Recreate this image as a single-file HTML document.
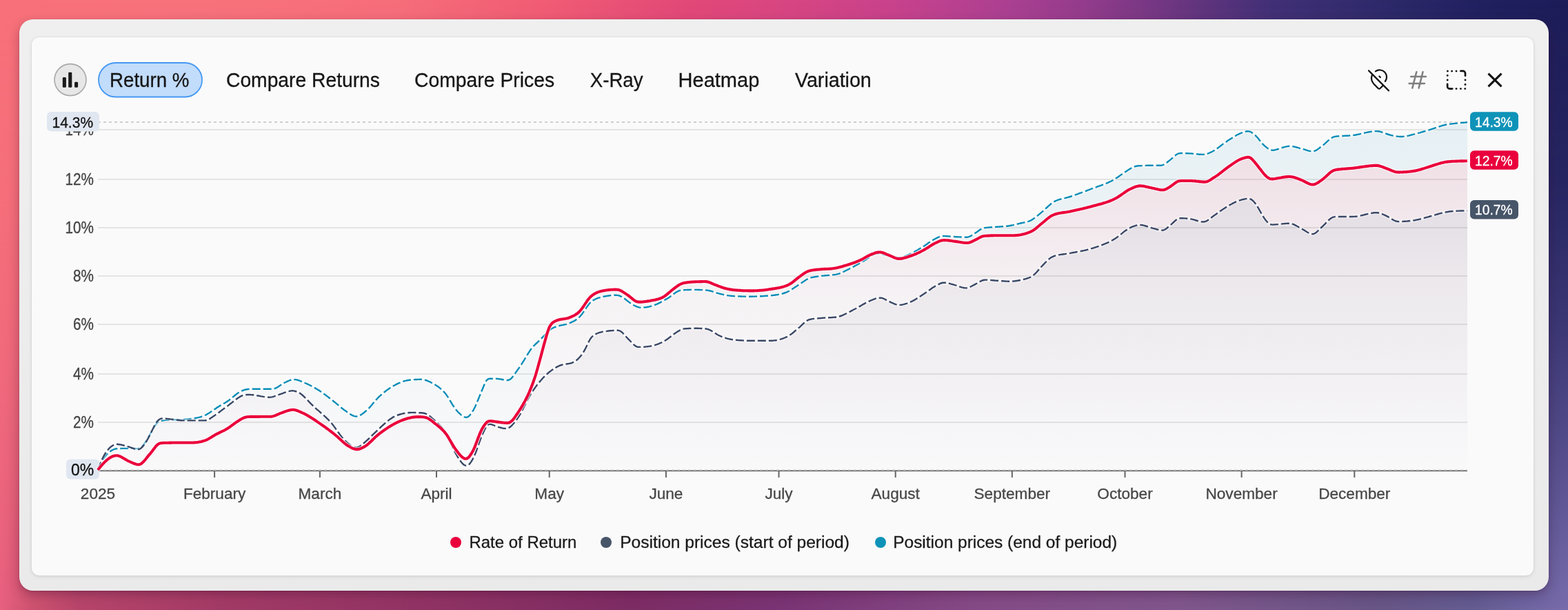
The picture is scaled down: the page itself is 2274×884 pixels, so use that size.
<!DOCTYPE html>
<html><head><meta charset="utf-8"><style>
html,body{margin:0;padding:0;}
body{width:2274px;height:884px;position:relative;overflow:hidden;
background:linear-gradient(90deg,rgb(248,113,122) 0%,rgb(247,114,123) 13%,rgb(246,110,122) 25%,rgb(240,92,116) 35%,rgb(226,72,120) 44%,rgb(216,70,130) 50%,rgb(200,66,140) 57%,rgb(172,64,145) 64%,rgb(148,60,140) 69%,rgb(108,54,128) 75%,rgb(66,48,118) 81%,rgb(46,42,106) 88%,rgb(34,33,96) 94%,rgb(28,28,88) 100%);
font-family:'Liberation Sans',Arial,sans-serif;}
.bgb{position:absolute;left:0;top:0;width:2274px;height:884px;
background:linear-gradient(90deg,rgb(232,96,127) 0%,rgb(205,82,112) 2%,rgb(182,68,106) 5%,rgb(162,58,102) 14%,rgb(142,50,100) 28%,rgb(124,44,100) 40%,rgb(120,52,116) 50%,rgb(132,74,134) 62%,rgb(128,86,140) 75%,rgb(104,86,134) 88%,rgb(100,92,145) 94%,rgb(120,108,172) 100%);
-webkit-mask-image:linear-gradient(180deg,rgba(0,0,0,0) 0%,rgba(0,0,0,0.12) 30%,rgba(0,0,0,0.33) 52%,rgba(0,0,0,0.65) 76%,rgba(0,0,0,1) 100%);mask-image:linear-gradient(180deg,rgba(0,0,0,0) 0%,rgba(0,0,0,0.12) 30%,rgba(0,0,0,0.33) 52%,rgba(0,0,0,0.65) 76%,rgba(0,0,0,1) 100%);}
.outer{position:absolute;left:28px;top:28px;width:2218px;height:828px;border-radius:20px;background:linear-gradient(180deg,#efefef,#eaeaea);
box-shadow:0 6px 16px rgba(50,0,40,0.30),0 1px 3px rgba(0,0,0,0.12);}
.inner{position:absolute;left:46px;top:54px;width:2178px;height:780px;border-radius:11px;background:#fafafa;
box-shadow:0 0 3px rgba(0,0,0,0.10),0 2px 6px rgba(0,0,0,0.08);}
</style></head><body>
<div class="bgb"></div><div class="outer"></div><div class="inner"></div>
<svg width="2274" height="884" viewBox="0 0 2274 884" style="position:absolute;left:0;top:0"><defs><linearGradient id="gT" gradientUnits="userSpaceOnUse" x1="0" y1="177" x2="0" y2="682"><stop offset="0" stop-color="#e6f0f4"/><stop offset="1" stop-color="#f9f9fa"/></linearGradient><linearGradient id="gR" gradientUnits="userSpaceOnUse" x1="0" y1="177" x2="0" y2="682"><stop offset="0" stop-color="rgb(238,219,226)"/><stop offset="0.521" stop-color="rgb(246,243,245)"/><stop offset="1" stop-color="rgb(250,250,250)"/></linearGradient><linearGradient id="gS" gradientUnits="userSpaceOnUse" x1="0" y1="287" x2="0" y2="682"><stop offset="0" stop-color="rgb(228,222,229)"/><stop offset="0.109" stop-color="rgb(230,225,231)"/><stop offset="0.286" stop-color="rgb(236,232,236)"/><stop offset="0.641" stop-color="rgb(242,240,243)"/><stop offset="1" stop-color="rgb(249,249,250)"/></linearGradient></defs><path d="M142.0,681.0 L143.5,677.7 L145.0,674.5 L146.5,671.4 L148.0,668.4 L149.5,665.7 L151.0,663.3 L152.5,661.2 L154.0,659.4 L155.5,657.8 L157.0,656.5 L158.5,655.2 L160.0,654.1 L161.5,653.1 L163.0,652.2 L164.5,651.5 L166.0,650.9 L167.5,650.5 L169.0,650.3 L170.5,650.2 L172.0,650.1 L173.5,650.0 L175.0,650.0 L176.5,649.9 L178.0,649.9 L179.5,649.9 L181.0,649.9 L182.5,649.8 L184.0,649.8 L185.5,649.8 L187.0,649.8 L188.5,649.8 L190.0,649.8 L191.5,649.9 L193.0,649.9 L194.5,650.0 L196.0,650.0 L197.5,650.1 L199.0,650.1 L200.5,650.0 L202.0,649.7 L203.5,649.0 L205.0,647.8 L206.5,646.3 L208.0,644.5 L209.5,642.6 L211.0,640.4 L212.5,638.1 L214.0,635.6 L215.5,632.9 L217.0,630.3 L218.5,627.7 L220.0,625.1 L221.5,622.6 L223.0,620.1 L224.5,617.6 L226.0,615.2 L227.5,613.2 L229.0,611.7 L230.5,610.8 L232.0,610.2 L233.5,609.8 L235.0,609.5 L236.5,609.3 L238.0,609.1 L239.5,608.9 L241.0,608.8 L242.5,608.7 L244.0,608.6 L245.5,608.5 L247.0,608.5 L248.5,608.4 L250.0,608.4 L251.5,608.3 L253.0,608.3 L254.5,608.3 L256.0,608.3 L257.5,608.3 L259.0,608.2 L260.5,608.2 L262.0,608.1 L263.5,608.1 L265.0,608.0 L266.5,607.9 L268.0,607.8 L269.5,607.7 L271.0,607.6 L272.5,607.5 L274.0,607.4 L275.5,607.2 L277.0,607.0 L278.5,606.8 L280.0,606.6 L281.5,606.3 L283.0,606.0 L284.5,605.7 L286.0,605.4 L287.5,605.1 L289.0,604.7 L290.5,604.3 L292.0,603.8 L293.5,603.3 L295.0,602.8 L296.5,602.2 L298.0,601.5 L299.5,600.8 L301.0,599.9 L302.5,599.0 L304.0,598.1 L305.5,597.1 L307.0,596.1 L308.5,595.0 L310.0,594.0 L311.5,592.9 L313.0,591.9 L314.5,590.8 L316.0,589.9 L317.5,588.9 L319.0,588.0 L320.5,587.1 L322.0,586.3 L323.5,585.4 L325.0,584.5 L326.5,583.7 L328.0,582.7 L329.5,581.8 L331.0,580.7 L332.5,579.7 L334.0,578.5 L335.5,577.3 L337.0,576.0 L338.5,574.8 L340.0,573.5 L341.5,572.3 L343.0,571.1 L344.5,570.0 L346.0,569.0 L347.5,568.1 L349.0,567.3 L350.5,566.6 L352.0,565.9 L353.5,565.4 L355.0,564.9 L356.5,564.5 L358.0,564.2 L359.5,564.0 L361.0,563.9 L362.5,563.8 L364.0,563.8 L365.5,563.8 L367.0,563.8 L368.5,563.8 L370.0,563.8 L371.5,563.8 L373.0,563.8 L374.5,563.8 L376.0,563.8 L377.5,563.8 L379.0,563.8 L380.5,563.8 L382.0,563.8 L383.5,563.8 L385.0,563.8 L386.5,563.8 L388.0,563.8 L389.5,563.8 L391.0,563.8 L392.5,563.8 L394.0,563.8 L395.5,563.7 L397.0,563.4 L398.5,563.0 L400.0,562.4 L401.5,561.7 L403.0,560.8 L404.5,559.8 L406.0,558.8 L407.5,557.7 L409.0,556.7 L410.5,555.8 L412.0,555.0 L413.5,554.3 L415.0,553.5 L416.5,552.8 L418.0,552.2 L419.5,551.5 L421.0,550.9 L422.5,550.5 L424.0,550.2 L425.5,550.0 L427.0,550.0 L428.5,550.1 L430.0,550.4 L431.5,550.7 L433.0,551.2 L434.5,551.7 L436.0,552.3 L437.5,552.9 L439.0,553.5 L440.5,554.2 L442.0,554.8 L443.5,555.5 L445.0,556.1 L446.5,556.8 L448.0,557.5 L449.5,558.3 L451.0,559.1 L452.5,559.8 L454.0,560.7 L455.5,561.5 L457.0,562.4 L458.5,563.3 L460.0,564.2 L461.5,565.1 L463.0,566.1 L464.5,567.1 L466.0,568.1 L467.5,569.1 L469.0,570.2 L470.5,571.2 L472.0,572.4 L473.5,573.5 L475.0,574.6 L476.5,575.8 L478.0,577.0 L479.5,578.1 L481.0,579.3 L482.5,580.5 L484.0,581.7 L485.5,582.9 L487.0,584.1 L488.5,585.3 L490.0,586.6 L491.5,587.9 L493.0,589.2 L494.5,590.4 L496.0,591.7 L497.5,592.8 L499.0,594.0 L500.5,595.1 L502.0,596.1 L503.5,597.2 L505.0,598.2 L506.5,599.2 L508.0,600.2 L509.5,601.1 L511.0,601.9 L512.5,602.6 L514.0,603.1 L515.5,603.4 L517.0,603.5 L518.5,603.3 L520.0,602.8 L521.5,602.2 L523.0,601.4 L524.5,600.5 L526.0,599.4 L527.5,598.3 L529.0,597.0 L530.5,595.8 L532.0,594.5 L533.5,593.1 L535.0,591.6 L536.5,589.9 L538.0,588.2 L539.5,586.4 L541.0,584.6 L542.5,582.8 L544.0,581.1 L545.5,579.4 L547.0,577.7 L548.5,576.2 L550.0,574.7 L551.5,573.3 L553.0,572.0 L554.5,570.7 L556.0,569.4 L557.5,568.2 L559.0,567.0 L560.5,565.9 L562.0,564.8 L563.5,563.7 L565.0,562.7 L566.5,561.7 L568.0,560.8 L569.5,559.9 L571.0,559.0 L572.5,558.2 L574.0,557.4 L575.5,556.6 L577.0,555.9 L578.5,555.2 L580.0,554.6 L581.5,553.9 L583.0,553.4 L584.5,552.8 L586.0,552.4 L587.5,551.9 L589.0,551.6 L590.5,551.2 L592.0,551.0 L593.5,550.8 L595.0,550.6 L596.5,550.5 L598.0,550.3 L599.5,550.2 L601.0,550.1 L602.5,550.0 L604.0,550.0 L605.5,549.9 L607.0,549.9 L608.5,549.8 L610.0,549.8 L611.5,549.9 L613.0,550.1 L614.5,550.3 L616.0,550.6 L617.5,551.0 L619.0,551.5 L620.5,552.1 L622.0,552.8 L623.5,553.4 L625.0,554.2 L626.5,555.0 L628.0,555.8 L629.5,556.6 L631.0,557.5 L632.5,558.5 L634.0,559.4 L635.5,560.5 L637.0,561.6 L638.5,562.8 L640.0,564.1 L641.5,565.5 L643.0,567.0 L644.5,568.6 L646.0,570.4 L647.5,572.4 L649.0,574.6 L650.5,576.9 L652.0,579.4 L653.5,581.9 L655.0,584.4 L656.5,586.8 L658.0,589.2 L659.5,591.3 L661.0,593.3 L662.5,595.1 L664.0,596.7 L665.5,598.3 L667.0,599.7 L668.5,601.1 L670.0,602.3 L671.5,603.3 L673.0,604.1 L674.5,604.6 L676.0,604.8 L677.5,604.6 L679.0,603.9 L680.5,602.7 L682.0,601.1 L683.5,599.1 L685.0,596.8 L686.5,594.3 L688.0,591.5 L689.5,588.5 L691.0,585.1 L692.5,581.5 L694.0,577.8 L695.5,574.1 L697.0,570.4 L698.5,566.8 L700.0,563.2 L701.5,559.5 L703.0,556.0 L704.5,553.0 L706.0,550.8 L707.5,549.5 L709.0,549.0 L710.5,548.8 L712.0,548.8 L713.5,548.8 L715.0,548.8 L716.5,548.8 L718.0,548.8 L719.5,548.8 L721.0,548.9 L722.5,549.0 L724.0,549.2 L725.5,549.4 L727.0,549.7 L728.5,550.0 L730.0,550.3 L731.5,550.6 L733.0,550.8 L734.5,551.0 L736.0,551.0 L737.5,550.8 L739.0,550.2 L740.5,549.2 L742.0,547.8 L743.5,546.1 L745.0,544.1 L746.5,542.0 L748.0,539.9 L749.5,537.7 L751.0,535.6 L752.5,533.5 L754.0,531.3 L755.5,529.1 L757.0,526.8 L758.5,524.4 L760.0,522.1 L761.5,519.7 L763.0,517.2 L764.5,514.7 L766.0,512.2 L767.5,509.8 L769.0,507.5 L770.5,505.4 L772.0,503.5 L773.5,501.9 L775.0,500.3 L776.5,498.9 L778.0,497.5 L779.5,496.1 L781.0,494.7 L782.5,493.2 L784.0,491.7 L785.5,490.2 L787.0,488.7 L788.5,487.2 L790.0,485.6 L791.5,484.1 L793.0,482.5 L794.5,480.9 L796.0,479.4 L797.5,478.1 L799.0,477.0 L800.5,476.0 L802.0,475.2 L803.5,474.5 L805.0,474.0 L806.5,473.5 L808.0,473.0 L809.5,472.5 L811.0,472.1 L812.5,471.7 L814.0,471.4 L815.5,471.1 L817.0,470.8 L818.5,470.5 L820.0,470.2 L821.5,469.8 L823.0,469.3 L824.5,468.8 L826.0,468.2 L827.5,467.6 L829.0,466.9 L830.5,466.2 L832.0,465.5 L833.5,464.6 L835.0,463.7 L836.5,462.7 L838.0,461.6 L839.5,460.3 L841.0,458.8 L842.5,457.1 L844.0,455.2 L845.5,453.1 L847.0,450.9 L848.5,448.6 L850.0,446.4 L851.5,444.2 L853.0,442.2 L854.5,440.3 L856.0,438.7 L857.5,437.3 L859.0,436.1 L860.5,435.1 L862.0,434.2 L863.5,433.5 L865.0,432.8 L866.5,432.2 L868.0,431.7 L869.5,431.3 L871.0,430.9 L872.5,430.5 L874.0,430.1 L875.5,429.8 L877.0,429.5 L878.5,429.2 L880.0,428.9 L881.5,428.7 L883.0,428.5 L884.5,428.3 L886.0,428.1 L887.5,428.0 L889.0,427.9 L890.5,427.8 L892.0,427.8 L893.5,427.8 L895.0,427.9 L896.5,428.1 L898.0,428.5 L899.5,429.1 L901.0,429.8 L902.5,430.6 L904.0,431.5 L905.5,432.5 L907.0,433.7 L908.5,434.9 L910.0,436.1 L911.5,437.3 L913.0,438.4 L914.5,439.5 L916.0,440.4 L917.5,441.3 L919.0,442.2 L920.5,443.0 L922.0,443.7 L923.5,444.4 L925.0,444.9 L926.5,445.4 L928.0,445.6 L929.5,445.7 L931.0,445.7 L932.5,445.6 L934.0,445.5 L935.5,445.4 L937.0,445.2 L938.5,445.0 L940.0,444.7 L941.5,444.4 L943.0,444.0 L944.5,443.7 L946.0,443.2 L947.5,442.8 L949.0,442.2 L950.5,441.7 L952.0,441.0 L953.5,440.4 L955.0,439.6 L956.5,438.9 L958.0,438.1 L959.5,437.3 L961.0,436.5 L962.5,435.6 L964.0,434.8 L965.5,433.9 L967.0,433.1 L968.5,432.2 L970.0,431.2 L971.5,430.2 L973.0,429.1 L974.5,428.0 L976.0,426.8 L977.5,425.7 L979.0,424.6 L980.5,423.6 L982.0,422.7 L983.5,421.9 L985.0,421.3 L986.5,420.8 L988.0,420.5 L989.5,420.4 L991.0,420.3 L992.5,420.2 L994.0,420.1 L995.5,420.1 L997.0,420.0 L998.5,420.0 L1000.0,420.0 L1001.5,419.9 L1003.0,419.9 L1004.5,419.9 L1006.0,419.9 L1007.5,419.9 L1009.0,419.9 L1010.5,419.9 L1012.0,420.0 L1013.5,420.0 L1015.0,420.0 L1016.5,420.1 L1018.0,420.1 L1019.5,420.2 L1021.0,420.3 L1022.5,420.4 L1024.0,420.5 L1025.5,420.6 L1027.0,420.9 L1028.5,421.2 L1030.0,421.5 L1031.5,421.9 L1033.0,422.4 L1034.5,422.9 L1036.0,423.3 L1037.5,423.8 L1039.0,424.3 L1040.5,424.8 L1042.0,425.2 L1043.5,425.6 L1045.0,426.0 L1046.5,426.3 L1048.0,426.7 L1049.5,427.0 L1051.0,427.3 L1052.5,427.6 L1054.0,427.9 L1055.5,428.2 L1057.0,428.4 L1058.5,428.6 L1060.0,428.8 L1061.5,428.9 L1063.0,429.0 L1064.5,429.1 L1066.0,429.2 L1067.5,429.2 L1069.0,429.3 L1070.5,429.4 L1072.0,429.4 L1073.5,429.5 L1075.0,429.5 L1076.5,429.6 L1078.0,429.6 L1079.5,429.6 L1081.0,429.7 L1082.5,429.7 L1084.0,429.7 L1085.5,429.7 L1087.0,429.7 L1088.5,429.7 L1090.0,429.7 L1091.5,429.7 L1093.0,429.6 L1094.5,429.6 L1096.0,429.6 L1097.5,429.5 L1099.0,429.5 L1100.5,429.4 L1102.0,429.3 L1103.5,429.3 L1105.0,429.2 L1106.5,429.1 L1108.0,429.0 L1109.5,428.9 L1111.0,428.8 L1112.5,428.7 L1114.0,428.6 L1115.5,428.4 L1117.0,428.3 L1118.5,428.2 L1120.0,428.0 L1121.5,427.9 L1123.0,427.7 L1124.5,427.5 L1126.0,427.3 L1127.5,427.1 L1129.0,426.8 L1130.5,426.5 L1132.0,426.2 L1133.5,425.9 L1135.0,425.5 L1136.5,425.0 L1138.0,424.5 L1139.5,424.0 L1141.0,423.4 L1142.5,422.7 L1144.0,422.0 L1145.5,421.1 L1147.0,420.3 L1148.5,419.3 L1150.0,418.3 L1151.5,417.3 L1153.0,416.3 L1154.5,415.3 L1156.0,414.2 L1157.5,413.2 L1159.0,412.3 L1160.5,411.3 L1162.0,410.3 L1163.5,409.2 L1165.0,408.2 L1166.5,407.2 L1168.0,406.2 L1169.5,405.3 L1171.0,404.5 L1172.5,403.7 L1174.0,403.1 L1175.5,402.6 L1177.0,402.2 L1178.5,401.8 L1180.0,401.5 L1181.5,401.2 L1183.0,401.0 L1184.5,400.8 L1186.0,400.6 L1187.5,400.4 L1189.0,400.2 L1190.5,400.0 L1192.0,399.8 L1193.5,399.6 L1195.0,399.5 L1196.5,399.3 L1198.0,399.2 L1199.5,399.1 L1201.0,399.0 L1202.5,398.9 L1204.0,398.8 L1205.5,398.7 L1207.0,398.5 L1208.5,398.3 L1210.0,398.1 L1211.5,397.9 L1213.0,397.6 L1214.5,397.2 L1216.0,396.8 L1217.5,396.3 L1219.0,395.7 L1220.5,395.1 L1222.0,394.5 L1223.5,393.8 L1225.0,393.0 L1226.5,392.3 L1228.0,391.5 L1229.5,390.7 L1231.0,390.0 L1232.5,389.2 L1234.0,388.4 L1235.5,387.6 L1237.0,386.9 L1238.5,386.1 L1240.0,385.2 L1241.5,384.4 L1243.0,383.6 L1244.5,382.7 L1246.0,381.9 L1247.5,381.0 L1249.0,380.2 L1250.5,379.3 L1252.0,378.5 L1253.5,377.6 L1255.0,376.7 L1256.5,375.7 L1258.0,374.6 L1259.5,373.6 L1261.0,372.5 L1262.5,371.5 L1264.0,370.5 L1265.5,369.6 L1267.0,368.8 L1268.5,368.2 L1270.0,367.7 L1271.5,367.4 L1273.0,367.3 L1274.5,367.4 L1276.0,367.6 L1277.5,367.9 L1279.0,368.3 L1280.5,368.6 L1282.0,369.0 L1283.5,369.4 L1285.0,369.7 L1286.5,370.1 L1288.0,370.5 L1289.5,370.9 L1291.0,371.3 L1292.5,371.6 L1294.0,372.0 L1295.5,372.3 L1297.0,372.6 L1298.5,372.9 L1300.0,373.0 L1301.5,373.2 L1303.0,373.2 L1304.5,373.1 L1306.0,373.0 L1307.5,372.7 L1309.0,372.3 L1310.5,371.8 L1312.0,371.3 L1313.5,370.7 L1315.0,370.2 L1316.5,369.6 L1318.0,368.9 L1319.5,368.3 L1321.0,367.6 L1322.5,366.8 L1324.0,366.1 L1325.5,365.2 L1327.0,364.4 L1328.5,363.5 L1330.0,362.7 L1331.5,361.8 L1333.0,360.9 L1334.5,360.0 L1336.0,359.0 L1337.5,358.1 L1339.0,357.2 L1340.5,356.2 L1342.0,355.2 L1343.5,354.2 L1345.0,353.2 L1346.5,352.1 L1348.0,351.1 L1349.5,350.1 L1351.0,349.1 L1352.5,348.2 L1354.0,347.3 L1355.5,346.5 L1357.0,345.7 L1358.5,344.9 L1360.0,344.2 L1361.5,343.5 L1363.0,342.9 L1364.5,342.5 L1366.0,342.2 L1367.5,342.1 L1369.0,342.1 L1370.5,342.1 L1372.0,342.2 L1373.5,342.3 L1375.0,342.4 L1376.5,342.5 L1378.0,342.6 L1379.5,342.7 L1381.0,342.8 L1382.5,342.9 L1384.0,343.0 L1385.5,343.1 L1387.0,343.2 L1388.5,343.3 L1390.0,343.4 L1391.5,343.4 L1393.0,343.5 L1394.5,343.6 L1396.0,343.6 L1397.5,343.7 L1399.0,343.7 L1400.5,343.8 L1402.0,343.7 L1403.5,343.6 L1405.0,343.2 L1406.5,342.6 L1408.0,341.9 L1409.5,340.9 L1411.0,339.9 L1412.5,338.9 L1414.0,337.9 L1415.5,336.9 L1417.0,335.9 L1418.5,334.9 L1420.0,333.8 L1421.5,332.8 L1423.0,331.9 L1424.5,331.2 L1426.0,330.7 L1427.5,330.3 L1429.0,330.1 L1430.5,329.9 L1432.0,329.8 L1433.5,329.6 L1435.0,329.5 L1436.5,329.4 L1438.0,329.3 L1439.5,329.2 L1441.0,329.1 L1442.5,329.0 L1444.0,328.9 L1445.5,328.8 L1447.0,328.7 L1448.5,328.6 L1450.0,328.5 L1451.5,328.4 L1453.0,328.3 L1454.5,328.2 L1456.0,328.1 L1457.5,328.0 L1459.0,327.8 L1460.5,327.7 L1462.0,327.5 L1463.5,327.3 L1465.0,327.0 L1466.5,326.7 L1468.0,326.4 L1469.5,326.1 L1471.0,325.7 L1472.5,325.4 L1474.0,325.0 L1475.5,324.6 L1477.0,324.3 L1478.5,323.9 L1480.0,323.5 L1481.5,323.2 L1483.0,322.9 L1484.5,322.6 L1486.0,322.3 L1487.5,322.0 L1489.0,321.6 L1490.5,321.2 L1492.0,320.7 L1493.5,320.1 L1495.0,319.4 L1496.5,318.6 L1498.0,317.6 L1499.5,316.6 L1501.0,315.5 L1502.5,314.4 L1504.0,313.2 L1505.5,311.9 L1507.0,310.7 L1508.5,309.4 L1510.0,308.2 L1511.5,306.9 L1513.0,305.6 L1514.5,304.2 L1516.0,302.8 L1517.5,301.4 L1519.0,300.0 L1520.5,298.6 L1522.0,297.3 L1523.5,296.0 L1525.0,294.8 L1526.5,293.7 L1528.0,292.8 L1529.5,291.9 L1531.0,291.1 L1532.5,290.5 L1534.0,289.9 L1535.5,289.4 L1537.0,288.9 L1538.5,288.5 L1540.0,288.1 L1541.5,287.8 L1543.0,287.4 L1544.5,287.1 L1546.0,286.7 L1547.5,286.3 L1549.0,285.9 L1550.5,285.5 L1552.0,285.0 L1553.5,284.5 L1555.0,283.9 L1556.5,283.4 L1558.0,282.9 L1559.5,282.4 L1561.0,281.8 L1562.5,281.3 L1564.0,280.7 L1565.5,280.2 L1567.0,279.6 L1568.5,279.1 L1570.0,278.5 L1571.5,278.0 L1573.0,277.4 L1574.5,276.9 L1576.0,276.3 L1577.5,275.7 L1579.0,275.2 L1580.5,274.6 L1582.0,274.0 L1583.5,273.4 L1585.0,272.9 L1586.5,272.3 L1588.0,271.8 L1589.5,271.3 L1591.0,270.7 L1592.5,270.2 L1594.0,269.7 L1595.5,269.1 L1597.0,268.6 L1598.5,268.0 L1600.0,267.5 L1601.5,266.9 L1603.0,266.3 L1604.5,265.7 L1606.0,265.1 L1607.5,264.4 L1609.0,263.7 L1610.5,263.0 L1612.0,262.2 L1613.5,261.4 L1615.0,260.6 L1616.5,259.7 L1618.0,258.8 L1619.5,257.8 L1621.0,256.8 L1622.5,255.7 L1624.0,254.6 L1625.5,253.5 L1627.0,252.5 L1628.5,251.4 L1630.0,250.4 L1631.5,249.4 L1633.0,248.4 L1634.5,247.5 L1636.0,246.5 L1637.5,245.6 L1639.0,244.6 L1640.5,243.7 L1642.0,242.9 L1643.5,242.2 L1645.0,241.5 L1646.5,241.0 L1648.0,240.7 L1649.5,240.5 L1651.0,240.3 L1652.5,240.2 L1654.0,240.2 L1655.5,240.1 L1657.0,240.0 L1658.5,240.0 L1660.0,239.9 L1661.5,239.9 L1663.0,239.9 L1664.5,239.8 L1666.0,239.8 L1667.5,239.8 L1669.0,239.8 L1670.5,239.8 L1672.0,239.8 L1673.5,239.8 L1675.0,239.8 L1676.5,239.8 L1678.0,239.8 L1679.5,239.8 L1681.0,239.8 L1682.5,239.8 L1684.0,239.7 L1685.5,239.4 L1687.0,238.9 L1688.5,238.2 L1690.0,237.3 L1691.5,236.2 L1693.0,235.0 L1694.5,233.8 L1696.0,232.6 L1697.5,231.4 L1699.0,230.2 L1700.5,228.9 L1702.0,227.5 L1703.5,226.2 L1705.0,224.9 L1706.5,223.8 L1708.0,223.0 L1709.5,222.4 L1711.0,222.1 L1712.5,222.0 L1714.0,221.9 L1715.5,222.0 L1717.0,222.0 L1718.5,222.1 L1720.0,222.1 L1721.5,222.2 L1723.0,222.3 L1724.5,222.4 L1726.0,222.4 L1727.5,222.5 L1729.0,222.6 L1730.5,222.8 L1732.0,222.9 L1733.5,223.1 L1735.0,223.2 L1736.5,223.4 L1738.0,223.5 L1739.5,223.7 L1741.0,223.8 L1742.5,223.9 L1744.0,223.9 L1745.5,223.9 L1747.0,223.8 L1748.5,223.5 L1750.0,223.1 L1751.5,222.6 L1753.0,222.0 L1754.5,221.4 L1756.0,220.7 L1757.5,220.0 L1759.0,219.2 L1760.5,218.3 L1762.0,217.4 L1763.5,216.4 L1765.0,215.3 L1766.5,214.2 L1768.0,213.1 L1769.5,212.0 L1771.0,210.8 L1772.5,209.6 L1774.0,208.5 L1775.5,207.4 L1777.0,206.4 L1778.5,205.4 L1780.0,204.3 L1781.5,203.3 L1783.0,202.3 L1784.5,201.4 L1786.0,200.4 L1787.5,199.4 L1789.0,198.4 L1790.5,197.5 L1792.0,196.7 L1793.5,195.8 L1795.0,195.0 L1796.5,194.3 L1798.0,193.6 L1799.5,193.0 L1801.0,192.4 L1802.5,191.9 L1804.0,191.3 L1805.5,190.9 L1807.0,190.5 L1808.5,190.3 L1810.0,190.2 L1811.5,190.4 L1813.0,190.8 L1814.5,191.5 L1816.0,192.4 L1817.5,193.6 L1819.0,194.9 L1820.5,196.2 L1822.0,197.7 L1823.5,199.3 L1825.0,201.1 L1826.5,203.0 L1828.0,204.9 L1829.5,206.7 L1831.0,208.4 L1832.5,210.0 L1834.0,211.4 L1835.5,212.7 L1837.0,213.9 L1838.5,215.0 L1840.0,216.0 L1841.5,216.8 L1843.0,217.3 L1844.5,217.6 L1846.0,217.7 L1847.5,217.6 L1849.0,217.3 L1850.5,216.9 L1852.0,216.5 L1853.5,216.0 L1855.0,215.4 L1856.5,214.9 L1858.0,214.4 L1859.5,214.0 L1861.0,213.6 L1862.5,213.2 L1864.0,212.8 L1865.5,212.4 L1867.0,212.1 L1868.5,211.9 L1870.0,211.8 L1871.5,211.8 L1873.0,211.9 L1874.5,212.1 L1876.0,212.4 L1877.5,212.7 L1879.0,213.1 L1880.5,213.5 L1882.0,213.9 L1883.5,214.4 L1885.0,214.8 L1886.5,215.2 L1888.0,215.6 L1889.5,216.0 L1891.0,216.4 L1892.5,216.9 L1894.0,217.4 L1895.5,217.9 L1897.0,218.3 L1898.5,218.7 L1900.0,219.0 L1901.5,219.2 L1903.0,219.3 L1904.5,219.2 L1906.0,218.9 L1907.5,218.4 L1909.0,217.6 L1910.5,216.7 L1912.0,215.6 L1913.5,214.5 L1915.0,213.3 L1916.5,212.2 L1918.0,211.1 L1919.5,209.9 L1921.0,208.6 L1922.5,207.2 L1924.0,205.8 L1925.5,204.4 L1927.0,203.1 L1928.5,201.8 L1930.0,200.6 L1931.5,199.7 L1933.0,198.9 L1934.5,198.3 L1936.0,197.9 L1937.5,197.7 L1939.0,197.5 L1940.5,197.4 L1942.0,197.3 L1943.5,197.2 L1945.0,197.1 L1946.5,197.0 L1948.0,197.0 L1949.5,196.9 L1951.0,196.8 L1952.5,196.8 L1954.0,196.7 L1955.5,196.6 L1957.0,196.5 L1958.5,196.4 L1960.0,196.3 L1961.5,196.1 L1963.0,195.9 L1964.5,195.7 L1966.0,195.5 L1967.5,195.2 L1969.0,194.9 L1970.5,194.6 L1972.0,194.3 L1973.5,193.9 L1975.0,193.6 L1976.5,193.2 L1978.0,192.9 L1979.5,192.5 L1981.0,192.2 L1982.5,191.8 L1984.0,191.5 L1985.5,191.2 L1987.0,191.0 L1988.5,190.7 L1990.0,190.5 L1991.5,190.3 L1993.0,190.2 L1994.5,190.1 L1996.0,190.1 L1997.5,190.1 L1999.0,190.3 L2000.5,190.5 L2002.0,190.9 L2003.5,191.3 L2005.0,191.8 L2006.5,192.3 L2008.0,192.8 L2009.5,193.4 L2011.0,194.0 L2012.5,194.5 L2014.0,195.0 L2015.5,195.5 L2017.0,195.9 L2018.5,196.2 L2020.0,196.6 L2021.5,196.8 L2023.0,197.1 L2024.5,197.3 L2026.0,197.6 L2027.5,197.8 L2029.0,197.9 L2030.5,198.0 L2032.0,198.0 L2033.5,198.0 L2035.0,197.9 L2036.5,197.8 L2038.0,197.6 L2039.5,197.3 L2041.0,197.0 L2042.5,196.7 L2044.0,196.3 L2045.5,195.9 L2047.0,195.5 L2048.5,195.1 L2050.0,194.7 L2051.5,194.3 L2053.0,193.8 L2054.5,193.5 L2056.0,193.1 L2057.5,192.7 L2059.0,192.3 L2060.5,191.8 L2062.0,191.4 L2063.5,191.0 L2065.0,190.5 L2066.5,190.1 L2068.0,189.6 L2069.5,189.2 L2071.0,188.7 L2072.5,188.3 L2074.0,187.8 L2075.5,187.3 L2077.0,186.9 L2078.5,186.4 L2080.0,185.9 L2081.5,185.4 L2083.0,184.9 L2084.5,184.3 L2086.0,183.8 L2087.5,183.3 L2089.0,182.8 L2090.5,182.4 L2092.0,181.9 L2093.5,181.5 L2095.0,181.1 L2096.5,180.8 L2098.0,180.5 L2099.5,180.2 L2101.0,180.0 L2102.5,179.8 L2104.0,179.6 L2105.5,179.4 L2107.0,179.3 L2108.5,179.1 L2110.0,178.9 L2111.5,178.8 L2113.0,178.6 L2114.5,178.5 L2116.0,178.3 L2117.5,178.1 L2119.0,178.0 L2120.5,177.9 L2122.0,177.7 L2123.5,177.6 L2125.0,177.5 L2126.5,177.3 L2128.0,177.2 L2128.0,682 L142.0,682 Z" fill="url(#gT)"/><path d="M142.0,681.0 L143.5,679.1 L145.0,677.3 L146.5,675.4 L148.0,673.7 L149.5,672.0 L151.0,670.4 L152.5,668.9 L154.0,667.5 L155.5,666.2 L157.0,665.1 L158.5,664.0 L160.0,663.1 L161.5,662.2 L163.0,661.5 L164.5,660.9 L166.0,660.5 L167.5,660.2 L169.0,660.2 L170.5,660.3 L172.0,660.6 L173.5,661.1 L175.0,661.8 L176.5,662.5 L178.0,663.4 L179.5,664.3 L181.0,665.2 L182.5,666.1 L184.0,667.0 L185.5,667.8 L187.0,668.5 L188.5,669.2 L190.0,669.8 L191.5,670.5 L193.0,671.1 L194.5,671.8 L196.0,672.3 L197.5,672.8 L199.0,673.1 L200.5,673.2 L202.0,673.1 L203.5,672.7 L205.0,671.8 L206.5,670.6 L208.0,669.2 L209.5,667.5 L211.0,665.7 L212.5,663.8 L214.0,661.9 L215.5,660.1 L217.0,658.4 L218.5,656.6 L220.0,654.7 L221.5,652.7 L223.0,650.7 L224.5,648.7 L226.0,646.9 L227.5,645.2 L229.0,643.9 L230.5,643.0 L232.0,642.4 L233.5,642.1 L235.0,642.0 L236.5,641.9 L238.0,641.8 L239.5,641.8 L241.0,641.7 L242.5,641.7 L244.0,641.7 L245.5,641.6 L247.0,641.6 L248.5,641.6 L250.0,641.5 L251.5,641.5 L253.0,641.5 L254.5,641.5 L256.0,641.5 L257.5,641.5 L259.0,641.5 L260.5,641.5 L262.0,641.5 L263.5,641.5 L265.0,641.5 L266.5,641.5 L268.0,641.5 L269.5,641.5 L271.0,641.5 L272.5,641.5 L274.0,641.5 L275.5,641.5 L277.0,641.5 L278.5,641.5 L280.0,641.5 L281.5,641.4 L283.0,641.3 L284.5,641.2 L286.0,641.0 L287.5,640.8 L289.0,640.5 L290.5,640.2 L292.0,639.9 L293.5,639.5 L295.0,639.1 L296.5,638.6 L298.0,638.1 L299.5,637.5 L301.0,636.8 L302.5,636.0 L304.0,635.1 L305.5,634.2 L307.0,633.3 L308.5,632.3 L310.0,631.4 L311.5,630.5 L313.0,629.6 L314.5,628.9 L316.0,628.1 L317.5,627.4 L319.0,626.6 L320.5,625.9 L322.0,625.2 L323.5,624.5 L325.0,623.8 L326.5,623.0 L328.0,622.1 L329.5,621.2 L331.0,620.3 L332.5,619.3 L334.0,618.2 L335.5,617.1 L337.0,615.9 L338.5,614.8 L340.0,613.7 L341.5,612.7 L343.0,611.6 L344.5,610.7 L346.0,609.7 L347.5,608.8 L349.0,607.8 L350.5,607.0 L352.0,606.2 L353.5,605.5 L355.0,604.9 L356.5,604.5 L358.0,604.2 L359.5,604.0 L361.0,604.0 L362.5,603.9 L364.0,603.9 L365.5,603.9 L367.0,603.9 L368.5,603.9 L370.0,603.9 L371.5,603.9 L373.0,603.9 L374.5,603.9 L376.0,603.9 L377.5,603.8 L379.0,603.8 L380.5,603.8 L382.0,603.8 L383.5,603.8 L385.0,603.8 L386.5,603.8 L388.0,603.8 L389.5,603.8 L391.0,603.7 L392.5,603.7 L394.0,603.6 L395.5,603.3 L397.0,602.9 L398.5,602.4 L400.0,601.8 L401.5,601.1 L403.0,600.5 L404.5,599.8 L406.0,599.2 L407.5,598.6 L409.0,598.1 L410.5,597.5 L412.0,597.0 L413.5,596.4 L415.0,595.9 L416.5,595.4 L418.0,594.9 L419.5,594.5 L421.0,594.2 L422.5,594.0 L424.0,593.8 L425.5,593.8 L427.0,594.0 L428.5,594.3 L430.0,594.7 L431.5,595.2 L433.0,595.8 L434.5,596.5 L436.0,597.1 L437.5,597.8 L439.0,598.5 L440.5,599.2 L442.0,599.9 L443.5,600.7 L445.0,601.5 L446.5,602.4 L448.0,603.3 L449.5,604.2 L451.0,605.1 L452.5,606.1 L454.0,607.0 L455.5,608.0 L457.0,609.0 L458.5,610.0 L460.0,611.1 L461.5,612.1 L463.0,613.1 L464.5,614.1 L466.0,615.2 L467.5,616.2 L469.0,617.3 L470.5,618.3 L472.0,619.4 L473.5,620.5 L475.0,621.6 L476.5,622.7 L478.0,623.8 L479.5,625.0 L481.0,626.1 L482.5,627.3 L484.0,628.5 L485.5,629.7 L487.0,631.0 L488.5,632.2 L490.0,633.5 L491.5,634.9 L493.0,636.3 L494.5,637.7 L496.0,639.1 L497.5,640.5 L499.0,641.8 L500.5,643.0 L502.0,644.2 L503.5,645.2 L505.0,646.2 L506.5,647.1 L508.0,648.0 L509.5,648.8 L511.0,649.6 L512.5,650.2 L514.0,650.6 L515.5,651.0 L517.0,651.1 L518.5,651.1 L520.0,650.9 L521.5,650.5 L523.0,650.0 L524.5,649.4 L526.0,648.7 L527.5,647.9 L529.0,647.1 L530.5,646.1 L532.0,645.0 L533.5,643.8 L535.0,642.5 L536.5,641.1 L538.0,639.7 L539.5,638.2 L541.0,636.7 L542.5,635.3 L544.0,633.8 L545.5,632.5 L547.0,631.1 L548.5,629.9 L550.0,628.7 L551.5,627.6 L553.0,626.4 L554.5,625.3 L556.0,624.3 L557.5,623.2 L559.0,622.1 L560.5,621.1 L562.0,620.1 L563.5,619.1 L565.0,618.2 L566.5,617.3 L568.0,616.4 L569.5,615.5 L571.0,614.7 L572.5,613.9 L574.0,613.1 L575.5,612.3 L577.0,611.6 L578.5,611.0 L580.0,610.3 L581.5,609.7 L583.0,609.1 L584.5,608.5 L586.0,608.0 L587.5,607.5 L589.0,607.0 L590.5,606.5 L592.0,606.1 L593.5,605.7 L595.0,605.4 L596.5,605.1 L598.0,604.8 L599.5,604.6 L601.0,604.4 L602.5,604.2 L604.0,604.1 L605.5,604.1 L607.0,604.0 L608.5,604.1 L610.0,604.1 L611.5,604.2 L613.0,604.3 L614.5,604.5 L616.0,604.7 L617.5,605.0 L619.0,605.5 L620.5,606.2 L622.0,607.0 L623.5,608.0 L625.0,609.1 L626.5,610.2 L628.0,611.4 L629.5,612.6 L631.0,613.8 L632.5,615.0 L634.0,616.2 L635.5,617.4 L637.0,618.6 L638.5,619.9 L640.0,621.2 L641.5,622.7 L643.0,624.2 L644.5,625.9 L646.0,627.7 L647.5,629.7 L649.0,631.9 L650.5,634.3 L652.0,636.9 L653.5,639.5 L655.0,642.1 L656.5,644.7 L658.0,647.1 L659.5,649.4 L661.0,651.5 L662.5,653.5 L664.0,655.5 L665.5,657.4 L667.0,659.2 L668.5,660.8 L670.0,662.2 L671.5,663.3 L673.0,664.2 L674.5,664.7 L676.0,664.7 L677.5,664.2 L679.0,663.2 L680.5,661.7 L682.0,659.7 L683.5,657.5 L685.0,655.0 L686.5,652.1 L688.0,648.9 L689.5,645.2 L691.0,641.3 L692.5,637.2 L694.0,633.2 L695.5,629.4 L697.0,625.9 L698.5,622.8 L700.0,620.1 L701.5,617.6 L703.0,615.4 L704.5,613.5 L706.0,612.0 L707.5,611.0 L709.0,610.4 L710.5,610.2 L712.0,610.2 L713.5,610.4 L715.0,610.6 L716.5,610.8 L718.0,611.0 L719.5,611.2 L721.0,611.4 L722.5,611.6 L724.0,611.8 L725.5,612.0 L727.0,612.2 L728.5,612.4 L730.0,612.5 L731.5,612.7 L733.0,612.8 L734.5,612.9 L736.0,612.9 L737.5,612.7 L739.0,612.2 L740.5,611.4 L742.0,610.2 L743.5,608.7 L745.0,606.9 L746.5,604.9 L748.0,602.7 L749.5,600.5 L751.0,598.3 L752.5,596.0 L754.0,593.7 L755.5,591.4 L757.0,588.9 L758.5,586.3 L760.0,583.6 L761.5,580.9 L763.0,578.0 L764.5,575.0 L766.0,571.8 L767.5,568.5 L769.0,564.9 L770.5,561.2 L772.0,557.3 L773.5,553.2 L775.0,548.8 L776.5,544.3 L778.0,539.4 L779.5,534.2 L781.0,528.8 L782.5,523.3 L784.0,517.7 L785.5,512.1 L787.0,506.5 L788.5,500.9 L790.0,495.5 L791.5,490.1 L793.0,484.9 L794.5,480.1 L796.0,475.9 L797.5,472.7 L799.0,470.3 L800.5,468.6 L802.0,467.3 L803.5,466.3 L805.0,465.5 L806.5,464.8 L808.0,464.2 L809.5,463.7 L811.0,463.3 L812.5,462.9 L814.0,462.7 L815.5,462.5 L817.0,462.3 L818.5,462.1 L820.0,461.8 L821.5,461.5 L823.0,461.2 L824.5,460.7 L826.0,460.2 L827.5,459.5 L829.0,458.9 L830.5,458.2 L832.0,457.5 L833.5,456.7 L835.0,455.8 L836.5,454.8 L838.0,453.6 L839.5,452.3 L841.0,450.8 L842.5,449.0 L844.0,447.1 L845.5,445.0 L847.0,442.8 L848.5,440.5 L850.0,438.3 L851.5,436.1 L853.0,434.1 L854.5,432.2 L856.0,430.6 L857.5,429.2 L859.0,427.9 L860.5,426.8 L862.0,425.9 L863.5,425.0 L865.0,424.3 L866.5,423.6 L868.0,423.1 L869.5,422.6 L871.0,422.2 L872.5,421.8 L874.0,421.5 L875.5,421.2 L877.0,420.9 L878.5,420.7 L880.0,420.5 L881.5,420.3 L883.0,420.1 L884.5,420.0 L886.0,419.9 L887.5,419.7 L889.0,419.7 L890.5,419.6 L892.0,419.6 L893.5,419.6 L895.0,419.7 L896.5,419.9 L898.0,420.3 L899.5,420.9 L901.0,421.6 L902.5,422.5 L904.0,423.4 L905.5,424.4 L907.0,425.4 L908.5,426.4 L910.0,427.4 L911.5,428.5 L913.0,429.6 L914.5,430.8 L916.0,432.1 L917.5,433.4 L919.0,434.6 L920.5,435.7 L922.0,436.5 L923.5,437.1 L925.0,437.5 L926.5,437.6 L928.0,437.6 L929.5,437.6 L931.0,437.5 L932.5,437.4 L934.0,437.2 L935.5,437.0 L937.0,436.9 L938.5,436.6 L940.0,436.4 L941.5,436.2 L943.0,435.9 L944.5,435.6 L946.0,435.3 L947.5,435.1 L949.0,434.8 L950.5,434.5 L952.0,434.1 L953.5,433.7 L955.0,433.3 L956.5,432.8 L958.0,432.3 L959.5,431.6 L961.0,430.9 L962.5,430.1 L964.0,429.1 L965.5,428.0 L967.0,426.9 L968.5,425.6 L970.0,424.3 L971.5,423.0 L973.0,421.7 L974.5,420.5 L976.0,419.3 L977.5,418.1 L979.0,417.0 L980.5,415.9 L982.0,414.8 L983.5,413.8 L985.0,412.8 L986.5,412.0 L988.0,411.3 L989.5,410.7 L991.0,410.3 L992.5,409.9 L994.0,409.7 L995.5,409.4 L997.0,409.2 L998.5,409.0 L1000.0,408.9 L1001.5,408.7 L1003.0,408.6 L1004.5,408.5 L1006.0,408.5 L1007.5,408.4 L1009.0,408.3 L1010.5,408.3 L1012.0,408.2 L1013.5,408.2 L1015.0,408.1 L1016.5,408.1 L1018.0,408.1 L1019.5,408.0 L1021.0,408.0 L1022.5,408.0 L1024.0,408.1 L1025.5,408.3 L1027.0,408.7 L1028.5,409.1 L1030.0,409.7 L1031.5,410.4 L1033.0,411.0 L1034.5,411.7 L1036.0,412.3 L1037.5,412.9 L1039.0,413.4 L1040.5,414.0 L1042.0,414.6 L1043.5,415.1 L1045.0,415.7 L1046.5,416.2 L1048.0,416.8 L1049.5,417.3 L1051.0,417.7 L1052.5,418.1 L1054.0,418.5 L1055.5,418.8 L1057.0,419.1 L1058.5,419.4 L1060.0,419.6 L1061.5,419.9 L1063.0,420.1 L1064.5,420.2 L1066.0,420.4 L1067.5,420.5 L1069.0,420.6 L1070.5,420.8 L1072.0,420.8 L1073.5,420.9 L1075.0,421.0 L1076.5,421.1 L1078.0,421.2 L1079.5,421.2 L1081.0,421.3 L1082.5,421.3 L1084.0,421.3 L1085.5,421.4 L1087.0,421.4 L1088.5,421.4 L1090.0,421.4 L1091.5,421.4 L1093.0,421.4 L1094.5,421.3 L1096.0,421.3 L1097.5,421.2 L1099.0,421.1 L1100.5,421.0 L1102.0,420.9 L1103.5,420.8 L1105.0,420.7 L1106.5,420.5 L1108.0,420.4 L1109.5,420.2 L1111.0,420.0 L1112.5,419.8 L1114.0,419.6 L1115.5,419.3 L1117.0,419.1 L1118.5,418.9 L1120.0,418.6 L1121.5,418.4 L1123.0,418.2 L1124.5,417.9 L1126.0,417.7 L1127.5,417.4 L1129.0,417.2 L1130.5,416.9 L1132.0,416.6 L1133.5,416.2 L1135.0,415.8 L1136.5,415.4 L1138.0,414.9 L1139.5,414.4 L1141.0,413.8 L1142.5,413.2 L1144.0,412.5 L1145.5,411.6 L1147.0,410.7 L1148.5,409.7 L1150.0,408.5 L1151.5,407.3 L1153.0,406.1 L1154.5,404.9 L1156.0,403.6 L1157.5,402.5 L1159.0,401.4 L1160.5,400.3 L1162.0,399.2 L1163.5,398.1 L1165.0,397.0 L1166.5,396.0 L1168.0,395.1 L1169.5,394.2 L1171.0,393.5 L1172.5,392.9 L1174.0,392.4 L1175.5,392.0 L1177.0,391.7 L1178.5,391.5 L1180.0,391.2 L1181.5,391.1 L1183.0,390.9 L1184.5,390.8 L1186.0,390.6 L1187.5,390.5 L1189.0,390.4 L1190.5,390.2 L1192.0,390.1 L1193.5,390.0 L1195.0,389.9 L1196.5,389.9 L1198.0,389.8 L1199.5,389.8 L1201.0,389.7 L1202.5,389.6 L1204.0,389.5 L1205.5,389.4 L1207.0,389.2 L1208.5,389.0 L1210.0,388.8 L1211.5,388.6 L1213.0,388.3 L1214.5,387.9 L1216.0,387.6 L1217.5,387.2 L1219.0,386.8 L1220.5,386.4 L1222.0,386.0 L1223.5,385.5 L1225.0,385.1 L1226.5,384.6 L1228.0,384.2 L1229.5,383.7 L1231.0,383.2 L1232.5,382.8 L1234.0,382.3 L1235.5,381.8 L1237.0,381.2 L1238.5,380.7 L1240.0,380.2 L1241.5,379.6 L1243.0,379.0 L1244.5,378.4 L1246.0,377.7 L1247.5,377.1 L1249.0,376.3 L1250.5,375.6 L1252.0,374.8 L1253.5,373.9 L1255.0,373.1 L1256.5,372.2 L1258.0,371.4 L1259.5,370.6 L1261.0,369.9 L1262.5,369.2 L1264.0,368.5 L1265.5,367.9 L1267.0,367.4 L1268.5,366.8 L1270.0,366.3 L1271.5,365.9 L1273.0,365.6 L1274.5,365.5 L1276.0,365.5 L1277.5,365.6 L1279.0,365.9 L1280.5,366.3 L1282.0,366.8 L1283.5,367.4 L1285.0,368.1 L1286.5,368.8 L1288.0,369.4 L1289.5,370.0 L1291.0,370.7 L1292.5,371.3 L1294.0,371.9 L1295.5,372.6 L1297.0,373.3 L1298.5,373.9 L1300.0,374.4 L1301.5,374.7 L1303.0,374.9 L1304.5,375.0 L1306.0,374.9 L1307.5,374.6 L1309.0,374.4 L1310.5,374.0 L1312.0,373.6 L1313.5,373.2 L1315.0,372.7 L1316.5,372.3 L1318.0,371.8 L1319.5,371.3 L1321.0,370.8 L1322.5,370.3 L1324.0,369.7 L1325.5,369.1 L1327.0,368.5 L1328.5,367.9 L1330.0,367.2 L1331.5,366.5 L1333.0,365.8 L1334.5,365.1 L1336.0,364.3 L1337.5,363.5 L1339.0,362.7 L1340.5,361.9 L1342.0,361.0 L1343.5,360.1 L1345.0,359.2 L1346.5,358.2 L1348.0,357.2 L1349.5,356.3 L1351.0,355.3 L1352.5,354.4 L1354.0,353.6 L1355.5,352.8 L1357.0,352.0 L1358.5,351.3 L1360.0,350.6 L1361.5,349.9 L1363.0,349.3 L1364.5,348.8 L1366.0,348.4 L1367.5,348.2 L1369.0,348.1 L1370.5,348.1 L1372.0,348.2 L1373.5,348.3 L1375.0,348.4 L1376.5,348.6 L1378.0,348.8 L1379.5,349.0 L1381.0,349.3 L1382.5,349.5 L1384.0,349.7 L1385.5,349.9 L1387.0,350.1 L1388.5,350.3 L1390.0,350.5 L1391.5,350.8 L1393.0,351.0 L1394.5,351.3 L1396.0,351.5 L1397.5,351.7 L1399.0,351.8 L1400.5,352.0 L1402.0,352.0 L1403.5,351.9 L1405.0,351.7 L1406.5,351.3 L1408.0,350.8 L1409.5,350.1 L1411.0,349.4 L1412.5,348.7 L1414.0,347.9 L1415.5,347.2 L1417.0,346.4 L1418.5,345.5 L1420.0,344.7 L1421.5,343.9 L1423.0,343.2 L1424.5,342.6 L1426.0,342.2 L1427.5,342.0 L1429.0,341.8 L1430.5,341.7 L1432.0,341.6 L1433.5,341.6 L1435.0,341.5 L1436.5,341.4 L1438.0,341.4 L1439.5,341.4 L1441.0,341.3 L1442.5,341.3 L1444.0,341.3 L1445.5,341.3 L1447.0,341.3 L1448.5,341.3 L1450.0,341.3 L1451.5,341.3 L1453.0,341.3 L1454.5,341.3 L1456.0,341.3 L1457.5,341.2 L1459.0,341.2 L1460.5,341.2 L1462.0,341.2 L1463.5,341.2 L1465.0,341.2 L1466.5,341.2 L1468.0,341.2 L1469.5,341.2 L1471.0,341.2 L1472.5,341.1 L1474.0,341.0 L1475.5,340.9 L1477.0,340.7 L1478.5,340.5 L1480.0,340.3 L1481.5,340.0 L1483.0,339.6 L1484.5,339.3 L1486.0,338.9 L1487.5,338.4 L1489.0,338.0 L1490.5,337.4 L1492.0,336.9 L1493.5,336.3 L1495.0,335.6 L1496.5,334.9 L1498.0,334.1 L1499.5,333.1 L1501.0,332.0 L1502.5,330.9 L1504.0,329.6 L1505.5,328.3 L1507.0,327.0 L1508.5,325.7 L1510.0,324.5 L1511.5,323.3 L1513.0,322.0 L1514.5,320.8 L1516.0,319.5 L1517.5,318.2 L1519.0,317.0 L1520.5,315.8 L1522.0,314.6 L1523.5,313.6 L1525.0,312.7 L1526.5,311.9 L1528.0,311.3 L1529.5,310.7 L1531.0,310.2 L1532.5,309.8 L1534.0,309.4 L1535.5,309.1 L1537.0,308.8 L1538.5,308.6 L1540.0,308.3 L1541.5,308.1 L1543.0,307.9 L1544.5,307.7 L1546.0,307.5 L1547.5,307.2 L1549.0,307.0 L1550.5,306.7 L1552.0,306.4 L1553.5,306.0 L1555.0,305.7 L1556.5,305.4 L1558.0,305.1 L1559.5,304.7 L1561.0,304.4 L1562.5,304.1 L1564.0,303.8 L1565.5,303.4 L1567.0,303.1 L1568.5,302.8 L1570.0,302.4 L1571.5,302.1 L1573.0,301.7 L1574.5,301.3 L1576.0,301.0 L1577.5,300.6 L1579.0,300.2 L1580.5,299.8 L1582.0,299.4 L1583.5,299.0 L1585.0,298.6 L1586.5,298.2 L1588.0,297.8 L1589.5,297.4 L1591.0,297.0 L1592.5,296.6 L1594.0,296.2 L1595.5,295.8 L1597.0,295.4 L1598.5,295.0 L1600.0,294.5 L1601.5,294.1 L1603.0,293.6 L1604.5,293.1 L1606.0,292.6 L1607.5,292.1 L1609.0,291.5 L1610.5,290.9 L1612.0,290.3 L1613.5,289.7 L1615.0,289.0 L1616.5,288.2 L1618.0,287.5 L1619.5,286.6 L1621.0,285.8 L1622.5,284.8 L1624.0,283.8 L1625.5,282.8 L1627.0,281.7 L1628.5,280.6 L1630.0,279.6 L1631.5,278.5 L1633.0,277.5 L1634.5,276.5 L1636.0,275.6 L1637.5,274.8 L1639.0,274.0 L1640.5,273.3 L1642.0,272.6 L1643.5,272.0 L1645.0,271.3 L1646.5,270.8 L1648.0,270.3 L1649.5,269.9 L1651.0,269.6 L1652.5,269.4 L1654.0,269.4 L1655.5,269.5 L1657.0,269.6 L1658.5,269.8 L1660.0,270.1 L1661.5,270.4 L1663.0,270.7 L1664.5,271.0 L1666.0,271.4 L1667.5,271.8 L1669.0,272.1 L1670.5,272.4 L1672.0,272.8 L1673.5,273.1 L1675.0,273.4 L1676.5,273.8 L1678.0,274.1 L1679.5,274.5 L1681.0,274.8 L1682.5,275.1 L1684.0,275.3 L1685.5,275.3 L1687.0,275.3 L1688.5,275.0 L1690.0,274.5 L1691.5,273.8 L1693.0,273.0 L1694.5,272.1 L1696.0,271.2 L1697.5,270.2 L1699.0,269.2 L1700.5,268.1 L1702.0,266.9 L1703.5,265.8 L1705.0,264.7 L1706.5,263.7 L1708.0,262.9 L1709.5,262.4 L1711.0,262.2 L1712.5,262.0 L1714.0,262.0 L1715.5,262.0 L1717.0,262.0 L1718.5,262.0 L1720.0,262.0 L1721.5,262.0 L1723.0,262.0 L1724.5,262.0 L1726.0,262.0 L1727.5,262.0 L1729.0,262.1 L1730.5,262.2 L1732.0,262.3 L1733.5,262.4 L1735.0,262.6 L1736.5,262.7 L1738.0,262.9 L1739.5,263.1 L1741.0,263.3 L1742.5,263.4 L1744.0,263.5 L1745.5,263.6 L1747.0,263.6 L1748.5,263.5 L1750.0,263.2 L1751.5,262.7 L1753.0,262.0 L1754.5,261.2 L1756.0,260.3 L1757.5,259.3 L1759.0,258.3 L1760.5,257.3 L1762.0,256.4 L1763.5,255.4 L1765.0,254.4 L1766.5,253.3 L1768.0,252.2 L1769.5,251.0 L1771.0,249.9 L1772.5,248.7 L1774.0,247.5 L1775.5,246.3 L1777.0,245.1 L1778.5,244.0 L1780.0,242.9 L1781.5,241.8 L1783.0,240.8 L1784.5,239.7 L1786.0,238.7 L1787.5,237.6 L1789.0,236.6 L1790.5,235.6 L1792.0,234.6 L1793.5,233.7 L1795.0,232.8 L1796.5,232.0 L1798.0,231.2 L1799.5,230.6 L1801.0,230.0 L1802.5,229.4 L1804.0,229.0 L1805.5,228.5 L1807.0,228.2 L1808.5,227.9 L1810.0,227.8 L1811.5,228.0 L1813.0,228.5 L1814.5,229.5 L1816.0,230.9 L1817.5,232.6 L1819.0,234.3 L1820.5,236.1 L1822.0,237.9 L1823.5,239.8 L1825.0,241.8 L1826.5,243.7 L1828.0,245.6 L1829.5,247.6 L1831.0,249.5 L1832.5,251.3 L1834.0,253.0 L1835.5,254.6 L1837.0,256.0 L1838.5,257.3 L1840.0,258.2 L1841.5,258.9 L1843.0,259.3 L1844.5,259.4 L1846.0,259.4 L1847.5,259.2 L1849.0,259.0 L1850.5,258.7 L1852.0,258.4 L1853.5,258.2 L1855.0,257.9 L1856.5,257.7 L1858.0,257.4 L1859.5,257.1 L1861.0,256.9 L1862.5,256.6 L1864.0,256.4 L1865.5,256.2 L1867.0,256.1 L1868.5,256.0 L1870.0,256.0 L1871.5,256.0 L1873.0,256.2 L1874.5,256.5 L1876.0,256.8 L1877.5,257.2 L1879.0,257.7 L1880.5,258.3 L1882.0,258.8 L1883.5,259.4 L1885.0,260.0 L1886.5,260.6 L1888.0,261.2 L1889.5,261.8 L1891.0,262.6 L1892.5,263.4 L1894.0,264.2 L1895.5,264.9 L1897.0,265.7 L1898.5,266.3 L1900.0,266.9 L1901.5,267.2 L1903.0,267.5 L1904.5,267.4 L1906.0,267.2 L1907.5,266.7 L1909.0,266.0 L1910.5,265.2 L1912.0,264.2 L1913.5,263.2 L1915.0,262.1 L1916.5,261.1 L1918.0,260.0 L1919.5,258.8 L1921.0,257.5 L1922.5,256.2 L1924.0,254.8 L1925.5,253.4 L1927.0,252.0 L1928.5,250.6 L1930.0,249.4 L1931.5,248.4 L1933.0,247.5 L1934.5,246.9 L1936.0,246.4 L1937.5,246.1 L1939.0,245.8 L1940.5,245.6 L1942.0,245.4 L1943.5,245.2 L1945.0,245.1 L1946.5,244.9 L1948.0,244.8 L1949.5,244.7 L1951.0,244.6 L1952.5,244.5 L1954.0,244.4 L1955.5,244.3 L1957.0,244.1 L1958.5,244.0 L1960.0,243.9 L1961.5,243.7 L1963.0,243.6 L1964.5,243.4 L1966.0,243.2 L1967.5,243.0 L1969.0,242.8 L1970.5,242.6 L1972.0,242.4 L1973.5,242.1 L1975.0,241.9 L1976.5,241.7 L1978.0,241.5 L1979.5,241.3 L1981.0,241.1 L1982.5,240.9 L1984.0,240.7 L1985.5,240.5 L1987.0,240.3 L1988.5,240.2 L1990.0,240.1 L1991.5,240.0 L1993.0,239.9 L1994.5,239.9 L1996.0,239.9 L1997.5,239.9 L1999.0,240.1 L2000.5,240.5 L2002.0,240.9 L2003.5,241.4 L2005.0,241.9 L2006.5,242.5 L2008.0,243.1 L2009.5,243.7 L2011.0,244.2 L2012.5,244.8 L2014.0,245.4 L2015.5,246.0 L2017.0,246.7 L2018.5,247.3 L2020.0,247.9 L2021.5,248.4 L2023.0,248.9 L2024.5,249.2 L2026.0,249.4 L2027.5,249.5 L2029.0,249.6 L2030.5,249.5 L2032.0,249.5 L2033.5,249.5 L2035.0,249.4 L2036.5,249.3 L2038.0,249.2 L2039.5,249.1 L2041.0,249.0 L2042.5,248.8 L2044.0,248.7 L2045.5,248.5 L2047.0,248.3 L2048.5,248.1 L2050.0,247.9 L2051.5,247.6 L2053.0,247.4 L2054.5,247.1 L2056.0,246.7 L2057.5,246.3 L2059.0,245.9 L2060.5,245.5 L2062.0,245.0 L2063.5,244.6 L2065.0,244.1 L2066.5,243.6 L2068.0,243.1 L2069.5,242.6 L2071.0,242.2 L2072.5,241.7 L2074.0,241.2 L2075.5,240.8 L2077.0,240.3 L2078.5,239.8 L2080.0,239.3 L2081.5,238.8 L2083.0,238.3 L2084.5,237.9 L2086.0,237.4 L2087.5,236.9 L2089.0,236.5 L2090.5,236.1 L2092.0,235.7 L2093.5,235.4 L2095.0,235.1 L2096.5,234.8 L2098.0,234.6 L2099.5,234.4 L2101.0,234.2 L2102.5,234.1 L2104.0,234.0 L2105.5,233.9 L2107.0,233.8 L2108.5,233.7 L2110.0,233.7 L2111.5,233.6 L2113.0,233.6 L2114.5,233.5 L2116.0,233.5 L2117.5,233.4 L2119.0,233.4 L2120.5,233.4 L2122.0,233.4 L2123.5,233.4 L2125.0,233.3 L2126.5,233.3 L2128.0,233.3 L2128.0,682 L142.0,682 Z" fill="url(#gR)"/><path d="M142.0,681.0 L143.5,677.0 L145.0,673.2 L146.5,669.5 L148.0,666.0 L149.5,662.8 L151.0,659.9 L152.5,657.4 L154.0,655.1 L155.5,653.1 L157.0,651.3 L158.5,649.6 L160.0,648.2 L161.5,646.9 L163.0,645.9 L164.5,645.0 L166.0,644.4 L167.5,644.0 L169.0,643.8 L170.5,643.8 L172.0,644.0 L173.5,644.2 L175.0,644.4 L176.5,644.7 L178.0,645.1 L179.5,645.5 L181.0,645.9 L182.5,646.3 L184.0,646.8 L185.5,647.2 L187.0,647.6 L188.5,648.1 L190.0,648.6 L191.5,649.1 L193.0,649.7 L194.5,650.3 L196.0,650.8 L197.5,651.1 L199.0,651.4 L200.5,651.4 L202.0,651.0 L203.5,650.2 L205.0,649.0 L206.5,647.6 L208.0,645.9 L209.5,643.9 L211.0,641.7 L212.5,639.3 L214.0,636.7 L215.5,634.0 L217.0,631.1 L218.5,628.2 L220.0,625.0 L221.5,621.9 L223.0,618.8 L224.5,615.9 L226.0,613.4 L227.5,611.3 L229.0,609.6 L230.5,608.2 L232.0,607.2 L233.5,606.6 L235.0,606.4 L236.5,606.3 L238.0,606.4 L239.5,606.5 L241.0,606.7 L242.5,606.9 L244.0,607.1 L245.5,607.2 L247.0,607.4 L248.5,607.6 L250.0,607.8 L251.5,608.0 L253.0,608.2 L254.5,608.4 L256.0,608.6 L257.5,608.8 L259.0,609.0 L260.5,609.1 L262.0,609.3 L263.5,609.3 L265.0,609.4 L266.5,609.4 L268.0,609.4 L269.5,609.4 L271.0,609.4 L272.5,609.4 L274.0,609.4 L275.5,609.4 L277.0,609.4 L278.5,609.4 L280.0,609.4 L281.5,609.4 L283.0,609.4 L284.5,609.4 L286.0,609.4 L287.5,609.4 L289.0,609.4 L290.5,609.4 L292.0,609.4 L293.5,609.4 L295.0,609.4 L296.5,609.4 L298.0,609.2 L299.5,609.0 L301.0,608.5 L302.5,607.9 L304.0,607.1 L305.5,606.1 L307.0,605.1 L308.5,604.0 L310.0,602.9 L311.5,601.9 L313.0,600.8 L314.5,599.8 L316.0,598.7 L317.5,597.7 L319.0,596.5 L320.5,595.4 L322.0,594.3 L323.5,593.1 L325.0,592.0 L326.5,590.9 L328.0,589.8 L329.5,588.7 L331.0,587.6 L332.5,586.4 L334.0,585.3 L335.5,584.1 L337.0,582.9 L338.5,581.7 L340.0,580.5 L341.5,579.4 L343.0,578.2 L344.5,577.2 L346.0,576.2 L347.5,575.3 L349.0,574.4 L350.5,573.7 L352.0,573.2 L353.5,572.7 L355.0,572.4 L356.5,572.2 L358.0,572.0 L359.5,572.0 L361.0,571.9 L362.5,572.0 L364.0,572.1 L365.5,572.2 L367.0,572.3 L368.5,572.5 L370.0,572.8 L371.5,573.0 L373.0,573.3 L374.5,573.5 L376.0,573.8 L377.5,574.1 L379.0,574.4 L380.5,574.6 L382.0,574.9 L383.5,575.1 L385.0,575.3 L386.5,575.5 L388.0,575.6 L389.5,575.7 L391.0,575.7 L392.5,575.6 L394.0,575.4 L395.5,575.1 L397.0,574.7 L398.5,574.2 L400.0,573.6 L401.5,573.0 L403.0,572.4 L404.5,571.9 L406.0,571.3 L407.5,570.8 L409.0,570.3 L410.5,569.8 L412.0,569.2 L413.5,568.7 L415.0,568.2 L416.5,567.7 L418.0,567.2 L419.5,566.9 L421.0,566.6 L422.5,566.4 L424.0,566.3 L425.5,566.4 L427.0,566.6 L428.5,567.0 L430.0,567.5 L431.5,568.0 L433.0,568.7 L434.5,569.6 L436.0,570.6 L437.5,571.7 L439.0,573.0 L440.5,574.3 L442.0,575.8 L443.5,577.3 L445.0,578.8 L446.5,580.4 L448.0,582.0 L449.5,583.6 L451.0,585.2 L452.5,586.7 L454.0,588.2 L455.5,589.6 L457.0,591.0 L458.5,592.3 L460.0,593.6 L461.5,594.9 L463.0,596.2 L464.5,597.5 L466.0,598.8 L467.5,600.1 L469.0,601.4 L470.5,602.8 L472.0,604.1 L473.5,605.6 L475.0,607.0 L476.5,608.6 L478.0,610.2 L479.5,611.8 L481.0,613.6 L482.5,615.4 L484.0,617.4 L485.5,619.4 L487.0,621.5 L488.5,623.6 L490.0,625.8 L491.5,627.8 L493.0,629.9 L494.5,631.8 L496.0,633.7 L497.5,635.4 L499.0,637.0 L500.5,638.5 L502.0,640.0 L503.5,641.4 L505.0,642.7 L506.5,644.0 L508.0,645.1 L509.5,646.2 L511.0,647.0 L512.5,647.7 L514.0,648.2 L515.5,648.5 L517.0,648.5 L518.5,648.2 L520.0,647.7 L521.5,646.9 L523.0,645.9 L524.5,644.8 L526.0,643.6 L527.5,642.3 L529.0,641.0 L530.5,639.7 L532.0,638.4 L533.5,637.0 L535.0,635.6 L536.5,634.1 L538.0,632.6 L539.5,631.1 L541.0,629.6 L542.5,628.2 L544.0,626.8 L545.5,625.4 L547.0,623.9 L548.5,622.5 L550.0,621.1 L551.5,619.7 L553.0,618.2 L554.5,616.8 L556.0,615.5 L557.5,614.1 L559.0,612.8 L560.5,611.5 L562.0,610.3 L563.5,609.1 L565.0,607.9 L566.5,606.9 L568.0,605.9 L569.5,604.9 L571.0,604.1 L572.5,603.4 L574.0,602.7 L575.5,602.1 L577.0,601.5 L578.5,601.0 L580.0,600.5 L581.5,600.1 L583.0,599.7 L584.5,599.3 L586.0,599.0 L587.5,598.7 L589.0,598.5 L590.5,598.3 L592.0,598.2 L593.5,598.0 L595.0,598.0 L596.5,597.9 L598.0,597.9 L599.5,597.9 L601.0,597.9 L602.5,598.0 L604.0,598.0 L605.5,598.1 L607.0,598.1 L608.5,598.2 L610.0,598.3 L611.5,598.3 L613.0,598.5 L614.5,598.7 L616.0,599.0 L617.5,599.5 L619.0,600.2 L620.5,601.1 L622.0,602.1 L623.5,603.2 L625.0,604.5 L626.5,605.8 L628.0,607.1 L629.5,608.5 L631.0,609.9 L632.5,611.3 L634.0,612.7 L635.5,614.1 L637.0,615.5 L638.5,617.0 L640.0,618.6 L641.5,620.3 L643.0,622.2 L644.5,624.2 L646.0,626.5 L647.5,629.0 L649.0,631.9 L650.5,635.0 L652.0,638.3 L653.5,641.7 L655.0,645.1 L656.5,648.5 L658.0,651.7 L659.5,654.7 L661.0,657.4 L662.5,660.0 L664.0,662.5 L665.5,664.8 L667.0,667.1 L668.5,669.1 L670.0,670.9 L671.5,672.5 L673.0,673.7 L674.5,674.5 L676.0,674.9 L677.5,674.7 L679.0,674.0 L680.5,672.8 L682.0,671.0 L683.5,668.9 L685.0,666.4 L686.5,663.6 L688.0,660.4 L689.5,656.9 L691.0,653.0 L692.5,648.7 L694.0,644.4 L695.5,640.2 L697.0,636.1 L698.5,632.4 L700.0,628.9 L701.5,625.6 L703.0,622.5 L704.5,619.7 L706.0,617.4 L707.5,615.8 L709.0,614.9 L710.5,614.6 L712.0,614.8 L713.5,615.3 L715.0,615.9 L716.5,616.5 L718.0,617.2 L719.5,617.8 L721.0,618.3 L722.5,618.8 L724.0,619.2 L725.5,619.6 L727.0,620.0 L728.5,620.4 L730.0,620.7 L731.5,620.9 L733.0,621.0 L734.5,621.0 L736.0,620.7 L737.5,620.2 L739.0,619.3 L740.5,618.2 L742.0,616.8 L743.5,615.3 L745.0,613.6 L746.5,611.7 L748.0,609.8 L749.5,607.8 L751.0,605.6 L752.5,603.4 L754.0,600.9 L755.5,598.3 L757.0,595.4 L758.5,592.5 L760.0,589.5 L761.5,586.5 L763.0,583.4 L764.5,580.5 L766.0,577.6 L767.5,574.9 L769.0,572.3 L770.5,569.8 L772.0,567.5 L773.5,565.3 L775.0,563.2 L776.5,561.1 L778.0,559.1 L779.5,557.1 L781.0,555.2 L782.5,553.4 L784.0,551.7 L785.5,550.0 L787.0,548.3 L788.5,546.7 L790.0,545.2 L791.5,543.8 L793.0,542.4 L794.5,541.0 L796.0,539.7 L797.5,538.5 L799.0,537.4 L800.5,536.3 L802.0,535.2 L803.5,534.2 L805.0,533.3 L806.5,532.4 L808.0,531.6 L809.5,530.8 L811.0,530.1 L812.5,529.5 L814.0,529.0 L815.5,528.6 L817.0,528.3 L818.5,528.0 L820.0,527.8 L821.5,527.5 L823.0,527.3 L824.5,527.1 L826.0,526.8 L827.5,526.4 L829.0,526.0 L830.5,525.4 L832.0,524.7 L833.5,523.9 L835.0,522.8 L836.5,521.7 L838.0,520.3 L839.5,518.8 L841.0,517.2 L842.5,515.4 L844.0,513.5 L845.5,511.3 L847.0,508.9 L848.5,506.2 L850.0,503.2 L851.5,500.1 L853.0,496.9 L854.5,494.0 L856.0,491.4 L857.5,489.2 L859.0,487.5 L860.5,486.2 L862.0,485.2 L863.5,484.3 L865.0,483.6 L866.5,483.0 L868.0,482.4 L869.5,481.9 L871.0,481.5 L872.5,481.2 L874.0,480.8 L875.5,480.6 L877.0,480.3 L878.5,480.1 L880.0,479.9 L881.5,479.7 L883.0,479.5 L884.5,479.3 L886.0,479.2 L887.5,479.1 L889.0,479.0 L890.5,478.9 L892.0,478.8 L893.5,478.8 L895.0,478.8 L896.5,478.8 L898.0,479.1 L899.5,479.7 L901.0,480.7 L902.5,482.0 L904.0,483.5 L905.5,485.2 L907.0,486.9 L908.5,488.5 L910.0,490.1 L911.5,491.6 L913.0,493.1 L914.5,494.7 L916.0,496.3 L917.5,497.9 L919.0,499.3 L920.5,500.6 L922.0,501.6 L923.5,502.3 L925.0,502.7 L926.5,502.9 L928.0,502.9 L929.5,502.9 L931.0,502.9 L932.5,502.8 L934.0,502.7 L935.5,502.6 L937.0,502.4 L938.5,502.3 L940.0,502.1 L941.5,501.9 L943.0,501.7 L944.5,501.4 L946.0,501.1 L947.5,500.8 L949.0,500.4 L950.5,499.9 L952.0,499.4 L953.5,498.9 L955.0,498.3 L956.5,497.7 L958.0,497.0 L959.5,496.3 L961.0,495.6 L962.5,494.8 L964.0,493.9 L965.5,493.0 L967.0,492.0 L968.5,491.0 L970.0,489.8 L971.5,488.7 L973.0,487.5 L974.5,486.3 L976.0,485.2 L977.5,484.1 L979.0,483.1 L980.5,482.1 L982.0,481.1 L983.5,480.1 L985.0,479.2 L986.5,478.3 L988.0,477.6 L989.5,477.0 L991.0,476.6 L992.5,476.4 L994.0,476.3 L995.5,476.2 L997.0,476.1 L998.5,476.0 L1000.0,476.0 L1001.5,475.9 L1003.0,475.9 L1004.5,475.8 L1006.0,475.8 L1007.5,475.8 L1009.0,475.8 L1010.5,475.8 L1012.0,475.8 L1013.5,475.9 L1015.0,475.9 L1016.5,476.0 L1018.0,476.0 L1019.5,476.1 L1021.0,476.2 L1022.5,476.3 L1024.0,476.5 L1025.5,476.8 L1027.0,477.2 L1028.5,477.8 L1030.0,478.5 L1031.5,479.3 L1033.0,480.2 L1034.5,481.2 L1036.0,482.2 L1037.5,483.1 L1039.0,484.1 L1040.5,485.0 L1042.0,485.8 L1043.5,486.5 L1045.0,487.2 L1046.5,487.8 L1048.0,488.4 L1049.5,488.9 L1051.0,489.4 L1052.5,489.9 L1054.0,490.4 L1055.5,490.8 L1057.0,491.2 L1058.5,491.5 L1060.0,491.8 L1061.5,492.0 L1063.0,492.2 L1064.5,492.4 L1066.0,492.6 L1067.5,492.7 L1069.0,492.9 L1070.5,493.0 L1072.0,493.1 L1073.5,493.2 L1075.0,493.3 L1076.5,493.4 L1078.0,493.5 L1079.5,493.5 L1081.0,493.6 L1082.5,493.6 L1084.0,493.7 L1085.5,493.7 L1087.0,493.7 L1088.5,493.7 L1090.0,493.7 L1091.5,493.7 L1093.0,493.7 L1094.5,493.7 L1096.0,493.8 L1097.5,493.8 L1099.0,493.8 L1100.5,493.8 L1102.0,493.8 L1103.5,493.8 L1105.0,493.8 L1106.5,493.8 L1108.0,493.8 L1109.5,493.8 L1111.0,493.8 L1112.5,493.8 L1114.0,493.8 L1115.5,493.8 L1117.0,493.8 L1118.5,493.7 L1120.0,493.7 L1121.5,493.6 L1123.0,493.4 L1124.5,493.2 L1126.0,493.0 L1127.5,492.7 L1129.0,492.4 L1130.5,492.0 L1132.0,491.6 L1133.5,491.1 L1135.0,490.6 L1136.5,490.1 L1138.0,489.5 L1139.5,488.9 L1141.0,488.2 L1142.5,487.4 L1144.0,486.6 L1145.5,485.6 L1147.0,484.6 L1148.5,483.5 L1150.0,482.3 L1151.5,481.0 L1153.0,479.7 L1154.5,478.4 L1156.0,477.1 L1157.5,475.9 L1159.0,474.6 L1160.5,473.3 L1162.0,471.9 L1163.5,470.4 L1165.0,469.0 L1166.5,467.6 L1168.0,466.3 L1169.5,465.2 L1171.0,464.3 L1172.5,463.6 L1174.0,463.0 L1175.5,462.7 L1177.0,462.4 L1178.5,462.1 L1180.0,461.9 L1181.5,461.8 L1183.0,461.6 L1184.5,461.5 L1186.0,461.4 L1187.5,461.2 L1189.0,461.1 L1190.5,461.0 L1192.0,460.9 L1193.5,460.7 L1195.0,460.6 L1196.5,460.5 L1198.0,460.5 L1199.5,460.4 L1201.0,460.3 L1202.5,460.3 L1204.0,460.2 L1205.5,460.1 L1207.0,460.0 L1208.5,459.9 L1210.0,459.8 L1211.5,459.7 L1213.0,459.5 L1214.5,459.2 L1216.0,458.9 L1217.5,458.5 L1219.0,458.0 L1220.5,457.5 L1222.0,456.9 L1223.5,456.2 L1225.0,455.5 L1226.5,454.8 L1228.0,454.0 L1229.5,453.2 L1231.0,452.5 L1232.5,451.7 L1234.0,450.9 L1235.5,450.1 L1237.0,449.3 L1238.5,448.5 L1240.0,447.8 L1241.5,447.0 L1243.0,446.1 L1244.5,445.3 L1246.0,444.4 L1247.5,443.6 L1249.0,442.7 L1250.5,441.8 L1252.0,440.9 L1253.5,440.1 L1255.0,439.2 L1256.5,438.4 L1258.0,437.7 L1259.5,437.0 L1261.0,436.3 L1262.5,435.7 L1264.0,435.0 L1265.5,434.4 L1267.0,433.8 L1268.5,433.2 L1270.0,432.7 L1271.5,432.2 L1273.0,431.9 L1274.5,431.7 L1276.0,431.6 L1277.5,431.7 L1279.0,431.9 L1280.5,432.4 L1282.0,433.0 L1283.5,433.8 L1285.0,434.6 L1286.5,435.4 L1288.0,436.2 L1289.5,436.9 L1291.0,437.6 L1292.5,438.3 L1294.0,439.0 L1295.5,439.7 L1297.0,440.3 L1298.5,440.9 L1300.0,441.4 L1301.5,441.7 L1303.0,441.9 L1304.5,442.0 L1306.0,441.9 L1307.5,441.7 L1309.0,441.4 L1310.5,441.1 L1312.0,440.7 L1313.5,440.2 L1315.0,439.8 L1316.5,439.3 L1318.0,438.7 L1319.5,438.1 L1321.0,437.4 L1322.5,436.7 L1324.0,435.9 L1325.5,435.1 L1327.0,434.2 L1328.5,433.3 L1330.0,432.4 L1331.5,431.5 L1333.0,430.5 L1334.5,429.5 L1336.0,428.5 L1337.5,427.5 L1339.0,426.5 L1340.5,425.5 L1342.0,424.5 L1343.5,423.5 L1345.0,422.5 L1346.5,421.4 L1348.0,420.3 L1349.5,419.2 L1351.0,418.1 L1352.5,417.1 L1354.0,416.1 L1355.5,415.2 L1357.0,414.3 L1358.5,413.5 L1360.0,412.6 L1361.5,411.8 L1363.0,411.1 L1364.5,410.5 L1366.0,410.0 L1367.5,409.8 L1369.0,409.6 L1370.5,409.7 L1372.0,409.8 L1373.5,410.1 L1375.0,410.4 L1376.5,410.7 L1378.0,411.1 L1379.5,411.6 L1381.0,412.0 L1382.5,412.4 L1384.0,412.8 L1385.5,413.3 L1387.0,413.7 L1388.5,414.2 L1390.0,414.7 L1391.5,415.3 L1393.0,415.8 L1394.5,416.3 L1396.0,416.7 L1397.5,417.1 L1399.0,417.3 L1400.5,417.4 L1402.0,417.4 L1403.5,417.1 L1405.0,416.7 L1406.5,416.1 L1408.0,415.3 L1409.5,414.5 L1411.0,413.7 L1412.5,412.9 L1414.0,412.1 L1415.5,411.3 L1417.0,410.5 L1418.5,409.6 L1420.0,408.8 L1421.5,407.9 L1423.0,407.1 L1424.5,406.5 L1426.0,406.0 L1427.5,405.7 L1429.0,405.6 L1430.5,405.6 L1432.0,405.6 L1433.5,405.7 L1435.0,405.8 L1436.5,405.9 L1438.0,406.1 L1439.5,406.2 L1441.0,406.3 L1442.5,406.5 L1444.0,406.6 L1445.5,406.7 L1447.0,406.8 L1448.5,406.9 L1450.0,407.0 L1451.5,407.1 L1453.0,407.2 L1454.5,407.3 L1456.0,407.4 L1457.5,407.5 L1459.0,407.6 L1460.5,407.6 L1462.0,407.7 L1463.5,407.7 L1465.0,407.7 L1466.5,407.6 L1468.0,407.6 L1469.5,407.5 L1471.0,407.4 L1472.5,407.2 L1474.0,407.0 L1475.5,406.8 L1477.0,406.5 L1478.5,406.2 L1480.0,405.9 L1481.5,405.6 L1483.0,405.2 L1484.5,404.9 L1486.0,404.5 L1487.5,404.2 L1489.0,403.7 L1490.5,403.2 L1492.0,402.7 L1493.5,402.0 L1495.0,401.3 L1496.5,400.4 L1498.0,399.4 L1499.5,398.2 L1501.0,396.9 L1502.5,395.3 L1504.0,393.7 L1505.5,391.9 L1507.0,390.2 L1508.5,388.4 L1510.0,386.8 L1511.5,385.2 L1513.0,383.6 L1514.5,382.1 L1516.0,380.5 L1517.5,379.0 L1519.0,377.5 L1520.5,376.2 L1522.0,374.9 L1523.5,373.8 L1525.0,372.8 L1526.5,372.1 L1528.0,371.4 L1529.5,370.9 L1531.0,370.4 L1532.5,370.1 L1534.0,369.7 L1535.5,369.4 L1537.0,369.1 L1538.5,368.9 L1540.0,368.7 L1541.5,368.5 L1543.0,368.3 L1544.5,368.1 L1546.0,367.9 L1547.5,367.7 L1549.0,367.4 L1550.5,367.2 L1552.0,366.9 L1553.5,366.6 L1555.0,366.3 L1556.5,366.0 L1558.0,365.8 L1559.5,365.5 L1561.0,365.2 L1562.5,364.9 L1564.0,364.7 L1565.5,364.4 L1567.0,364.1 L1568.5,363.8 L1570.0,363.5 L1571.5,363.2 L1573.0,362.8 L1574.5,362.5 L1576.0,362.1 L1577.5,361.8 L1579.0,361.4 L1580.5,360.9 L1582.0,360.5 L1583.5,360.0 L1585.0,359.6 L1586.5,359.1 L1588.0,358.6 L1589.5,358.1 L1591.0,357.6 L1592.5,357.1 L1594.0,356.6 L1595.5,356.0 L1597.0,355.5 L1598.5,354.9 L1600.0,354.3 L1601.5,353.7 L1603.0,353.1 L1604.5,352.4 L1606.0,351.8 L1607.5,351.1 L1609.0,350.3 L1610.5,349.6 L1612.0,348.8 L1613.5,348.0 L1615.0,347.1 L1616.5,346.2 L1618.0,345.2 L1619.5,344.2 L1621.0,343.1 L1622.5,342.0 L1624.0,340.8 L1625.5,339.6 L1627.0,338.4 L1628.5,337.1 L1630.0,335.9 L1631.5,334.8 L1633.0,333.7 L1634.5,332.7 L1636.0,331.7 L1637.5,330.8 L1639.0,330.1 L1640.5,329.4 L1642.0,328.7 L1643.5,328.1 L1645.0,327.6 L1646.5,327.1 L1648.0,326.7 L1649.5,326.4 L1651.0,326.1 L1652.5,326.0 L1654.0,326.0 L1655.5,326.1 L1657.0,326.3 L1658.5,326.7 L1660.0,327.0 L1661.5,327.5 L1663.0,328.0 L1664.5,328.5 L1666.0,329.0 L1667.5,329.5 L1669.0,330.0 L1670.5,330.4 L1672.0,330.8 L1673.5,331.2 L1675.0,331.6 L1676.5,332.0 L1678.0,332.4 L1679.5,332.8 L1681.0,333.2 L1682.5,333.4 L1684.0,333.6 L1685.5,333.7 L1687.0,333.5 L1688.5,333.1 L1690.0,332.3 L1691.5,331.2 L1693.0,330.0 L1694.5,328.7 L1696.0,327.4 L1697.5,326.1 L1699.0,324.8 L1700.5,323.4 L1702.0,322.0 L1703.5,320.6 L1705.0,319.3 L1706.5,318.2 L1708.0,317.3 L1709.5,316.7 L1711.0,316.4 L1712.5,316.3 L1714.0,316.3 L1715.5,316.3 L1717.0,316.4 L1718.5,316.4 L1720.0,316.5 L1721.5,316.7 L1723.0,316.8 L1724.5,317.0 L1726.0,317.2 L1727.5,317.4 L1729.0,317.8 L1730.5,318.2 L1732.0,318.6 L1733.5,319.0 L1735.0,319.5 L1736.5,320.0 L1738.0,320.4 L1739.5,320.8 L1741.0,321.1 L1742.5,321.4 L1744.0,321.5 L1745.5,321.5 L1747.0,321.3 L1748.5,320.9 L1750.0,320.2 L1751.5,319.3 L1753.0,318.3 L1754.5,317.2 L1756.0,316.0 L1757.5,314.8 L1759.0,313.6 L1760.5,312.5 L1762.0,311.4 L1763.5,310.4 L1765.0,309.3 L1766.5,308.3 L1768.0,307.2 L1769.5,306.1 L1771.0,305.1 L1772.5,304.0 L1774.0,303.0 L1775.5,302.0 L1777.0,301.0 L1778.5,300.1 L1780.0,299.2 L1781.5,298.3 L1783.0,297.4 L1784.5,296.5 L1786.0,295.7 L1787.5,294.9 L1789.0,294.1 L1790.5,293.4 L1792.0,292.7 L1793.5,292.0 L1795.0,291.4 L1796.5,290.8 L1798.0,290.3 L1799.5,289.8 L1801.0,289.4 L1802.5,289.0 L1804.0,288.7 L1805.5,288.4 L1807.0,288.1 L1808.5,287.9 L1810.0,287.9 L1811.5,287.9 L1813.0,288.3 L1814.5,288.9 L1816.0,289.9 L1817.5,291.3 L1819.0,293.0 L1820.5,294.8 L1822.0,296.9 L1823.5,299.2 L1825.0,301.7 L1826.5,304.4 L1828.0,307.0 L1829.5,309.7 L1831.0,312.2 L1832.5,314.6 L1834.0,316.9 L1835.5,319.0 L1837.0,320.8 L1838.5,322.4 L1840.0,323.6 L1841.5,324.6 L1843.0,325.2 L1844.5,325.5 L1846.0,325.6 L1847.5,325.5 L1849.0,325.4 L1850.5,325.3 L1852.0,325.1 L1853.5,325.0 L1855.0,324.8 L1856.5,324.7 L1858.0,324.6 L1859.5,324.4 L1861.0,324.3 L1862.5,324.1 L1864.0,324.0 L1865.5,323.9 L1867.0,323.8 L1868.5,323.8 L1870.0,323.8 L1871.5,323.9 L1873.0,324.2 L1874.5,324.6 L1876.0,325.2 L1877.5,325.9 L1879.0,326.6 L1880.5,327.5 L1882.0,328.3 L1883.5,329.2 L1885.0,330.0 L1886.5,330.8 L1888.0,331.6 L1889.5,332.5 L1891.0,333.4 L1892.5,334.3 L1894.0,335.3 L1895.5,336.2 L1897.0,337.0 L1898.5,337.8 L1900.0,338.4 L1901.5,338.9 L1903.0,339.1 L1904.5,339.0 L1906.0,338.6 L1907.5,337.8 L1909.0,336.7 L1910.5,335.4 L1912.0,333.9 L1913.5,332.4 L1915.0,330.9 L1916.5,329.5 L1918.0,328.1 L1919.5,326.7 L1921.0,325.2 L1922.5,323.6 L1924.0,322.0 L1925.5,320.5 L1927.0,319.0 L1928.5,317.7 L1930.0,316.5 L1931.5,315.5 L1933.0,314.8 L1934.5,314.3 L1936.0,314.1 L1937.5,314.0 L1939.0,314.0 L1940.5,314.0 L1942.0,314.0 L1943.5,314.0 L1945.0,314.0 L1946.5,314.0 L1948.0,314.0 L1949.5,314.0 L1951.0,314.0 L1952.5,314.0 L1954.0,314.0 L1955.5,314.0 L1957.0,314.0 L1958.5,314.0 L1960.0,314.0 L1961.5,314.0 L1963.0,313.9 L1964.5,313.9 L1966.0,313.7 L1967.5,313.6 L1969.0,313.3 L1970.5,313.1 L1972.0,312.8 L1973.5,312.5 L1975.0,312.1 L1976.5,311.8 L1978.0,311.4 L1979.5,311.0 L1981.0,310.6 L1982.5,310.3 L1984.0,309.9 L1985.5,309.6 L1987.0,309.2 L1988.5,309.0 L1990.0,308.7 L1991.5,308.5 L1993.0,308.3 L1994.5,308.2 L1996.0,308.2 L1997.5,308.3 L1999.0,308.5 L2000.5,308.8 L2002.0,309.2 L2003.5,309.8 L2005.0,310.4 L2006.5,311.0 L2008.0,311.7 L2009.5,312.4 L2011.0,313.1 L2012.5,313.9 L2014.0,314.7 L2015.5,315.6 L2017.0,316.6 L2018.5,317.5 L2020.0,318.4 L2021.5,319.3 L2023.0,320.0 L2024.5,320.5 L2026.0,320.8 L2027.5,321.0 L2029.0,321.1 L2030.5,321.0 L2032.0,321.0 L2033.5,321.0 L2035.0,320.9 L2036.5,320.8 L2038.0,320.7 L2039.5,320.6 L2041.0,320.5 L2042.5,320.3 L2044.0,320.2 L2045.5,320.0 L2047.0,319.8 L2048.5,319.6 L2050.0,319.4 L2051.5,319.2 L2053.0,318.9 L2054.5,318.6 L2056.0,318.3 L2057.5,318.0 L2059.0,317.6 L2060.5,317.2 L2062.0,316.9 L2063.5,316.5 L2065.0,316.1 L2066.5,315.6 L2068.0,315.2 L2069.5,314.8 L2071.0,314.4 L2072.5,314.0 L2074.0,313.5 L2075.5,313.1 L2077.0,312.7 L2078.5,312.3 L2080.0,311.8 L2081.5,311.4 L2083.0,310.9 L2084.5,310.5 L2086.0,310.0 L2087.5,309.6 L2089.0,309.2 L2090.5,308.8 L2092.0,308.4 L2093.5,308.1 L2095.0,307.7 L2096.5,307.5 L2098.0,307.2 L2099.5,307.0 L2101.0,306.7 L2102.5,306.5 L2104.0,306.3 L2105.5,306.2 L2107.0,306.0 L2108.5,305.9 L2110.0,305.8 L2111.5,305.7 L2113.0,305.7 L2114.5,305.6 L2116.0,305.6 L2117.5,305.5 L2119.0,305.5 L2120.5,305.5 L2122.0,305.5 L2123.5,305.4 L2125.0,305.4 L2126.5,305.4 L2128.0,305.4 L2128.0,682 L142.0,682 Z" fill="url(#gS)"/><rect x="142" y="187" width="1986" height="2" fill="#000" fill-opacity="0.085"/><rect x="142" y="259" width="1986" height="2" fill="#000" fill-opacity="0.085"/><rect x="142" y="329" width="1986" height="2" fill="#000" fill-opacity="0.085"/><rect x="142" y="399" width="1986" height="2" fill="#000" fill-opacity="0.085"/><rect x="142" y="469" width="1986" height="2" fill="#000" fill-opacity="0.085"/><rect x="142" y="541" width="1986" height="2" fill="#000" fill-opacity="0.085"/><rect x="142" y="611" width="1986" height="2" fill="#000" fill-opacity="0.085"/><line x1="142" y1="177" x2="2128" y2="177" stroke="#cfcfcf" stroke-width="2" stroke-dasharray="4 4"/><rect x="142" y="681.2" width="1986" height="1.9" fill="#5c5c5c"/><line x1="142" y1="680.6" x2="2128" y2="680.6" stroke="#fff" stroke-width="1.2"/><line x1="142" y1="681" x2="2128" y2="681" stroke="#d2d2d2" stroke-width="1.9" stroke-dasharray="4 4"/><rect x="310.1" y="682" width="2" height="10" fill="#666"/><rect x="462.9" y="682" width="2" height="10" fill="#666"/><rect x="632.0" y="682" width="2" height="10" fill="#666"/><rect x="795.7" y="682" width="2" height="10" fill="#666"/><rect x="964.9" y="682" width="2" height="10" fill="#666"/><rect x="1128.5" y="682" width="2" height="10" fill="#666"/><rect x="1297.7" y="682" width="2" height="10" fill="#666"/><rect x="1466.8" y="682" width="2" height="10" fill="#666"/><rect x="1630.5" y="682" width="2" height="10" fill="#666"/><rect x="1799.6" y="682" width="2" height="10" fill="#666"/><rect x="1963.3" y="682" width="2" height="10" fill="#666"/><text transform="translate(136,196.2) scale(0.9,1)" text-anchor="end" font-family="'Liberation Sans', Arial, sans-serif" font-size="23" fill="#434343" stroke="#434343" stroke-width="0.3">14%</text><text transform="translate(136,268.2) scale(0.9,1)" text-anchor="end" font-family="'Liberation Sans', Arial, sans-serif" font-size="23" fill="#434343" stroke="#434343" stroke-width="0.3">12%</text><text transform="translate(136,338.2) scale(0.9,1)" text-anchor="end" font-family="'Liberation Sans', Arial, sans-serif" font-size="23" fill="#434343" stroke="#434343" stroke-width="0.3">10%</text><text transform="translate(136,408.2) scale(0.9,1)" text-anchor="end" font-family="'Liberation Sans', Arial, sans-serif" font-size="23" fill="#434343" stroke="#434343" stroke-width="0.3">8%</text><text transform="translate(136,478.2) scale(0.9,1)" text-anchor="end" font-family="'Liberation Sans', Arial, sans-serif" font-size="23" fill="#434343" stroke="#434343" stroke-width="0.3">6%</text><text transform="translate(136,550.2) scale(0.9,1)" text-anchor="end" font-family="'Liberation Sans', Arial, sans-serif" font-size="23" fill="#434343" stroke="#434343" stroke-width="0.3">4%</text><text transform="translate(136,620.2) scale(0.9,1)" text-anchor="end" font-family="'Liberation Sans', Arial, sans-serif" font-size="23" fill="#434343" stroke="#434343" stroke-width="0.3">2%</text><text x="142" y="723" text-anchor="middle" font-family="'Liberation Sans', Arial, sans-serif" font-size="22.6" fill="#474747" stroke="#474747" stroke-width="0.3">2025</text><text x="311.1" y="723" text-anchor="middle" font-family="'Liberation Sans', Arial, sans-serif" font-size="22.6" fill="#474747" stroke="#474747" stroke-width="0.3">February</text><text x="463.9" y="723" text-anchor="middle" font-family="'Liberation Sans', Arial, sans-serif" font-size="22.6" fill="#474747" stroke="#474747" stroke-width="0.3">March</text><text x="633.0" y="723" text-anchor="middle" font-family="'Liberation Sans', Arial, sans-serif" font-size="22.6" fill="#474747" stroke="#474747" stroke-width="0.3">April</text><text x="796.7" y="723" text-anchor="middle" font-family="'Liberation Sans', Arial, sans-serif" font-size="22.6" fill="#474747" stroke="#474747" stroke-width="0.3">May</text><text x="965.9" y="723" text-anchor="middle" font-family="'Liberation Sans', Arial, sans-serif" font-size="22.6" fill="#474747" stroke="#474747" stroke-width="0.3">June</text><text x="1129.5" y="723" text-anchor="middle" font-family="'Liberation Sans', Arial, sans-serif" font-size="22.6" fill="#474747" stroke="#474747" stroke-width="0.3">July</text><text x="1298.7" y="723" text-anchor="middle" font-family="'Liberation Sans', Arial, sans-serif" font-size="22.6" fill="#474747" stroke="#474747" stroke-width="0.3">August</text><text x="1467.8" y="723" text-anchor="middle" font-family="'Liberation Sans', Arial, sans-serif" font-size="22.6" fill="#474747" stroke="#474747" stroke-width="0.3">September</text><text x="1631.5" y="723" text-anchor="middle" font-family="'Liberation Sans', Arial, sans-serif" font-size="22.6" fill="#474747" stroke="#474747" stroke-width="0.3">October</text><text x="1800.6" y="723" text-anchor="middle" font-family="'Liberation Sans', Arial, sans-serif" font-size="22.6" fill="#474747" stroke="#474747" stroke-width="0.3">November</text><text x="1964.3" y="723" text-anchor="middle" font-family="'Liberation Sans', Arial, sans-serif" font-size="22.6" fill="#474747" stroke="#474747" stroke-width="0.3">December</text><rect x="68" y="162" width="76" height="28.5" rx="6" fill="#e1e7f1"/><text transform="translate(105.3,184.8) scale(0.94,1)" text-anchor="middle" font-family="'Liberation Sans', Arial, sans-serif" font-size="22.4" fill="#111" stroke="#111" stroke-width="0.3">14.3%</text><rect x="96" y="665.5" width="48" height="29" rx="6" fill="#e1e7f1"/><text x="119.6" y="688.6" text-anchor="middle" font-family="'Liberation Sans', Arial, sans-serif" font-size="23" fill="#111" stroke="#111" stroke-width="0.3">0%</text><path d="M142.0,681.0 L143.5,677.7 L145.0,674.5 L146.5,671.4 L148.0,668.4 L149.5,665.7 L151.0,663.3 L152.5,661.2 L154.0,659.4 L155.5,657.8 L157.0,656.5 L158.5,655.2 L160.0,654.1 L161.5,653.1 L163.0,652.2 L164.5,651.5 L166.0,650.9 L167.5,650.5 L169.0,650.3 L170.5,650.2 L172.0,650.1 L173.5,650.0 L175.0,650.0 L176.5,649.9 L178.0,649.9 L179.5,649.9 L181.0,649.9 L182.5,649.8 L184.0,649.8 L185.5,649.8 L187.0,649.8 L188.5,649.8 L190.0,649.8 L191.5,649.9 L193.0,649.9 L194.5,650.0 L196.0,650.0 L197.5,650.1 L199.0,650.1 L200.5,650.0 L202.0,649.7 L203.5,649.0 L205.0,647.8 L206.5,646.3 L208.0,644.5 L209.5,642.6 L211.0,640.4 L212.5,638.1 L214.0,635.6 L215.5,632.9 L217.0,630.3 L218.5,627.7 L220.0,625.1 L221.5,622.6 L223.0,620.1 L224.5,617.6 L226.0,615.2 L227.5,613.2 L229.0,611.7 L230.5,610.8 L232.0,610.2 L233.5,609.8 L235.0,609.5 L236.5,609.3 L238.0,609.1 L239.5,608.9 L241.0,608.8 L242.5,608.7 L244.0,608.6 L245.5,608.5 L247.0,608.5 L248.5,608.4 L250.0,608.4 L251.5,608.3 L253.0,608.3 L254.5,608.3 L256.0,608.3 L257.5,608.3 L259.0,608.2 L260.5,608.2 L262.0,608.1 L263.5,608.1 L265.0,608.0 L266.5,607.9 L268.0,607.8 L269.5,607.7 L271.0,607.6 L272.5,607.5 L274.0,607.4 L275.5,607.2 L277.0,607.0 L278.5,606.8 L280.0,606.6 L281.5,606.3 L283.0,606.0 L284.5,605.7 L286.0,605.4 L287.5,605.1 L289.0,604.7 L290.5,604.3 L292.0,603.8 L293.5,603.3 L295.0,602.8 L296.5,602.2 L298.0,601.5 L299.5,600.8 L301.0,599.9 L302.5,599.0 L304.0,598.1 L305.5,597.1 L307.0,596.1 L308.5,595.0 L310.0,594.0 L311.5,592.9 L313.0,591.9 L314.5,590.8 L316.0,589.9 L317.5,588.9 L319.0,588.0 L320.5,587.1 L322.0,586.3 L323.5,585.4 L325.0,584.5 L326.5,583.7 L328.0,582.7 L329.5,581.8 L331.0,580.7 L332.5,579.7 L334.0,578.5 L335.5,577.3 L337.0,576.0 L338.5,574.8 L340.0,573.5 L341.5,572.3 L343.0,571.1 L344.5,570.0 L346.0,569.0 L347.5,568.1 L349.0,567.3 L350.5,566.6 L352.0,565.9 L353.5,565.4 L355.0,564.9 L356.5,564.5 L358.0,564.2 L359.5,564.0 L361.0,563.9 L362.5,563.8 L364.0,563.8 L365.5,563.8 L367.0,563.8 L368.5,563.8 L370.0,563.8 L371.5,563.8 L373.0,563.8 L374.5,563.8 L376.0,563.8 L377.5,563.8 L379.0,563.8 L380.5,563.8 L382.0,563.8 L383.5,563.8 L385.0,563.8 L386.5,563.8 L388.0,563.8 L389.5,563.8 L391.0,563.8 L392.5,563.8 L394.0,563.8 L395.5,563.7 L397.0,563.4 L398.5,563.0 L400.0,562.4 L401.5,561.7 L403.0,560.8 L404.5,559.8 L406.0,558.8 L407.5,557.7 L409.0,556.7 L410.5,555.8 L412.0,555.0 L413.5,554.3 L415.0,553.5 L416.5,552.8 L418.0,552.2 L419.5,551.5 L421.0,550.9 L422.5,550.5 L424.0,550.2 L425.5,550.0 L427.0,550.0 L428.5,550.1 L430.0,550.4 L431.5,550.7 L433.0,551.2 L434.5,551.7 L436.0,552.3 L437.5,552.9 L439.0,553.5 L440.5,554.2 L442.0,554.8 L443.5,555.5 L445.0,556.1 L446.5,556.8 L448.0,557.5 L449.5,558.3 L451.0,559.1 L452.5,559.8 L454.0,560.7 L455.5,561.5 L457.0,562.4 L458.5,563.3 L460.0,564.2 L461.5,565.1 L463.0,566.1 L464.5,567.1 L466.0,568.1 L467.5,569.1 L469.0,570.2 L470.5,571.2 L472.0,572.4 L473.5,573.5 L475.0,574.6 L476.5,575.8 L478.0,577.0 L479.5,578.1 L481.0,579.3 L482.5,580.5 L484.0,581.7 L485.5,582.9 L487.0,584.1 L488.5,585.3 L490.0,586.6 L491.5,587.9 L493.0,589.2 L494.5,590.4 L496.0,591.7 L497.5,592.8 L499.0,594.0 L500.5,595.1 L502.0,596.1 L503.5,597.2 L505.0,598.2 L506.5,599.2 L508.0,600.2 L509.5,601.1 L511.0,601.9 L512.5,602.6 L514.0,603.1 L515.5,603.4 L517.0,603.5 L518.5,603.3 L520.0,602.8 L521.5,602.2 L523.0,601.4 L524.5,600.5 L526.0,599.4 L527.5,598.3 L529.0,597.0 L530.5,595.8 L532.0,594.5 L533.5,593.1 L535.0,591.6 L536.5,589.9 L538.0,588.2 L539.5,586.4 L541.0,584.6 L542.5,582.8 L544.0,581.1 L545.5,579.4 L547.0,577.7 L548.5,576.2 L550.0,574.7 L551.5,573.3 L553.0,572.0 L554.5,570.7 L556.0,569.4 L557.5,568.2 L559.0,567.0 L560.5,565.9 L562.0,564.8 L563.5,563.7 L565.0,562.7 L566.5,561.7 L568.0,560.8 L569.5,559.9 L571.0,559.0 L572.5,558.2 L574.0,557.4 L575.5,556.6 L577.0,555.9 L578.5,555.2 L580.0,554.6 L581.5,553.9 L583.0,553.4 L584.5,552.8 L586.0,552.4 L587.5,551.9 L589.0,551.6 L590.5,551.2 L592.0,551.0 L593.5,550.8 L595.0,550.6 L596.5,550.5 L598.0,550.3 L599.5,550.2 L601.0,550.1 L602.5,550.0 L604.0,550.0 L605.5,549.9 L607.0,549.9 L608.5,549.8 L610.0,549.8 L611.5,549.9 L613.0,550.1 L614.5,550.3 L616.0,550.6 L617.5,551.0 L619.0,551.5 L620.5,552.1 L622.0,552.8 L623.5,553.4 L625.0,554.2 L626.5,555.0 L628.0,555.8 L629.5,556.6 L631.0,557.5 L632.5,558.5 L634.0,559.4 L635.5,560.5 L637.0,561.6 L638.5,562.8 L640.0,564.1 L641.5,565.5 L643.0,567.0 L644.5,568.6 L646.0,570.4 L647.5,572.4 L649.0,574.6 L650.5,576.9 L652.0,579.4 L653.5,581.9 L655.0,584.4 L656.5,586.8 L658.0,589.2 L659.5,591.3 L661.0,593.3 L662.5,595.1 L664.0,596.7 L665.5,598.3 L667.0,599.7 L668.5,601.1 L670.0,602.3 L671.5,603.3 L673.0,604.1 L674.5,604.6 L676.0,604.8 L677.5,604.6 L679.0,603.9 L680.5,602.7 L682.0,601.1 L683.5,599.1 L685.0,596.8 L686.5,594.3 L688.0,591.5 L689.5,588.5 L691.0,585.1 L692.5,581.5 L694.0,577.8 L695.5,574.1 L697.0,570.4 L698.5,566.8 L700.0,563.2 L701.5,559.5 L703.0,556.0 L704.5,553.0 L706.0,550.8 L707.5,549.5 L709.0,549.0 L710.5,548.8 L712.0,548.8 L713.5,548.8 L715.0,548.8 L716.5,548.8 L718.0,548.8 L719.5,548.8 L721.0,548.9 L722.5,549.0 L724.0,549.2 L725.5,549.4 L727.0,549.7 L728.5,550.0 L730.0,550.3 L731.5,550.6 L733.0,550.8 L734.5,551.0 L736.0,551.0 L737.5,550.8 L739.0,550.2 L740.5,549.2 L742.0,547.8 L743.5,546.1 L745.0,544.1 L746.5,542.0 L748.0,539.9 L749.5,537.7 L751.0,535.6 L752.5,533.5 L754.0,531.3 L755.5,529.1 L757.0,526.8 L758.5,524.4 L760.0,522.1 L761.5,519.7 L763.0,517.2 L764.5,514.7 L766.0,512.2 L767.5,509.8 L769.0,507.5 L770.5,505.4 L772.0,503.5 L773.5,501.9 L775.0,500.3 L776.5,498.9 L778.0,497.5 L779.5,496.1 L781.0,494.7 L782.5,493.2 L784.0,491.7 L785.5,490.2 L787.0,488.7 L788.5,487.2 L790.0,485.6 L791.5,484.1 L793.0,482.5 L794.5,480.9 L796.0,479.4 L797.5,478.1 L799.0,477.0 L800.5,476.0 L802.0,475.2 L803.5,474.5 L805.0,474.0 L806.5,473.5 L808.0,473.0 L809.5,472.5 L811.0,472.1 L812.5,471.7 L814.0,471.4 L815.5,471.1 L817.0,470.8 L818.5,470.5 L820.0,470.2 L821.5,469.8 L823.0,469.3 L824.5,468.8 L826.0,468.2 L827.5,467.6 L829.0,466.9 L830.5,466.2 L832.0,465.5 L833.5,464.6 L835.0,463.7 L836.5,462.7 L838.0,461.6 L839.5,460.3 L841.0,458.8 L842.5,457.1 L844.0,455.2 L845.5,453.1 L847.0,450.9 L848.5,448.6 L850.0,446.4 L851.5,444.2 L853.0,442.2 L854.5,440.3 L856.0,438.7 L857.5,437.3 L859.0,436.1 L860.5,435.1 L862.0,434.2 L863.5,433.5 L865.0,432.8 L866.5,432.2 L868.0,431.7 L869.5,431.3 L871.0,430.9 L872.5,430.5 L874.0,430.1 L875.5,429.8 L877.0,429.5 L878.5,429.2 L880.0,428.9 L881.5,428.7 L883.0,428.5 L884.5,428.3 L886.0,428.1 L887.5,428.0 L889.0,427.9 L890.5,427.8 L892.0,427.8 L893.5,427.8 L895.0,427.9 L896.5,428.1 L898.0,428.5 L899.5,429.1 L901.0,429.8 L902.5,430.6 L904.0,431.5 L905.5,432.5 L907.0,433.7 L908.5,434.9 L910.0,436.1 L911.5,437.3 L913.0,438.4 L914.5,439.5 L916.0,440.4 L917.5,441.3 L919.0,442.2 L920.5,443.0 L922.0,443.7 L923.5,444.4 L925.0,444.9 L926.5,445.4 L928.0,445.6 L929.5,445.7 L931.0,445.7 L932.5,445.6 L934.0,445.5 L935.5,445.4 L937.0,445.2 L938.5,445.0 L940.0,444.7 L941.5,444.4 L943.0,444.0 L944.5,443.7 L946.0,443.2 L947.5,442.8 L949.0,442.2 L950.5,441.7 L952.0,441.0 L953.5,440.4 L955.0,439.6 L956.5,438.9 L958.0,438.1 L959.5,437.3 L961.0,436.5 L962.5,435.6 L964.0,434.8 L965.5,433.9 L967.0,433.1 L968.5,432.2 L970.0,431.2 L971.5,430.2 L973.0,429.1 L974.5,428.0 L976.0,426.8 L977.5,425.7 L979.0,424.6 L980.5,423.6 L982.0,422.7 L983.5,421.9 L985.0,421.3 L986.5,420.8 L988.0,420.5 L989.5,420.4 L991.0,420.3 L992.5,420.2 L994.0,420.1 L995.5,420.1 L997.0,420.0 L998.5,420.0 L1000.0,420.0 L1001.5,419.9 L1003.0,419.9 L1004.5,419.9 L1006.0,419.9 L1007.5,419.9 L1009.0,419.9 L1010.5,419.9 L1012.0,420.0 L1013.5,420.0 L1015.0,420.0 L1016.5,420.1 L1018.0,420.1 L1019.5,420.2 L1021.0,420.3 L1022.5,420.4 L1024.0,420.5 L1025.5,420.6 L1027.0,420.9 L1028.5,421.2 L1030.0,421.5 L1031.5,421.9 L1033.0,422.4 L1034.5,422.9 L1036.0,423.3 L1037.5,423.8 L1039.0,424.3 L1040.5,424.8 L1042.0,425.2 L1043.5,425.6 L1045.0,426.0 L1046.5,426.3 L1048.0,426.7 L1049.5,427.0 L1051.0,427.3 L1052.5,427.6 L1054.0,427.9 L1055.5,428.2 L1057.0,428.4 L1058.5,428.6 L1060.0,428.8 L1061.5,428.9 L1063.0,429.0 L1064.5,429.1 L1066.0,429.2 L1067.5,429.2 L1069.0,429.3 L1070.5,429.4 L1072.0,429.4 L1073.5,429.5 L1075.0,429.5 L1076.5,429.6 L1078.0,429.6 L1079.5,429.6 L1081.0,429.7 L1082.5,429.7 L1084.0,429.7 L1085.5,429.7 L1087.0,429.7 L1088.5,429.7 L1090.0,429.7 L1091.5,429.7 L1093.0,429.6 L1094.5,429.6 L1096.0,429.6 L1097.5,429.5 L1099.0,429.5 L1100.5,429.4 L1102.0,429.3 L1103.5,429.3 L1105.0,429.2 L1106.5,429.1 L1108.0,429.0 L1109.5,428.9 L1111.0,428.8 L1112.5,428.7 L1114.0,428.6 L1115.5,428.4 L1117.0,428.3 L1118.5,428.2 L1120.0,428.0 L1121.5,427.9 L1123.0,427.7 L1124.5,427.5 L1126.0,427.3 L1127.5,427.1 L1129.0,426.8 L1130.5,426.5 L1132.0,426.2 L1133.5,425.9 L1135.0,425.5 L1136.5,425.0 L1138.0,424.5 L1139.5,424.0 L1141.0,423.4 L1142.5,422.7 L1144.0,422.0 L1145.5,421.1 L1147.0,420.3 L1148.5,419.3 L1150.0,418.3 L1151.5,417.3 L1153.0,416.3 L1154.5,415.3 L1156.0,414.2 L1157.5,413.2 L1159.0,412.3 L1160.5,411.3 L1162.0,410.3 L1163.5,409.2 L1165.0,408.2 L1166.5,407.2 L1168.0,406.2 L1169.5,405.3 L1171.0,404.5 L1172.5,403.7 L1174.0,403.1 L1175.5,402.6 L1177.0,402.2 L1178.5,401.8 L1180.0,401.5 L1181.5,401.2 L1183.0,401.0 L1184.5,400.8 L1186.0,400.6 L1187.5,400.4 L1189.0,400.2 L1190.5,400.0 L1192.0,399.8 L1193.5,399.6 L1195.0,399.5 L1196.5,399.3 L1198.0,399.2 L1199.5,399.1 L1201.0,399.0 L1202.5,398.9 L1204.0,398.8 L1205.5,398.7 L1207.0,398.5 L1208.5,398.3 L1210.0,398.1 L1211.5,397.9 L1213.0,397.6 L1214.5,397.2 L1216.0,396.8 L1217.5,396.3 L1219.0,395.7 L1220.5,395.1 L1222.0,394.5 L1223.5,393.8 L1225.0,393.0 L1226.5,392.3 L1228.0,391.5 L1229.5,390.7 L1231.0,390.0 L1232.5,389.2 L1234.0,388.4 L1235.5,387.6 L1237.0,386.9 L1238.5,386.1 L1240.0,385.2 L1241.5,384.4 L1243.0,383.6 L1244.5,382.7 L1246.0,381.9 L1247.5,381.0 L1249.0,380.2 L1250.5,379.3 L1252.0,378.5 L1253.5,377.6 L1255.0,376.7 L1256.5,375.7 L1258.0,374.6 L1259.5,373.6 L1261.0,372.5 L1262.5,371.5 L1264.0,370.5 L1265.5,369.6 L1267.0,368.8 L1268.5,368.2 L1270.0,367.7 L1271.5,367.4 L1273.0,367.3 L1274.5,367.4 L1276.0,367.6 L1277.5,367.9 L1279.0,368.3 L1280.5,368.6 L1282.0,369.0 L1283.5,369.4 L1285.0,369.7 L1286.5,370.1 L1288.0,370.5 L1289.5,370.9 L1291.0,371.3 L1292.5,371.6 L1294.0,372.0 L1295.5,372.3 L1297.0,372.6 L1298.5,372.9 L1300.0,373.0 L1301.5,373.2 L1303.0,373.2 L1304.5,373.1 L1306.0,373.0 L1307.5,372.7 L1309.0,372.3 L1310.5,371.8 L1312.0,371.3 L1313.5,370.7 L1315.0,370.2 L1316.5,369.6 L1318.0,368.9 L1319.5,368.3 L1321.0,367.6 L1322.5,366.8 L1324.0,366.1 L1325.5,365.2 L1327.0,364.4 L1328.5,363.5 L1330.0,362.7 L1331.5,361.8 L1333.0,360.9 L1334.5,360.0 L1336.0,359.0 L1337.5,358.1 L1339.0,357.2 L1340.5,356.2 L1342.0,355.2 L1343.5,354.2 L1345.0,353.2 L1346.5,352.1 L1348.0,351.1 L1349.5,350.1 L1351.0,349.1 L1352.5,348.2 L1354.0,347.3 L1355.5,346.5 L1357.0,345.7 L1358.5,344.9 L1360.0,344.2 L1361.5,343.5 L1363.0,342.9 L1364.5,342.5 L1366.0,342.2 L1367.5,342.1 L1369.0,342.1 L1370.5,342.1 L1372.0,342.2 L1373.5,342.3 L1375.0,342.4 L1376.5,342.5 L1378.0,342.6 L1379.5,342.7 L1381.0,342.8 L1382.5,342.9 L1384.0,343.0 L1385.5,343.1 L1387.0,343.2 L1388.5,343.3 L1390.0,343.4 L1391.5,343.4 L1393.0,343.5 L1394.5,343.6 L1396.0,343.6 L1397.5,343.7 L1399.0,343.7 L1400.5,343.8 L1402.0,343.7 L1403.5,343.6 L1405.0,343.2 L1406.5,342.6 L1408.0,341.9 L1409.5,340.9 L1411.0,339.9 L1412.5,338.9 L1414.0,337.9 L1415.5,336.9 L1417.0,335.9 L1418.5,334.9 L1420.0,333.8 L1421.5,332.8 L1423.0,331.9 L1424.5,331.2 L1426.0,330.7 L1427.5,330.3 L1429.0,330.1 L1430.5,329.9 L1432.0,329.8 L1433.5,329.6 L1435.0,329.5 L1436.5,329.4 L1438.0,329.3 L1439.5,329.2 L1441.0,329.1 L1442.5,329.0 L1444.0,328.9 L1445.5,328.8 L1447.0,328.7 L1448.5,328.6 L1450.0,328.5 L1451.5,328.4 L1453.0,328.3 L1454.5,328.2 L1456.0,328.1 L1457.5,328.0 L1459.0,327.8 L1460.5,327.7 L1462.0,327.5 L1463.5,327.3 L1465.0,327.0 L1466.5,326.7 L1468.0,326.4 L1469.5,326.1 L1471.0,325.7 L1472.5,325.4 L1474.0,325.0 L1475.5,324.6 L1477.0,324.3 L1478.5,323.9 L1480.0,323.5 L1481.5,323.2 L1483.0,322.9 L1484.5,322.6 L1486.0,322.3 L1487.5,322.0 L1489.0,321.6 L1490.5,321.2 L1492.0,320.7 L1493.5,320.1 L1495.0,319.4 L1496.5,318.6 L1498.0,317.6 L1499.5,316.6 L1501.0,315.5 L1502.5,314.4 L1504.0,313.2 L1505.5,311.9 L1507.0,310.7 L1508.5,309.4 L1510.0,308.2 L1511.5,306.9 L1513.0,305.6 L1514.5,304.2 L1516.0,302.8 L1517.5,301.4 L1519.0,300.0 L1520.5,298.6 L1522.0,297.3 L1523.5,296.0 L1525.0,294.8 L1526.5,293.7 L1528.0,292.8 L1529.5,291.9 L1531.0,291.1 L1532.5,290.5 L1534.0,289.9 L1535.5,289.4 L1537.0,288.9 L1538.5,288.5 L1540.0,288.1 L1541.5,287.8 L1543.0,287.4 L1544.5,287.1 L1546.0,286.7 L1547.5,286.3 L1549.0,285.9 L1550.5,285.5 L1552.0,285.0 L1553.5,284.5 L1555.0,283.9 L1556.5,283.4 L1558.0,282.9 L1559.5,282.4 L1561.0,281.8 L1562.5,281.3 L1564.0,280.7 L1565.5,280.2 L1567.0,279.6 L1568.5,279.1 L1570.0,278.5 L1571.5,278.0 L1573.0,277.4 L1574.5,276.9 L1576.0,276.3 L1577.5,275.7 L1579.0,275.2 L1580.5,274.6 L1582.0,274.0 L1583.5,273.4 L1585.0,272.9 L1586.5,272.3 L1588.0,271.8 L1589.5,271.3 L1591.0,270.7 L1592.5,270.2 L1594.0,269.7 L1595.5,269.1 L1597.0,268.6 L1598.5,268.0 L1600.0,267.5 L1601.5,266.9 L1603.0,266.3 L1604.5,265.7 L1606.0,265.1 L1607.5,264.4 L1609.0,263.7 L1610.5,263.0 L1612.0,262.2 L1613.5,261.4 L1615.0,260.6 L1616.5,259.7 L1618.0,258.8 L1619.5,257.8 L1621.0,256.8 L1622.5,255.7 L1624.0,254.6 L1625.5,253.5 L1627.0,252.5 L1628.5,251.4 L1630.0,250.4 L1631.5,249.4 L1633.0,248.4 L1634.5,247.5 L1636.0,246.5 L1637.5,245.6 L1639.0,244.6 L1640.5,243.7 L1642.0,242.9 L1643.5,242.2 L1645.0,241.5 L1646.5,241.0 L1648.0,240.7 L1649.5,240.5 L1651.0,240.3 L1652.5,240.2 L1654.0,240.2 L1655.5,240.1 L1657.0,240.0 L1658.5,240.0 L1660.0,239.9 L1661.5,239.9 L1663.0,239.9 L1664.5,239.8 L1666.0,239.8 L1667.5,239.8 L1669.0,239.8 L1670.5,239.8 L1672.0,239.8 L1673.5,239.8 L1675.0,239.8 L1676.5,239.8 L1678.0,239.8 L1679.5,239.8 L1681.0,239.8 L1682.5,239.8 L1684.0,239.7 L1685.5,239.4 L1687.0,238.9 L1688.5,238.2 L1690.0,237.3 L1691.5,236.2 L1693.0,235.0 L1694.5,233.8 L1696.0,232.6 L1697.5,231.4 L1699.0,230.2 L1700.5,228.9 L1702.0,227.5 L1703.5,226.2 L1705.0,224.9 L1706.5,223.8 L1708.0,223.0 L1709.5,222.4 L1711.0,222.1 L1712.5,222.0 L1714.0,221.9 L1715.5,222.0 L1717.0,222.0 L1718.5,222.1 L1720.0,222.1 L1721.5,222.2 L1723.0,222.3 L1724.5,222.4 L1726.0,222.4 L1727.5,222.5 L1729.0,222.6 L1730.5,222.8 L1732.0,222.9 L1733.5,223.1 L1735.0,223.2 L1736.5,223.4 L1738.0,223.5 L1739.5,223.7 L1741.0,223.8 L1742.5,223.9 L1744.0,223.9 L1745.5,223.9 L1747.0,223.8 L1748.5,223.5 L1750.0,223.1 L1751.5,222.6 L1753.0,222.0 L1754.5,221.4 L1756.0,220.7 L1757.5,220.0 L1759.0,219.2 L1760.5,218.3 L1762.0,217.4 L1763.5,216.4 L1765.0,215.3 L1766.5,214.2 L1768.0,213.1 L1769.5,212.0 L1771.0,210.8 L1772.5,209.6 L1774.0,208.5 L1775.5,207.4 L1777.0,206.4 L1778.5,205.4 L1780.0,204.3 L1781.5,203.3 L1783.0,202.3 L1784.5,201.4 L1786.0,200.4 L1787.5,199.4 L1789.0,198.4 L1790.5,197.5 L1792.0,196.7 L1793.5,195.8 L1795.0,195.0 L1796.5,194.3 L1798.0,193.6 L1799.5,193.0 L1801.0,192.4 L1802.5,191.9 L1804.0,191.3 L1805.5,190.9 L1807.0,190.5 L1808.5,190.3 L1810.0,190.2 L1811.5,190.4 L1813.0,190.8 L1814.5,191.5 L1816.0,192.4 L1817.5,193.6 L1819.0,194.9 L1820.5,196.2 L1822.0,197.7 L1823.5,199.3 L1825.0,201.1 L1826.5,203.0 L1828.0,204.9 L1829.5,206.7 L1831.0,208.4 L1832.5,210.0 L1834.0,211.4 L1835.5,212.7 L1837.0,213.9 L1838.5,215.0 L1840.0,216.0 L1841.5,216.8 L1843.0,217.3 L1844.5,217.6 L1846.0,217.7 L1847.5,217.6 L1849.0,217.3 L1850.5,216.9 L1852.0,216.5 L1853.5,216.0 L1855.0,215.4 L1856.5,214.9 L1858.0,214.4 L1859.5,214.0 L1861.0,213.6 L1862.5,213.2 L1864.0,212.8 L1865.5,212.4 L1867.0,212.1 L1868.5,211.9 L1870.0,211.8 L1871.5,211.8 L1873.0,211.9 L1874.5,212.1 L1876.0,212.4 L1877.5,212.7 L1879.0,213.1 L1880.5,213.5 L1882.0,213.9 L1883.5,214.4 L1885.0,214.8 L1886.5,215.2 L1888.0,215.6 L1889.5,216.0 L1891.0,216.4 L1892.5,216.9 L1894.0,217.4 L1895.5,217.9 L1897.0,218.3 L1898.5,218.7 L1900.0,219.0 L1901.5,219.2 L1903.0,219.3 L1904.5,219.2 L1906.0,218.9 L1907.5,218.4 L1909.0,217.6 L1910.5,216.7 L1912.0,215.6 L1913.5,214.5 L1915.0,213.3 L1916.5,212.2 L1918.0,211.1 L1919.5,209.9 L1921.0,208.6 L1922.5,207.2 L1924.0,205.8 L1925.5,204.4 L1927.0,203.1 L1928.5,201.8 L1930.0,200.6 L1931.5,199.7 L1933.0,198.9 L1934.5,198.3 L1936.0,197.9 L1937.5,197.7 L1939.0,197.5 L1940.5,197.4 L1942.0,197.3 L1943.5,197.2 L1945.0,197.1 L1946.5,197.0 L1948.0,197.0 L1949.5,196.9 L1951.0,196.8 L1952.5,196.8 L1954.0,196.7 L1955.5,196.6 L1957.0,196.5 L1958.5,196.4 L1960.0,196.3 L1961.5,196.1 L1963.0,195.9 L1964.5,195.7 L1966.0,195.5 L1967.5,195.2 L1969.0,194.9 L1970.5,194.6 L1972.0,194.3 L1973.5,193.9 L1975.0,193.6 L1976.5,193.2 L1978.0,192.9 L1979.5,192.5 L1981.0,192.2 L1982.5,191.8 L1984.0,191.5 L1985.5,191.2 L1987.0,191.0 L1988.5,190.7 L1990.0,190.5 L1991.5,190.3 L1993.0,190.2 L1994.5,190.1 L1996.0,190.1 L1997.5,190.1 L1999.0,190.3 L2000.5,190.5 L2002.0,190.9 L2003.5,191.3 L2005.0,191.8 L2006.5,192.3 L2008.0,192.8 L2009.5,193.4 L2011.0,194.0 L2012.5,194.5 L2014.0,195.0 L2015.5,195.5 L2017.0,195.9 L2018.5,196.2 L2020.0,196.6 L2021.5,196.8 L2023.0,197.1 L2024.5,197.3 L2026.0,197.6 L2027.5,197.8 L2029.0,197.9 L2030.5,198.0 L2032.0,198.0 L2033.5,198.0 L2035.0,197.9 L2036.5,197.8 L2038.0,197.6 L2039.5,197.3 L2041.0,197.0 L2042.5,196.7 L2044.0,196.3 L2045.5,195.9 L2047.0,195.5 L2048.5,195.1 L2050.0,194.7 L2051.5,194.3 L2053.0,193.8 L2054.5,193.5 L2056.0,193.1 L2057.5,192.7 L2059.0,192.3 L2060.5,191.8 L2062.0,191.4 L2063.5,191.0 L2065.0,190.5 L2066.5,190.1 L2068.0,189.6 L2069.5,189.2 L2071.0,188.7 L2072.5,188.3 L2074.0,187.8 L2075.5,187.3 L2077.0,186.9 L2078.5,186.4 L2080.0,185.9 L2081.5,185.4 L2083.0,184.9 L2084.5,184.3 L2086.0,183.8 L2087.5,183.3 L2089.0,182.8 L2090.5,182.4 L2092.0,181.9 L2093.5,181.5 L2095.0,181.1 L2096.5,180.8 L2098.0,180.5 L2099.5,180.2 L2101.0,180.0 L2102.5,179.8 L2104.0,179.6 L2105.5,179.4 L2107.0,179.3 L2108.5,179.1 L2110.0,178.9 L2111.5,178.8 L2113.0,178.6 L2114.5,178.5 L2116.0,178.3 L2117.5,178.1 L2119.0,178.0 L2120.5,177.9 L2122.0,177.7 L2123.5,177.6 L2125.0,177.5 L2126.5,177.3 L2128.0,177.2" fill="none" stroke="#fff" stroke-opacity="0.45" stroke-width="5"/><path d="M142.0,681.0 L143.5,677.7 L145.0,674.5 L146.5,671.4 L148.0,668.4 L149.5,665.7 L151.0,663.3 L152.5,661.2 L154.0,659.4 L155.5,657.8 L157.0,656.5 L158.5,655.2 L160.0,654.1 L161.5,653.1 L163.0,652.2 L164.5,651.5 L166.0,650.9 L167.5,650.5 L169.0,650.3 L170.5,650.2 L172.0,650.1 L173.5,650.0 L175.0,650.0 L176.5,649.9 L178.0,649.9 L179.5,649.9 L181.0,649.9 L182.5,649.8 L184.0,649.8 L185.5,649.8 L187.0,649.8 L188.5,649.8 L190.0,649.8 L191.5,649.9 L193.0,649.9 L194.5,650.0 L196.0,650.0 L197.5,650.1 L199.0,650.1 L200.5,650.0 L202.0,649.7 L203.5,649.0 L205.0,647.8 L206.5,646.3 L208.0,644.5 L209.5,642.6 L211.0,640.4 L212.5,638.1 L214.0,635.6 L215.5,632.9 L217.0,630.3 L218.5,627.7 L220.0,625.1 L221.5,622.6 L223.0,620.1 L224.5,617.6 L226.0,615.2 L227.5,613.2 L229.0,611.7 L230.5,610.8 L232.0,610.2 L233.5,609.8 L235.0,609.5 L236.5,609.3 L238.0,609.1 L239.5,608.9 L241.0,608.8 L242.5,608.7 L244.0,608.6 L245.5,608.5 L247.0,608.5 L248.5,608.4 L250.0,608.4 L251.5,608.3 L253.0,608.3 L254.5,608.3 L256.0,608.3 L257.5,608.3 L259.0,608.2 L260.5,608.2 L262.0,608.1 L263.5,608.1 L265.0,608.0 L266.5,607.9 L268.0,607.8 L269.5,607.7 L271.0,607.6 L272.5,607.5 L274.0,607.4 L275.5,607.2 L277.0,607.0 L278.5,606.8 L280.0,606.6 L281.5,606.3 L283.0,606.0 L284.5,605.7 L286.0,605.4 L287.5,605.1 L289.0,604.7 L290.5,604.3 L292.0,603.8 L293.5,603.3 L295.0,602.8 L296.5,602.2 L298.0,601.5 L299.5,600.8 L301.0,599.9 L302.5,599.0 L304.0,598.1 L305.5,597.1 L307.0,596.1 L308.5,595.0 L310.0,594.0 L311.5,592.9 L313.0,591.9 L314.5,590.8 L316.0,589.9 L317.5,588.9 L319.0,588.0 L320.5,587.1 L322.0,586.3 L323.5,585.4 L325.0,584.5 L326.5,583.7 L328.0,582.7 L329.5,581.8 L331.0,580.7 L332.5,579.7 L334.0,578.5 L335.5,577.3 L337.0,576.0 L338.5,574.8 L340.0,573.5 L341.5,572.3 L343.0,571.1 L344.5,570.0 L346.0,569.0 L347.5,568.1 L349.0,567.3 L350.5,566.6 L352.0,565.9 L353.5,565.4 L355.0,564.9 L356.5,564.5 L358.0,564.2 L359.5,564.0 L361.0,563.9 L362.5,563.8 L364.0,563.8 L365.5,563.8 L367.0,563.8 L368.5,563.8 L370.0,563.8 L371.5,563.8 L373.0,563.8 L374.5,563.8 L376.0,563.8 L377.5,563.8 L379.0,563.8 L380.5,563.8 L382.0,563.8 L383.5,563.8 L385.0,563.8 L386.5,563.8 L388.0,563.8 L389.5,563.8 L391.0,563.8 L392.5,563.8 L394.0,563.8 L395.5,563.7 L397.0,563.4 L398.5,563.0 L400.0,562.4 L401.5,561.7 L403.0,560.8 L404.5,559.8 L406.0,558.8 L407.5,557.7 L409.0,556.7 L410.5,555.8 L412.0,555.0 L413.5,554.3 L415.0,553.5 L416.5,552.8 L418.0,552.2 L419.5,551.5 L421.0,550.9 L422.5,550.5 L424.0,550.2 L425.5,550.0 L427.0,550.0 L428.5,550.1 L430.0,550.4 L431.5,550.7 L433.0,551.2 L434.5,551.7 L436.0,552.3 L437.5,552.9 L439.0,553.5 L440.5,554.2 L442.0,554.8 L443.5,555.5 L445.0,556.1 L446.5,556.8 L448.0,557.5 L449.5,558.3 L451.0,559.1 L452.5,559.8 L454.0,560.7 L455.5,561.5 L457.0,562.4 L458.5,563.3 L460.0,564.2 L461.5,565.1 L463.0,566.1 L464.5,567.1 L466.0,568.1 L467.5,569.1 L469.0,570.2 L470.5,571.2 L472.0,572.4 L473.5,573.5 L475.0,574.6 L476.5,575.8 L478.0,577.0 L479.5,578.1 L481.0,579.3 L482.5,580.5 L484.0,581.7 L485.5,582.9 L487.0,584.1 L488.5,585.3 L490.0,586.6 L491.5,587.9 L493.0,589.2 L494.5,590.4 L496.0,591.7 L497.5,592.8 L499.0,594.0 L500.5,595.1 L502.0,596.1 L503.5,597.2 L505.0,598.2 L506.5,599.2 L508.0,600.2 L509.5,601.1 L511.0,601.9 L512.5,602.6 L514.0,603.1 L515.5,603.4 L517.0,603.5 L518.5,603.3 L520.0,602.8 L521.5,602.2 L523.0,601.4 L524.5,600.5 L526.0,599.4 L527.5,598.3 L529.0,597.0 L530.5,595.8 L532.0,594.5 L533.5,593.1 L535.0,591.6 L536.5,589.9 L538.0,588.2 L539.5,586.4 L541.0,584.6 L542.5,582.8 L544.0,581.1 L545.5,579.4 L547.0,577.7 L548.5,576.2 L550.0,574.7 L551.5,573.3 L553.0,572.0 L554.5,570.7 L556.0,569.4 L557.5,568.2 L559.0,567.0 L560.5,565.9 L562.0,564.8 L563.5,563.7 L565.0,562.7 L566.5,561.7 L568.0,560.8 L569.5,559.9 L571.0,559.0 L572.5,558.2 L574.0,557.4 L575.5,556.6 L577.0,555.9 L578.5,555.2 L580.0,554.6 L581.5,553.9 L583.0,553.4 L584.5,552.8 L586.0,552.4 L587.5,551.9 L589.0,551.6 L590.5,551.2 L592.0,551.0 L593.5,550.8 L595.0,550.6 L596.5,550.5 L598.0,550.3 L599.5,550.2 L601.0,550.1 L602.5,550.0 L604.0,550.0 L605.5,549.9 L607.0,549.9 L608.5,549.8 L610.0,549.8 L611.5,549.9 L613.0,550.1 L614.5,550.3 L616.0,550.6 L617.5,551.0 L619.0,551.5 L620.5,552.1 L622.0,552.8 L623.5,553.4 L625.0,554.2 L626.5,555.0 L628.0,555.8 L629.5,556.6 L631.0,557.5 L632.5,558.5 L634.0,559.4 L635.5,560.5 L637.0,561.6 L638.5,562.8 L640.0,564.1 L641.5,565.5 L643.0,567.0 L644.5,568.6 L646.0,570.4 L647.5,572.4 L649.0,574.6 L650.5,576.9 L652.0,579.4 L653.5,581.9 L655.0,584.4 L656.5,586.8 L658.0,589.2 L659.5,591.3 L661.0,593.3 L662.5,595.1 L664.0,596.7 L665.5,598.3 L667.0,599.7 L668.5,601.1 L670.0,602.3 L671.5,603.3 L673.0,604.1 L674.5,604.6 L676.0,604.8 L677.5,604.6 L679.0,603.9 L680.5,602.7 L682.0,601.1 L683.5,599.1 L685.0,596.8 L686.5,594.3 L688.0,591.5 L689.5,588.5 L691.0,585.1 L692.5,581.5 L694.0,577.8 L695.5,574.1 L697.0,570.4 L698.5,566.8 L700.0,563.2 L701.5,559.5 L703.0,556.0 L704.5,553.0 L706.0,550.8 L707.5,549.5 L709.0,549.0 L710.5,548.8 L712.0,548.8 L713.5,548.8 L715.0,548.8 L716.5,548.8 L718.0,548.8 L719.5,548.8 L721.0,548.9 L722.5,549.0 L724.0,549.2 L725.5,549.4 L727.0,549.7 L728.5,550.0 L730.0,550.3 L731.5,550.6 L733.0,550.8 L734.5,551.0 L736.0,551.0 L737.5,550.8 L739.0,550.2 L740.5,549.2 L742.0,547.8 L743.5,546.1 L745.0,544.1 L746.5,542.0 L748.0,539.9 L749.5,537.7 L751.0,535.6 L752.5,533.5 L754.0,531.3 L755.5,529.1 L757.0,526.8 L758.5,524.4 L760.0,522.1 L761.5,519.7 L763.0,517.2 L764.5,514.7 L766.0,512.2 L767.5,509.8 L769.0,507.5 L770.5,505.4 L772.0,503.5 L773.5,501.9 L775.0,500.3 L776.5,498.9 L778.0,497.5 L779.5,496.1 L781.0,494.7 L782.5,493.2 L784.0,491.7 L785.5,490.2 L787.0,488.7 L788.5,487.2 L790.0,485.6 L791.5,484.1 L793.0,482.5 L794.5,480.9 L796.0,479.4 L797.5,478.1 L799.0,477.0 L800.5,476.0 L802.0,475.2 L803.5,474.5 L805.0,474.0 L806.5,473.5 L808.0,473.0 L809.5,472.5 L811.0,472.1 L812.5,471.7 L814.0,471.4 L815.5,471.1 L817.0,470.8 L818.5,470.5 L820.0,470.2 L821.5,469.8 L823.0,469.3 L824.5,468.8 L826.0,468.2 L827.5,467.6 L829.0,466.9 L830.5,466.2 L832.0,465.5 L833.5,464.6 L835.0,463.7 L836.5,462.7 L838.0,461.6 L839.5,460.3 L841.0,458.8 L842.5,457.1 L844.0,455.2 L845.5,453.1 L847.0,450.9 L848.5,448.6 L850.0,446.4 L851.5,444.2 L853.0,442.2 L854.5,440.3 L856.0,438.7 L857.5,437.3 L859.0,436.1 L860.5,435.1 L862.0,434.2 L863.5,433.5 L865.0,432.8 L866.5,432.2 L868.0,431.7 L869.5,431.3 L871.0,430.9 L872.5,430.5 L874.0,430.1 L875.5,429.8 L877.0,429.5 L878.5,429.2 L880.0,428.9 L881.5,428.7 L883.0,428.5 L884.5,428.3 L886.0,428.1 L887.5,428.0 L889.0,427.9 L890.5,427.8 L892.0,427.8 L893.5,427.8 L895.0,427.9 L896.5,428.1 L898.0,428.5 L899.5,429.1 L901.0,429.8 L902.5,430.6 L904.0,431.5 L905.5,432.5 L907.0,433.7 L908.5,434.9 L910.0,436.1 L911.5,437.3 L913.0,438.4 L914.5,439.5 L916.0,440.4 L917.5,441.3 L919.0,442.2 L920.5,443.0 L922.0,443.7 L923.5,444.4 L925.0,444.9 L926.5,445.4 L928.0,445.6 L929.5,445.7 L931.0,445.7 L932.5,445.6 L934.0,445.5 L935.5,445.4 L937.0,445.2 L938.5,445.0 L940.0,444.7 L941.5,444.4 L943.0,444.0 L944.5,443.7 L946.0,443.2 L947.5,442.8 L949.0,442.2 L950.5,441.7 L952.0,441.0 L953.5,440.4 L955.0,439.6 L956.5,438.9 L958.0,438.1 L959.5,437.3 L961.0,436.5 L962.5,435.6 L964.0,434.8 L965.5,433.9 L967.0,433.1 L968.5,432.2 L970.0,431.2 L971.5,430.2 L973.0,429.1 L974.5,428.0 L976.0,426.8 L977.5,425.7 L979.0,424.6 L980.5,423.6 L982.0,422.7 L983.5,421.9 L985.0,421.3 L986.5,420.8 L988.0,420.5 L989.5,420.4 L991.0,420.3 L992.5,420.2 L994.0,420.1 L995.5,420.1 L997.0,420.0 L998.5,420.0 L1000.0,420.0 L1001.5,419.9 L1003.0,419.9 L1004.5,419.9 L1006.0,419.9 L1007.5,419.9 L1009.0,419.9 L1010.5,419.9 L1012.0,420.0 L1013.5,420.0 L1015.0,420.0 L1016.5,420.1 L1018.0,420.1 L1019.5,420.2 L1021.0,420.3 L1022.5,420.4 L1024.0,420.5 L1025.5,420.6 L1027.0,420.9 L1028.5,421.2 L1030.0,421.5 L1031.5,421.9 L1033.0,422.4 L1034.5,422.9 L1036.0,423.3 L1037.5,423.8 L1039.0,424.3 L1040.5,424.8 L1042.0,425.2 L1043.5,425.6 L1045.0,426.0 L1046.5,426.3 L1048.0,426.7 L1049.5,427.0 L1051.0,427.3 L1052.5,427.6 L1054.0,427.9 L1055.5,428.2 L1057.0,428.4 L1058.5,428.6 L1060.0,428.8 L1061.5,428.9 L1063.0,429.0 L1064.5,429.1 L1066.0,429.2 L1067.5,429.2 L1069.0,429.3 L1070.5,429.4 L1072.0,429.4 L1073.5,429.5 L1075.0,429.5 L1076.5,429.6 L1078.0,429.6 L1079.5,429.6 L1081.0,429.7 L1082.5,429.7 L1084.0,429.7 L1085.5,429.7 L1087.0,429.7 L1088.5,429.7 L1090.0,429.7 L1091.5,429.7 L1093.0,429.6 L1094.5,429.6 L1096.0,429.6 L1097.5,429.5 L1099.0,429.5 L1100.5,429.4 L1102.0,429.3 L1103.5,429.3 L1105.0,429.2 L1106.5,429.1 L1108.0,429.0 L1109.5,428.9 L1111.0,428.8 L1112.5,428.7 L1114.0,428.6 L1115.5,428.4 L1117.0,428.3 L1118.5,428.2 L1120.0,428.0 L1121.5,427.9 L1123.0,427.7 L1124.5,427.5 L1126.0,427.3 L1127.5,427.1 L1129.0,426.8 L1130.5,426.5 L1132.0,426.2 L1133.5,425.9 L1135.0,425.5 L1136.5,425.0 L1138.0,424.5 L1139.5,424.0 L1141.0,423.4 L1142.5,422.7 L1144.0,422.0 L1145.5,421.1 L1147.0,420.3 L1148.5,419.3 L1150.0,418.3 L1151.5,417.3 L1153.0,416.3 L1154.5,415.3 L1156.0,414.2 L1157.5,413.2 L1159.0,412.3 L1160.5,411.3 L1162.0,410.3 L1163.5,409.2 L1165.0,408.2 L1166.5,407.2 L1168.0,406.2 L1169.5,405.3 L1171.0,404.5 L1172.5,403.7 L1174.0,403.1 L1175.5,402.6 L1177.0,402.2 L1178.5,401.8 L1180.0,401.5 L1181.5,401.2 L1183.0,401.0 L1184.5,400.8 L1186.0,400.6 L1187.5,400.4 L1189.0,400.2 L1190.5,400.0 L1192.0,399.8 L1193.5,399.6 L1195.0,399.5 L1196.5,399.3 L1198.0,399.2 L1199.5,399.1 L1201.0,399.0 L1202.5,398.9 L1204.0,398.8 L1205.5,398.7 L1207.0,398.5 L1208.5,398.3 L1210.0,398.1 L1211.5,397.9 L1213.0,397.6 L1214.5,397.2 L1216.0,396.8 L1217.5,396.3 L1219.0,395.7 L1220.5,395.1 L1222.0,394.5 L1223.5,393.8 L1225.0,393.0 L1226.5,392.3 L1228.0,391.5 L1229.5,390.7 L1231.0,390.0 L1232.5,389.2 L1234.0,388.4 L1235.5,387.6 L1237.0,386.9 L1238.5,386.1 L1240.0,385.2 L1241.5,384.4 L1243.0,383.6 L1244.5,382.7 L1246.0,381.9 L1247.5,381.0 L1249.0,380.2 L1250.5,379.3 L1252.0,378.5 L1253.5,377.6 L1255.0,376.7 L1256.5,375.7 L1258.0,374.6 L1259.5,373.6 L1261.0,372.5 L1262.5,371.5 L1264.0,370.5 L1265.5,369.6 L1267.0,368.8 L1268.5,368.2 L1270.0,367.7 L1271.5,367.4 L1273.0,367.3 L1274.5,367.4 L1276.0,367.6 L1277.5,367.9 L1279.0,368.3 L1280.5,368.6 L1282.0,369.0 L1283.5,369.4 L1285.0,369.7 L1286.5,370.1 L1288.0,370.5 L1289.5,370.9 L1291.0,371.3 L1292.5,371.6 L1294.0,372.0 L1295.5,372.3 L1297.0,372.6 L1298.5,372.9 L1300.0,373.0 L1301.5,373.2 L1303.0,373.2 L1304.5,373.1 L1306.0,373.0 L1307.5,372.7 L1309.0,372.3 L1310.5,371.8 L1312.0,371.3 L1313.5,370.7 L1315.0,370.2 L1316.5,369.6 L1318.0,368.9 L1319.5,368.3 L1321.0,367.6 L1322.5,366.8 L1324.0,366.1 L1325.5,365.2 L1327.0,364.4 L1328.5,363.5 L1330.0,362.7 L1331.5,361.8 L1333.0,360.9 L1334.5,360.0 L1336.0,359.0 L1337.5,358.1 L1339.0,357.2 L1340.5,356.2 L1342.0,355.2 L1343.5,354.2 L1345.0,353.2 L1346.5,352.1 L1348.0,351.1 L1349.5,350.1 L1351.0,349.1 L1352.5,348.2 L1354.0,347.3 L1355.5,346.5 L1357.0,345.7 L1358.5,344.9 L1360.0,344.2 L1361.5,343.5 L1363.0,342.9 L1364.5,342.5 L1366.0,342.2 L1367.5,342.1 L1369.0,342.1 L1370.5,342.1 L1372.0,342.2 L1373.5,342.3 L1375.0,342.4 L1376.5,342.5 L1378.0,342.6 L1379.5,342.7 L1381.0,342.8 L1382.5,342.9 L1384.0,343.0 L1385.5,343.1 L1387.0,343.2 L1388.5,343.3 L1390.0,343.4 L1391.5,343.4 L1393.0,343.5 L1394.5,343.6 L1396.0,343.6 L1397.5,343.7 L1399.0,343.7 L1400.5,343.8 L1402.0,343.7 L1403.5,343.6 L1405.0,343.2 L1406.5,342.6 L1408.0,341.9 L1409.5,340.9 L1411.0,339.9 L1412.5,338.9 L1414.0,337.9 L1415.5,336.9 L1417.0,335.9 L1418.5,334.9 L1420.0,333.8 L1421.5,332.8 L1423.0,331.9 L1424.5,331.2 L1426.0,330.7 L1427.5,330.3 L1429.0,330.1 L1430.5,329.9 L1432.0,329.8 L1433.5,329.6 L1435.0,329.5 L1436.5,329.4 L1438.0,329.3 L1439.5,329.2 L1441.0,329.1 L1442.5,329.0 L1444.0,328.9 L1445.5,328.8 L1447.0,328.7 L1448.5,328.6 L1450.0,328.5 L1451.5,328.4 L1453.0,328.3 L1454.5,328.2 L1456.0,328.1 L1457.5,328.0 L1459.0,327.8 L1460.5,327.7 L1462.0,327.5 L1463.5,327.3 L1465.0,327.0 L1466.5,326.7 L1468.0,326.4 L1469.5,326.1 L1471.0,325.7 L1472.5,325.4 L1474.0,325.0 L1475.5,324.6 L1477.0,324.3 L1478.5,323.9 L1480.0,323.5 L1481.5,323.2 L1483.0,322.9 L1484.5,322.6 L1486.0,322.3 L1487.5,322.0 L1489.0,321.6 L1490.5,321.2 L1492.0,320.7 L1493.5,320.1 L1495.0,319.4 L1496.5,318.6 L1498.0,317.6 L1499.5,316.6 L1501.0,315.5 L1502.5,314.4 L1504.0,313.2 L1505.5,311.9 L1507.0,310.7 L1508.5,309.4 L1510.0,308.2 L1511.5,306.9 L1513.0,305.6 L1514.5,304.2 L1516.0,302.8 L1517.5,301.4 L1519.0,300.0 L1520.5,298.6 L1522.0,297.3 L1523.5,296.0 L1525.0,294.8 L1526.5,293.7 L1528.0,292.8 L1529.5,291.9 L1531.0,291.1 L1532.5,290.5 L1534.0,289.9 L1535.5,289.4 L1537.0,288.9 L1538.5,288.5 L1540.0,288.1 L1541.5,287.8 L1543.0,287.4 L1544.5,287.1 L1546.0,286.7 L1547.5,286.3 L1549.0,285.9 L1550.5,285.5 L1552.0,285.0 L1553.5,284.5 L1555.0,283.9 L1556.5,283.4 L1558.0,282.9 L1559.5,282.4 L1561.0,281.8 L1562.5,281.3 L1564.0,280.7 L1565.5,280.2 L1567.0,279.6 L1568.5,279.1 L1570.0,278.5 L1571.5,278.0 L1573.0,277.4 L1574.5,276.9 L1576.0,276.3 L1577.5,275.7 L1579.0,275.2 L1580.5,274.6 L1582.0,274.0 L1583.5,273.4 L1585.0,272.9 L1586.5,272.3 L1588.0,271.8 L1589.5,271.3 L1591.0,270.7 L1592.5,270.2 L1594.0,269.7 L1595.5,269.1 L1597.0,268.6 L1598.5,268.0 L1600.0,267.5 L1601.5,266.9 L1603.0,266.3 L1604.5,265.7 L1606.0,265.1 L1607.5,264.4 L1609.0,263.7 L1610.5,263.0 L1612.0,262.2 L1613.5,261.4 L1615.0,260.6 L1616.5,259.7 L1618.0,258.8 L1619.5,257.8 L1621.0,256.8 L1622.5,255.7 L1624.0,254.6 L1625.5,253.5 L1627.0,252.5 L1628.5,251.4 L1630.0,250.4 L1631.5,249.4 L1633.0,248.4 L1634.5,247.5 L1636.0,246.5 L1637.5,245.6 L1639.0,244.6 L1640.5,243.7 L1642.0,242.9 L1643.5,242.2 L1645.0,241.5 L1646.5,241.0 L1648.0,240.7 L1649.5,240.5 L1651.0,240.3 L1652.5,240.2 L1654.0,240.2 L1655.5,240.1 L1657.0,240.0 L1658.5,240.0 L1660.0,239.9 L1661.5,239.9 L1663.0,239.9 L1664.5,239.8 L1666.0,239.8 L1667.5,239.8 L1669.0,239.8 L1670.5,239.8 L1672.0,239.8 L1673.5,239.8 L1675.0,239.8 L1676.5,239.8 L1678.0,239.8 L1679.5,239.8 L1681.0,239.8 L1682.5,239.8 L1684.0,239.7 L1685.5,239.4 L1687.0,238.9 L1688.5,238.2 L1690.0,237.3 L1691.5,236.2 L1693.0,235.0 L1694.5,233.8 L1696.0,232.6 L1697.5,231.4 L1699.0,230.2 L1700.5,228.9 L1702.0,227.5 L1703.5,226.2 L1705.0,224.9 L1706.5,223.8 L1708.0,223.0 L1709.5,222.4 L1711.0,222.1 L1712.5,222.0 L1714.0,221.9 L1715.5,222.0 L1717.0,222.0 L1718.5,222.1 L1720.0,222.1 L1721.5,222.2 L1723.0,222.3 L1724.5,222.4 L1726.0,222.4 L1727.5,222.5 L1729.0,222.6 L1730.5,222.8 L1732.0,222.9 L1733.5,223.1 L1735.0,223.2 L1736.5,223.4 L1738.0,223.5 L1739.5,223.7 L1741.0,223.8 L1742.5,223.9 L1744.0,223.9 L1745.5,223.9 L1747.0,223.8 L1748.5,223.5 L1750.0,223.1 L1751.5,222.6 L1753.0,222.0 L1754.5,221.4 L1756.0,220.7 L1757.5,220.0 L1759.0,219.2 L1760.5,218.3 L1762.0,217.4 L1763.5,216.4 L1765.0,215.3 L1766.5,214.2 L1768.0,213.1 L1769.5,212.0 L1771.0,210.8 L1772.5,209.6 L1774.0,208.5 L1775.5,207.4 L1777.0,206.4 L1778.5,205.4 L1780.0,204.3 L1781.5,203.3 L1783.0,202.3 L1784.5,201.4 L1786.0,200.4 L1787.5,199.4 L1789.0,198.4 L1790.5,197.5 L1792.0,196.7 L1793.5,195.8 L1795.0,195.0 L1796.5,194.3 L1798.0,193.6 L1799.5,193.0 L1801.0,192.4 L1802.5,191.9 L1804.0,191.3 L1805.5,190.9 L1807.0,190.5 L1808.5,190.3 L1810.0,190.2 L1811.5,190.4 L1813.0,190.8 L1814.5,191.5 L1816.0,192.4 L1817.5,193.6 L1819.0,194.9 L1820.5,196.2 L1822.0,197.7 L1823.5,199.3 L1825.0,201.1 L1826.5,203.0 L1828.0,204.9 L1829.5,206.7 L1831.0,208.4 L1832.5,210.0 L1834.0,211.4 L1835.5,212.7 L1837.0,213.9 L1838.5,215.0 L1840.0,216.0 L1841.5,216.8 L1843.0,217.3 L1844.5,217.6 L1846.0,217.7 L1847.5,217.6 L1849.0,217.3 L1850.5,216.9 L1852.0,216.5 L1853.5,216.0 L1855.0,215.4 L1856.5,214.9 L1858.0,214.4 L1859.5,214.0 L1861.0,213.6 L1862.5,213.2 L1864.0,212.8 L1865.5,212.4 L1867.0,212.1 L1868.5,211.9 L1870.0,211.8 L1871.5,211.8 L1873.0,211.9 L1874.5,212.1 L1876.0,212.4 L1877.5,212.7 L1879.0,213.1 L1880.5,213.5 L1882.0,213.9 L1883.5,214.4 L1885.0,214.8 L1886.5,215.2 L1888.0,215.6 L1889.5,216.0 L1891.0,216.4 L1892.5,216.9 L1894.0,217.4 L1895.5,217.9 L1897.0,218.3 L1898.5,218.7 L1900.0,219.0 L1901.5,219.2 L1903.0,219.3 L1904.5,219.2 L1906.0,218.9 L1907.5,218.4 L1909.0,217.6 L1910.5,216.7 L1912.0,215.6 L1913.5,214.5 L1915.0,213.3 L1916.5,212.2 L1918.0,211.1 L1919.5,209.9 L1921.0,208.6 L1922.5,207.2 L1924.0,205.8 L1925.5,204.4 L1927.0,203.1 L1928.5,201.8 L1930.0,200.6 L1931.5,199.7 L1933.0,198.9 L1934.5,198.3 L1936.0,197.9 L1937.5,197.7 L1939.0,197.5 L1940.5,197.4 L1942.0,197.3 L1943.5,197.2 L1945.0,197.1 L1946.5,197.0 L1948.0,197.0 L1949.5,196.9 L1951.0,196.8 L1952.5,196.8 L1954.0,196.7 L1955.5,196.6 L1957.0,196.5 L1958.5,196.4 L1960.0,196.3 L1961.5,196.1 L1963.0,195.9 L1964.5,195.7 L1966.0,195.5 L1967.5,195.2 L1969.0,194.9 L1970.5,194.6 L1972.0,194.3 L1973.5,193.9 L1975.0,193.6 L1976.5,193.2 L1978.0,192.9 L1979.5,192.5 L1981.0,192.2 L1982.5,191.8 L1984.0,191.5 L1985.5,191.2 L1987.0,191.0 L1988.5,190.7 L1990.0,190.5 L1991.5,190.3 L1993.0,190.2 L1994.5,190.1 L1996.0,190.1 L1997.5,190.1 L1999.0,190.3 L2000.5,190.5 L2002.0,190.9 L2003.5,191.3 L2005.0,191.8 L2006.5,192.3 L2008.0,192.8 L2009.5,193.4 L2011.0,194.0 L2012.5,194.5 L2014.0,195.0 L2015.5,195.5 L2017.0,195.9 L2018.5,196.2 L2020.0,196.6 L2021.5,196.8 L2023.0,197.1 L2024.5,197.3 L2026.0,197.6 L2027.5,197.8 L2029.0,197.9 L2030.5,198.0 L2032.0,198.0 L2033.5,198.0 L2035.0,197.9 L2036.5,197.8 L2038.0,197.6 L2039.5,197.3 L2041.0,197.0 L2042.5,196.7 L2044.0,196.3 L2045.5,195.9 L2047.0,195.5 L2048.5,195.1 L2050.0,194.7 L2051.5,194.3 L2053.0,193.8 L2054.5,193.5 L2056.0,193.1 L2057.5,192.7 L2059.0,192.3 L2060.5,191.8 L2062.0,191.4 L2063.5,191.0 L2065.0,190.5 L2066.5,190.1 L2068.0,189.6 L2069.5,189.2 L2071.0,188.7 L2072.5,188.3 L2074.0,187.8 L2075.5,187.3 L2077.0,186.9 L2078.5,186.4 L2080.0,185.9 L2081.5,185.4 L2083.0,184.9 L2084.5,184.3 L2086.0,183.8 L2087.5,183.3 L2089.0,182.8 L2090.5,182.4 L2092.0,181.9 L2093.5,181.5 L2095.0,181.1 L2096.5,180.8 L2098.0,180.5 L2099.5,180.2 L2101.0,180.0 L2102.5,179.8 L2104.0,179.6 L2105.5,179.4 L2107.0,179.3 L2108.5,179.1 L2110.0,178.9 L2111.5,178.8 L2113.0,178.6 L2114.5,178.5 L2116.0,178.3 L2117.5,178.1 L2119.0,178.0 L2120.5,177.9 L2122.0,177.7 L2123.5,177.6 L2125.0,177.5 L2126.5,177.3 L2128.0,177.2" fill="none" stroke="#0b8db7" stroke-width="2.4" stroke-dasharray="12 4"/><path d="M142.0,681.0 L143.5,677.0 L145.0,673.2 L146.5,669.5 L148.0,666.0 L149.5,662.8 L151.0,659.9 L152.5,657.4 L154.0,655.1 L155.5,653.1 L157.0,651.3 L158.5,649.6 L160.0,648.2 L161.5,646.9 L163.0,645.9 L164.5,645.0 L166.0,644.4 L167.5,644.0 L169.0,643.8 L170.5,643.8 L172.0,644.0 L173.5,644.2 L175.0,644.4 L176.5,644.7 L178.0,645.1 L179.5,645.5 L181.0,645.9 L182.5,646.3 L184.0,646.8 L185.5,647.2 L187.0,647.6 L188.5,648.1 L190.0,648.6 L191.5,649.1 L193.0,649.7 L194.5,650.3 L196.0,650.8 L197.5,651.1 L199.0,651.4 L200.5,651.4 L202.0,651.0 L203.5,650.2 L205.0,649.0 L206.5,647.6 L208.0,645.9 L209.5,643.9 L211.0,641.7 L212.5,639.3 L214.0,636.7 L215.5,634.0 L217.0,631.1 L218.5,628.2 L220.0,625.0 L221.5,621.9 L223.0,618.8 L224.5,615.9 L226.0,613.4 L227.5,611.3 L229.0,609.6 L230.5,608.2 L232.0,607.2 L233.5,606.6 L235.0,606.4 L236.5,606.3 L238.0,606.4 L239.5,606.5 L241.0,606.7 L242.5,606.9 L244.0,607.1 L245.5,607.2 L247.0,607.4 L248.5,607.6 L250.0,607.8 L251.5,608.0 L253.0,608.2 L254.5,608.4 L256.0,608.6 L257.5,608.8 L259.0,609.0 L260.5,609.1 L262.0,609.3 L263.5,609.3 L265.0,609.4 L266.5,609.4 L268.0,609.4 L269.5,609.4 L271.0,609.4 L272.5,609.4 L274.0,609.4 L275.5,609.4 L277.0,609.4 L278.5,609.4 L280.0,609.4 L281.5,609.4 L283.0,609.4 L284.5,609.4 L286.0,609.4 L287.5,609.4 L289.0,609.4 L290.5,609.4 L292.0,609.4 L293.5,609.4 L295.0,609.4 L296.5,609.4 L298.0,609.2 L299.5,609.0 L301.0,608.5 L302.5,607.9 L304.0,607.1 L305.5,606.1 L307.0,605.1 L308.5,604.0 L310.0,602.9 L311.5,601.9 L313.0,600.8 L314.5,599.8 L316.0,598.7 L317.5,597.7 L319.0,596.5 L320.5,595.4 L322.0,594.3 L323.5,593.1 L325.0,592.0 L326.5,590.9 L328.0,589.8 L329.5,588.7 L331.0,587.6 L332.5,586.4 L334.0,585.3 L335.5,584.1 L337.0,582.9 L338.5,581.7 L340.0,580.5 L341.5,579.4 L343.0,578.2 L344.5,577.2 L346.0,576.2 L347.5,575.3 L349.0,574.4 L350.5,573.7 L352.0,573.2 L353.5,572.7 L355.0,572.4 L356.5,572.2 L358.0,572.0 L359.5,572.0 L361.0,571.9 L362.5,572.0 L364.0,572.1 L365.5,572.2 L367.0,572.3 L368.5,572.5 L370.0,572.8 L371.5,573.0 L373.0,573.3 L374.5,573.5 L376.0,573.8 L377.5,574.1 L379.0,574.4 L380.5,574.6 L382.0,574.9 L383.5,575.1 L385.0,575.3 L386.5,575.5 L388.0,575.6 L389.5,575.7 L391.0,575.7 L392.5,575.6 L394.0,575.4 L395.5,575.1 L397.0,574.7 L398.5,574.2 L400.0,573.6 L401.5,573.0 L403.0,572.4 L404.5,571.9 L406.0,571.3 L407.5,570.8 L409.0,570.3 L410.5,569.8 L412.0,569.2 L413.5,568.7 L415.0,568.2 L416.5,567.7 L418.0,567.2 L419.5,566.9 L421.0,566.6 L422.5,566.4 L424.0,566.3 L425.5,566.4 L427.0,566.6 L428.5,567.0 L430.0,567.5 L431.5,568.0 L433.0,568.7 L434.5,569.6 L436.0,570.6 L437.5,571.7 L439.0,573.0 L440.5,574.3 L442.0,575.8 L443.5,577.3 L445.0,578.8 L446.5,580.4 L448.0,582.0 L449.5,583.6 L451.0,585.2 L452.5,586.7 L454.0,588.2 L455.5,589.6 L457.0,591.0 L458.5,592.3 L460.0,593.6 L461.5,594.9 L463.0,596.2 L464.5,597.5 L466.0,598.8 L467.5,600.1 L469.0,601.4 L470.5,602.8 L472.0,604.1 L473.5,605.6 L475.0,607.0 L476.5,608.6 L478.0,610.2 L479.5,611.8 L481.0,613.6 L482.5,615.4 L484.0,617.4 L485.5,619.4 L487.0,621.5 L488.5,623.6 L490.0,625.8 L491.5,627.8 L493.0,629.9 L494.5,631.8 L496.0,633.7 L497.5,635.4 L499.0,637.0 L500.5,638.5 L502.0,640.0 L503.5,641.4 L505.0,642.7 L506.5,644.0 L508.0,645.1 L509.5,646.2 L511.0,647.0 L512.5,647.7 L514.0,648.2 L515.5,648.5 L517.0,648.5 L518.5,648.2 L520.0,647.7 L521.5,646.9 L523.0,645.9 L524.5,644.8 L526.0,643.6 L527.5,642.3 L529.0,641.0 L530.5,639.7 L532.0,638.4 L533.5,637.0 L535.0,635.6 L536.5,634.1 L538.0,632.6 L539.5,631.1 L541.0,629.6 L542.5,628.2 L544.0,626.8 L545.5,625.4 L547.0,623.9 L548.5,622.5 L550.0,621.1 L551.5,619.7 L553.0,618.2 L554.5,616.8 L556.0,615.5 L557.5,614.1 L559.0,612.8 L560.5,611.5 L562.0,610.3 L563.5,609.1 L565.0,607.9 L566.5,606.9 L568.0,605.9 L569.5,604.9 L571.0,604.1 L572.5,603.4 L574.0,602.7 L575.5,602.1 L577.0,601.5 L578.5,601.0 L580.0,600.5 L581.5,600.1 L583.0,599.7 L584.5,599.3 L586.0,599.0 L587.5,598.7 L589.0,598.5 L590.5,598.3 L592.0,598.2 L593.5,598.0 L595.0,598.0 L596.5,597.9 L598.0,597.9 L599.5,597.9 L601.0,597.9 L602.5,598.0 L604.0,598.0 L605.5,598.1 L607.0,598.1 L608.5,598.2 L610.0,598.3 L611.5,598.3 L613.0,598.5 L614.5,598.7 L616.0,599.0 L617.5,599.5 L619.0,600.2 L620.5,601.1 L622.0,602.1 L623.5,603.2 L625.0,604.5 L626.5,605.8 L628.0,607.1 L629.5,608.5 L631.0,609.9 L632.5,611.3 L634.0,612.7 L635.5,614.1 L637.0,615.5 L638.5,617.0 L640.0,618.6 L641.5,620.3 L643.0,622.2 L644.5,624.2 L646.0,626.5 L647.5,629.0 L649.0,631.9 L650.5,635.0 L652.0,638.3 L653.5,641.7 L655.0,645.1 L656.5,648.5 L658.0,651.7 L659.5,654.7 L661.0,657.4 L662.5,660.0 L664.0,662.5 L665.5,664.8 L667.0,667.1 L668.5,669.1 L670.0,670.9 L671.5,672.5 L673.0,673.7 L674.5,674.5 L676.0,674.9 L677.5,674.7 L679.0,674.0 L680.5,672.8 L682.0,671.0 L683.5,668.9 L685.0,666.4 L686.5,663.6 L688.0,660.4 L689.5,656.9 L691.0,653.0 L692.5,648.7 L694.0,644.4 L695.5,640.2 L697.0,636.1 L698.5,632.4 L700.0,628.9 L701.5,625.6 L703.0,622.5 L704.5,619.7 L706.0,617.4 L707.5,615.8 L709.0,614.9 L710.5,614.6 L712.0,614.8 L713.5,615.3 L715.0,615.9 L716.5,616.5 L718.0,617.2 L719.5,617.8 L721.0,618.3 L722.5,618.8 L724.0,619.2 L725.5,619.6 L727.0,620.0 L728.5,620.4 L730.0,620.7 L731.5,620.9 L733.0,621.0 L734.5,621.0 L736.0,620.7 L737.5,620.2 L739.0,619.3 L740.5,618.2 L742.0,616.8 L743.5,615.3 L745.0,613.6 L746.5,611.7 L748.0,609.8 L749.5,607.8 L751.0,605.6 L752.5,603.4 L754.0,600.9 L755.5,598.3 L757.0,595.4 L758.5,592.5 L760.0,589.5 L761.5,586.5 L763.0,583.4 L764.5,580.5 L766.0,577.6 L767.5,574.9 L769.0,572.3 L770.5,569.8 L772.0,567.5 L773.5,565.3 L775.0,563.2 L776.5,561.1 L778.0,559.1 L779.5,557.1 L781.0,555.2 L782.5,553.4 L784.0,551.7 L785.5,550.0 L787.0,548.3 L788.5,546.7 L790.0,545.2 L791.5,543.8 L793.0,542.4 L794.5,541.0 L796.0,539.7 L797.5,538.5 L799.0,537.4 L800.5,536.3 L802.0,535.2 L803.5,534.2 L805.0,533.3 L806.5,532.4 L808.0,531.6 L809.5,530.8 L811.0,530.1 L812.5,529.5 L814.0,529.0 L815.5,528.6 L817.0,528.3 L818.5,528.0 L820.0,527.8 L821.5,527.5 L823.0,527.3 L824.5,527.1 L826.0,526.8 L827.5,526.4 L829.0,526.0 L830.5,525.4 L832.0,524.7 L833.5,523.9 L835.0,522.8 L836.5,521.7 L838.0,520.3 L839.5,518.8 L841.0,517.2 L842.5,515.4 L844.0,513.5 L845.5,511.3 L847.0,508.9 L848.5,506.2 L850.0,503.2 L851.5,500.1 L853.0,496.9 L854.5,494.0 L856.0,491.4 L857.5,489.2 L859.0,487.5 L860.5,486.2 L862.0,485.2 L863.5,484.3 L865.0,483.6 L866.5,483.0 L868.0,482.4 L869.5,481.9 L871.0,481.5 L872.5,481.2 L874.0,480.8 L875.5,480.6 L877.0,480.3 L878.5,480.1 L880.0,479.9 L881.5,479.7 L883.0,479.5 L884.5,479.3 L886.0,479.2 L887.5,479.1 L889.0,479.0 L890.5,478.9 L892.0,478.8 L893.5,478.8 L895.0,478.8 L896.5,478.8 L898.0,479.1 L899.5,479.7 L901.0,480.7 L902.5,482.0 L904.0,483.5 L905.5,485.2 L907.0,486.9 L908.5,488.5 L910.0,490.1 L911.5,491.6 L913.0,493.1 L914.5,494.7 L916.0,496.3 L917.5,497.9 L919.0,499.3 L920.5,500.6 L922.0,501.6 L923.5,502.3 L925.0,502.7 L926.5,502.9 L928.0,502.9 L929.5,502.9 L931.0,502.9 L932.5,502.8 L934.0,502.7 L935.5,502.6 L937.0,502.4 L938.5,502.3 L940.0,502.1 L941.5,501.9 L943.0,501.7 L944.5,501.4 L946.0,501.1 L947.5,500.8 L949.0,500.4 L950.5,499.9 L952.0,499.4 L953.5,498.9 L955.0,498.3 L956.5,497.7 L958.0,497.0 L959.5,496.3 L961.0,495.6 L962.5,494.8 L964.0,493.9 L965.5,493.0 L967.0,492.0 L968.5,491.0 L970.0,489.8 L971.5,488.7 L973.0,487.5 L974.5,486.3 L976.0,485.2 L977.5,484.1 L979.0,483.1 L980.5,482.1 L982.0,481.1 L983.5,480.1 L985.0,479.2 L986.5,478.3 L988.0,477.6 L989.5,477.0 L991.0,476.6 L992.5,476.4 L994.0,476.3 L995.5,476.2 L997.0,476.1 L998.5,476.0 L1000.0,476.0 L1001.5,475.9 L1003.0,475.9 L1004.5,475.8 L1006.0,475.8 L1007.5,475.8 L1009.0,475.8 L1010.5,475.8 L1012.0,475.8 L1013.5,475.9 L1015.0,475.9 L1016.5,476.0 L1018.0,476.0 L1019.5,476.1 L1021.0,476.2 L1022.5,476.3 L1024.0,476.5 L1025.5,476.8 L1027.0,477.2 L1028.5,477.8 L1030.0,478.5 L1031.5,479.3 L1033.0,480.2 L1034.5,481.2 L1036.0,482.2 L1037.5,483.1 L1039.0,484.1 L1040.5,485.0 L1042.0,485.8 L1043.5,486.5 L1045.0,487.2 L1046.5,487.8 L1048.0,488.4 L1049.5,488.9 L1051.0,489.4 L1052.5,489.9 L1054.0,490.4 L1055.5,490.8 L1057.0,491.2 L1058.5,491.5 L1060.0,491.8 L1061.5,492.0 L1063.0,492.2 L1064.5,492.4 L1066.0,492.6 L1067.5,492.7 L1069.0,492.9 L1070.5,493.0 L1072.0,493.1 L1073.5,493.2 L1075.0,493.3 L1076.5,493.4 L1078.0,493.5 L1079.5,493.5 L1081.0,493.6 L1082.5,493.6 L1084.0,493.7 L1085.5,493.7 L1087.0,493.7 L1088.5,493.7 L1090.0,493.7 L1091.5,493.7 L1093.0,493.7 L1094.5,493.7 L1096.0,493.8 L1097.5,493.8 L1099.0,493.8 L1100.5,493.8 L1102.0,493.8 L1103.5,493.8 L1105.0,493.8 L1106.5,493.8 L1108.0,493.8 L1109.5,493.8 L1111.0,493.8 L1112.5,493.8 L1114.0,493.8 L1115.5,493.8 L1117.0,493.8 L1118.5,493.7 L1120.0,493.7 L1121.5,493.6 L1123.0,493.4 L1124.5,493.2 L1126.0,493.0 L1127.5,492.7 L1129.0,492.4 L1130.5,492.0 L1132.0,491.6 L1133.5,491.1 L1135.0,490.6 L1136.5,490.1 L1138.0,489.5 L1139.5,488.9 L1141.0,488.2 L1142.5,487.4 L1144.0,486.6 L1145.5,485.6 L1147.0,484.6 L1148.5,483.5 L1150.0,482.3 L1151.5,481.0 L1153.0,479.7 L1154.5,478.4 L1156.0,477.1 L1157.5,475.9 L1159.0,474.6 L1160.5,473.3 L1162.0,471.9 L1163.5,470.4 L1165.0,469.0 L1166.5,467.6 L1168.0,466.3 L1169.5,465.2 L1171.0,464.3 L1172.5,463.6 L1174.0,463.0 L1175.5,462.7 L1177.0,462.4 L1178.5,462.1 L1180.0,461.9 L1181.5,461.8 L1183.0,461.6 L1184.5,461.5 L1186.0,461.4 L1187.5,461.2 L1189.0,461.1 L1190.5,461.0 L1192.0,460.9 L1193.5,460.7 L1195.0,460.6 L1196.5,460.5 L1198.0,460.5 L1199.5,460.4 L1201.0,460.3 L1202.5,460.3 L1204.0,460.2 L1205.5,460.1 L1207.0,460.0 L1208.5,459.9 L1210.0,459.8 L1211.5,459.7 L1213.0,459.5 L1214.5,459.2 L1216.0,458.9 L1217.5,458.5 L1219.0,458.0 L1220.5,457.5 L1222.0,456.9 L1223.5,456.2 L1225.0,455.5 L1226.5,454.8 L1228.0,454.0 L1229.5,453.2 L1231.0,452.5 L1232.5,451.7 L1234.0,450.9 L1235.5,450.1 L1237.0,449.3 L1238.5,448.5 L1240.0,447.8 L1241.5,447.0 L1243.0,446.1 L1244.5,445.3 L1246.0,444.4 L1247.5,443.6 L1249.0,442.7 L1250.5,441.8 L1252.0,440.9 L1253.5,440.1 L1255.0,439.2 L1256.5,438.4 L1258.0,437.7 L1259.5,437.0 L1261.0,436.3 L1262.5,435.7 L1264.0,435.0 L1265.5,434.4 L1267.0,433.8 L1268.5,433.2 L1270.0,432.7 L1271.5,432.2 L1273.0,431.9 L1274.5,431.7 L1276.0,431.6 L1277.5,431.7 L1279.0,431.9 L1280.5,432.4 L1282.0,433.0 L1283.5,433.8 L1285.0,434.6 L1286.5,435.4 L1288.0,436.2 L1289.5,436.9 L1291.0,437.6 L1292.5,438.3 L1294.0,439.0 L1295.5,439.7 L1297.0,440.3 L1298.5,440.9 L1300.0,441.4 L1301.5,441.7 L1303.0,441.9 L1304.5,442.0 L1306.0,441.9 L1307.5,441.7 L1309.0,441.4 L1310.5,441.1 L1312.0,440.7 L1313.5,440.2 L1315.0,439.8 L1316.5,439.3 L1318.0,438.7 L1319.5,438.1 L1321.0,437.4 L1322.5,436.7 L1324.0,435.9 L1325.5,435.1 L1327.0,434.2 L1328.5,433.3 L1330.0,432.4 L1331.5,431.5 L1333.0,430.5 L1334.5,429.5 L1336.0,428.5 L1337.5,427.5 L1339.0,426.5 L1340.5,425.5 L1342.0,424.5 L1343.5,423.5 L1345.0,422.5 L1346.5,421.4 L1348.0,420.3 L1349.5,419.2 L1351.0,418.1 L1352.5,417.1 L1354.0,416.1 L1355.5,415.2 L1357.0,414.3 L1358.5,413.5 L1360.0,412.6 L1361.5,411.8 L1363.0,411.1 L1364.5,410.5 L1366.0,410.0 L1367.5,409.8 L1369.0,409.6 L1370.5,409.7 L1372.0,409.8 L1373.5,410.1 L1375.0,410.4 L1376.5,410.7 L1378.0,411.1 L1379.5,411.6 L1381.0,412.0 L1382.5,412.4 L1384.0,412.8 L1385.5,413.3 L1387.0,413.7 L1388.5,414.2 L1390.0,414.7 L1391.5,415.3 L1393.0,415.8 L1394.5,416.3 L1396.0,416.7 L1397.5,417.1 L1399.0,417.3 L1400.5,417.4 L1402.0,417.4 L1403.5,417.1 L1405.0,416.7 L1406.5,416.1 L1408.0,415.3 L1409.5,414.5 L1411.0,413.7 L1412.5,412.9 L1414.0,412.1 L1415.5,411.3 L1417.0,410.5 L1418.5,409.6 L1420.0,408.8 L1421.5,407.9 L1423.0,407.1 L1424.5,406.5 L1426.0,406.0 L1427.5,405.7 L1429.0,405.6 L1430.5,405.6 L1432.0,405.6 L1433.5,405.7 L1435.0,405.8 L1436.5,405.9 L1438.0,406.1 L1439.5,406.2 L1441.0,406.3 L1442.5,406.5 L1444.0,406.6 L1445.5,406.7 L1447.0,406.8 L1448.5,406.9 L1450.0,407.0 L1451.5,407.1 L1453.0,407.2 L1454.5,407.3 L1456.0,407.4 L1457.5,407.5 L1459.0,407.6 L1460.5,407.6 L1462.0,407.7 L1463.5,407.7 L1465.0,407.7 L1466.5,407.6 L1468.0,407.6 L1469.5,407.5 L1471.0,407.4 L1472.5,407.2 L1474.0,407.0 L1475.5,406.8 L1477.0,406.5 L1478.5,406.2 L1480.0,405.9 L1481.5,405.6 L1483.0,405.2 L1484.5,404.9 L1486.0,404.5 L1487.5,404.2 L1489.0,403.7 L1490.5,403.2 L1492.0,402.7 L1493.5,402.0 L1495.0,401.3 L1496.5,400.4 L1498.0,399.4 L1499.5,398.2 L1501.0,396.9 L1502.5,395.3 L1504.0,393.7 L1505.5,391.9 L1507.0,390.2 L1508.5,388.4 L1510.0,386.8 L1511.5,385.2 L1513.0,383.6 L1514.5,382.1 L1516.0,380.5 L1517.5,379.0 L1519.0,377.5 L1520.5,376.2 L1522.0,374.9 L1523.5,373.8 L1525.0,372.8 L1526.5,372.1 L1528.0,371.4 L1529.5,370.9 L1531.0,370.4 L1532.5,370.1 L1534.0,369.7 L1535.5,369.4 L1537.0,369.1 L1538.5,368.9 L1540.0,368.7 L1541.5,368.5 L1543.0,368.3 L1544.5,368.1 L1546.0,367.9 L1547.5,367.7 L1549.0,367.4 L1550.5,367.2 L1552.0,366.9 L1553.5,366.6 L1555.0,366.3 L1556.5,366.0 L1558.0,365.8 L1559.5,365.5 L1561.0,365.2 L1562.5,364.9 L1564.0,364.7 L1565.5,364.4 L1567.0,364.1 L1568.5,363.8 L1570.0,363.5 L1571.5,363.2 L1573.0,362.8 L1574.5,362.5 L1576.0,362.1 L1577.5,361.8 L1579.0,361.4 L1580.5,360.9 L1582.0,360.5 L1583.5,360.0 L1585.0,359.6 L1586.5,359.1 L1588.0,358.6 L1589.5,358.1 L1591.0,357.6 L1592.5,357.1 L1594.0,356.6 L1595.5,356.0 L1597.0,355.5 L1598.5,354.9 L1600.0,354.3 L1601.5,353.7 L1603.0,353.1 L1604.5,352.4 L1606.0,351.8 L1607.5,351.1 L1609.0,350.3 L1610.5,349.6 L1612.0,348.8 L1613.5,348.0 L1615.0,347.1 L1616.5,346.2 L1618.0,345.2 L1619.5,344.2 L1621.0,343.1 L1622.5,342.0 L1624.0,340.8 L1625.5,339.6 L1627.0,338.4 L1628.5,337.1 L1630.0,335.9 L1631.5,334.8 L1633.0,333.7 L1634.5,332.7 L1636.0,331.7 L1637.5,330.8 L1639.0,330.1 L1640.5,329.4 L1642.0,328.7 L1643.5,328.1 L1645.0,327.6 L1646.5,327.1 L1648.0,326.7 L1649.5,326.4 L1651.0,326.1 L1652.5,326.0 L1654.0,326.0 L1655.5,326.1 L1657.0,326.3 L1658.5,326.7 L1660.0,327.0 L1661.5,327.5 L1663.0,328.0 L1664.5,328.5 L1666.0,329.0 L1667.5,329.5 L1669.0,330.0 L1670.5,330.4 L1672.0,330.8 L1673.5,331.2 L1675.0,331.6 L1676.5,332.0 L1678.0,332.4 L1679.5,332.8 L1681.0,333.2 L1682.5,333.4 L1684.0,333.6 L1685.5,333.7 L1687.0,333.5 L1688.5,333.1 L1690.0,332.3 L1691.5,331.2 L1693.0,330.0 L1694.5,328.7 L1696.0,327.4 L1697.5,326.1 L1699.0,324.8 L1700.5,323.4 L1702.0,322.0 L1703.5,320.6 L1705.0,319.3 L1706.5,318.2 L1708.0,317.3 L1709.5,316.7 L1711.0,316.4 L1712.5,316.3 L1714.0,316.3 L1715.5,316.3 L1717.0,316.4 L1718.5,316.4 L1720.0,316.5 L1721.5,316.7 L1723.0,316.8 L1724.5,317.0 L1726.0,317.2 L1727.5,317.4 L1729.0,317.8 L1730.5,318.2 L1732.0,318.6 L1733.5,319.0 L1735.0,319.5 L1736.5,320.0 L1738.0,320.4 L1739.5,320.8 L1741.0,321.1 L1742.5,321.4 L1744.0,321.5 L1745.5,321.5 L1747.0,321.3 L1748.5,320.9 L1750.0,320.2 L1751.5,319.3 L1753.0,318.3 L1754.5,317.2 L1756.0,316.0 L1757.5,314.8 L1759.0,313.6 L1760.5,312.5 L1762.0,311.4 L1763.5,310.4 L1765.0,309.3 L1766.5,308.3 L1768.0,307.2 L1769.5,306.1 L1771.0,305.1 L1772.5,304.0 L1774.0,303.0 L1775.5,302.0 L1777.0,301.0 L1778.5,300.1 L1780.0,299.2 L1781.5,298.3 L1783.0,297.4 L1784.5,296.5 L1786.0,295.7 L1787.5,294.9 L1789.0,294.1 L1790.5,293.4 L1792.0,292.7 L1793.5,292.0 L1795.0,291.4 L1796.5,290.8 L1798.0,290.3 L1799.5,289.8 L1801.0,289.4 L1802.5,289.0 L1804.0,288.7 L1805.5,288.4 L1807.0,288.1 L1808.5,287.9 L1810.0,287.9 L1811.5,287.9 L1813.0,288.3 L1814.5,288.9 L1816.0,289.9 L1817.5,291.3 L1819.0,293.0 L1820.5,294.8 L1822.0,296.9 L1823.5,299.2 L1825.0,301.7 L1826.5,304.4 L1828.0,307.0 L1829.5,309.7 L1831.0,312.2 L1832.5,314.6 L1834.0,316.9 L1835.5,319.0 L1837.0,320.8 L1838.5,322.4 L1840.0,323.6 L1841.5,324.6 L1843.0,325.2 L1844.5,325.5 L1846.0,325.6 L1847.5,325.5 L1849.0,325.4 L1850.5,325.3 L1852.0,325.1 L1853.5,325.0 L1855.0,324.8 L1856.5,324.7 L1858.0,324.6 L1859.5,324.4 L1861.0,324.3 L1862.5,324.1 L1864.0,324.0 L1865.5,323.9 L1867.0,323.8 L1868.5,323.8 L1870.0,323.8 L1871.5,323.9 L1873.0,324.2 L1874.5,324.6 L1876.0,325.2 L1877.5,325.9 L1879.0,326.6 L1880.5,327.5 L1882.0,328.3 L1883.5,329.2 L1885.0,330.0 L1886.5,330.8 L1888.0,331.6 L1889.5,332.5 L1891.0,333.4 L1892.5,334.3 L1894.0,335.3 L1895.5,336.2 L1897.0,337.0 L1898.5,337.8 L1900.0,338.4 L1901.5,338.9 L1903.0,339.1 L1904.5,339.0 L1906.0,338.6 L1907.5,337.8 L1909.0,336.7 L1910.5,335.4 L1912.0,333.9 L1913.5,332.4 L1915.0,330.9 L1916.5,329.5 L1918.0,328.1 L1919.5,326.7 L1921.0,325.2 L1922.5,323.6 L1924.0,322.0 L1925.5,320.5 L1927.0,319.0 L1928.5,317.7 L1930.0,316.5 L1931.5,315.5 L1933.0,314.8 L1934.5,314.3 L1936.0,314.1 L1937.5,314.0 L1939.0,314.0 L1940.5,314.0 L1942.0,314.0 L1943.5,314.0 L1945.0,314.0 L1946.5,314.0 L1948.0,314.0 L1949.5,314.0 L1951.0,314.0 L1952.5,314.0 L1954.0,314.0 L1955.5,314.0 L1957.0,314.0 L1958.5,314.0 L1960.0,314.0 L1961.5,314.0 L1963.0,313.9 L1964.5,313.9 L1966.0,313.7 L1967.5,313.6 L1969.0,313.3 L1970.5,313.1 L1972.0,312.8 L1973.5,312.5 L1975.0,312.1 L1976.5,311.8 L1978.0,311.4 L1979.5,311.0 L1981.0,310.6 L1982.5,310.3 L1984.0,309.9 L1985.5,309.6 L1987.0,309.2 L1988.5,309.0 L1990.0,308.7 L1991.5,308.5 L1993.0,308.3 L1994.5,308.2 L1996.0,308.2 L1997.5,308.3 L1999.0,308.5 L2000.5,308.8 L2002.0,309.2 L2003.5,309.8 L2005.0,310.4 L2006.5,311.0 L2008.0,311.7 L2009.5,312.4 L2011.0,313.1 L2012.5,313.9 L2014.0,314.7 L2015.5,315.6 L2017.0,316.6 L2018.5,317.5 L2020.0,318.4 L2021.5,319.3 L2023.0,320.0 L2024.5,320.5 L2026.0,320.8 L2027.5,321.0 L2029.0,321.1 L2030.5,321.0 L2032.0,321.0 L2033.5,321.0 L2035.0,320.9 L2036.5,320.8 L2038.0,320.7 L2039.5,320.6 L2041.0,320.5 L2042.5,320.3 L2044.0,320.2 L2045.5,320.0 L2047.0,319.8 L2048.5,319.6 L2050.0,319.4 L2051.5,319.2 L2053.0,318.9 L2054.5,318.6 L2056.0,318.3 L2057.5,318.0 L2059.0,317.6 L2060.5,317.2 L2062.0,316.9 L2063.5,316.5 L2065.0,316.1 L2066.5,315.6 L2068.0,315.2 L2069.5,314.8 L2071.0,314.4 L2072.5,314.0 L2074.0,313.5 L2075.5,313.1 L2077.0,312.7 L2078.5,312.3 L2080.0,311.8 L2081.5,311.4 L2083.0,310.9 L2084.5,310.5 L2086.0,310.0 L2087.5,309.6 L2089.0,309.2 L2090.5,308.8 L2092.0,308.4 L2093.5,308.1 L2095.0,307.7 L2096.5,307.5 L2098.0,307.2 L2099.5,307.0 L2101.0,306.7 L2102.5,306.5 L2104.0,306.3 L2105.5,306.2 L2107.0,306.0 L2108.5,305.9 L2110.0,305.8 L2111.5,305.7 L2113.0,305.7 L2114.5,305.6 L2116.0,305.6 L2117.5,305.5 L2119.0,305.5 L2120.5,305.5 L2122.0,305.5 L2123.5,305.4 L2125.0,305.4 L2126.5,305.4 L2128.0,305.4" fill="none" stroke="#fff" stroke-opacity="0.45" stroke-width="5"/><path d="M142.0,681.0 L143.5,677.0 L145.0,673.2 L146.5,669.5 L148.0,666.0 L149.5,662.8 L151.0,659.9 L152.5,657.4 L154.0,655.1 L155.5,653.1 L157.0,651.3 L158.5,649.6 L160.0,648.2 L161.5,646.9 L163.0,645.9 L164.5,645.0 L166.0,644.4 L167.5,644.0 L169.0,643.8 L170.5,643.8 L172.0,644.0 L173.5,644.2 L175.0,644.4 L176.5,644.7 L178.0,645.1 L179.5,645.5 L181.0,645.9 L182.5,646.3 L184.0,646.8 L185.5,647.2 L187.0,647.6 L188.5,648.1 L190.0,648.6 L191.5,649.1 L193.0,649.7 L194.5,650.3 L196.0,650.8 L197.5,651.1 L199.0,651.4 L200.5,651.4 L202.0,651.0 L203.5,650.2 L205.0,649.0 L206.5,647.6 L208.0,645.9 L209.5,643.9 L211.0,641.7 L212.5,639.3 L214.0,636.7 L215.5,634.0 L217.0,631.1 L218.5,628.2 L220.0,625.0 L221.5,621.9 L223.0,618.8 L224.5,615.9 L226.0,613.4 L227.5,611.3 L229.0,609.6 L230.5,608.2 L232.0,607.2 L233.5,606.6 L235.0,606.4 L236.5,606.3 L238.0,606.4 L239.5,606.5 L241.0,606.7 L242.5,606.9 L244.0,607.1 L245.5,607.2 L247.0,607.4 L248.5,607.6 L250.0,607.8 L251.5,608.0 L253.0,608.2 L254.5,608.4 L256.0,608.6 L257.5,608.8 L259.0,609.0 L260.5,609.1 L262.0,609.3 L263.5,609.3 L265.0,609.4 L266.5,609.4 L268.0,609.4 L269.5,609.4 L271.0,609.4 L272.5,609.4 L274.0,609.4 L275.5,609.4 L277.0,609.4 L278.5,609.4 L280.0,609.4 L281.5,609.4 L283.0,609.4 L284.5,609.4 L286.0,609.4 L287.5,609.4 L289.0,609.4 L290.5,609.4 L292.0,609.4 L293.5,609.4 L295.0,609.4 L296.5,609.4 L298.0,609.2 L299.5,609.0 L301.0,608.5 L302.5,607.9 L304.0,607.1 L305.5,606.1 L307.0,605.1 L308.5,604.0 L310.0,602.9 L311.5,601.9 L313.0,600.8 L314.5,599.8 L316.0,598.7 L317.5,597.7 L319.0,596.5 L320.5,595.4 L322.0,594.3 L323.5,593.1 L325.0,592.0 L326.5,590.9 L328.0,589.8 L329.5,588.7 L331.0,587.6 L332.5,586.4 L334.0,585.3 L335.5,584.1 L337.0,582.9 L338.5,581.7 L340.0,580.5 L341.5,579.4 L343.0,578.2 L344.5,577.2 L346.0,576.2 L347.5,575.3 L349.0,574.4 L350.5,573.7 L352.0,573.2 L353.5,572.7 L355.0,572.4 L356.5,572.2 L358.0,572.0 L359.5,572.0 L361.0,571.9 L362.5,572.0 L364.0,572.1 L365.5,572.2 L367.0,572.3 L368.5,572.5 L370.0,572.8 L371.5,573.0 L373.0,573.3 L374.5,573.5 L376.0,573.8 L377.5,574.1 L379.0,574.4 L380.5,574.6 L382.0,574.9 L383.5,575.1 L385.0,575.3 L386.5,575.5 L388.0,575.6 L389.5,575.7 L391.0,575.7 L392.5,575.6 L394.0,575.4 L395.5,575.1 L397.0,574.7 L398.5,574.2 L400.0,573.6 L401.5,573.0 L403.0,572.4 L404.5,571.9 L406.0,571.3 L407.5,570.8 L409.0,570.3 L410.5,569.8 L412.0,569.2 L413.5,568.7 L415.0,568.2 L416.5,567.7 L418.0,567.2 L419.5,566.9 L421.0,566.6 L422.5,566.4 L424.0,566.3 L425.5,566.4 L427.0,566.6 L428.5,567.0 L430.0,567.5 L431.5,568.0 L433.0,568.7 L434.5,569.6 L436.0,570.6 L437.5,571.7 L439.0,573.0 L440.5,574.3 L442.0,575.8 L443.5,577.3 L445.0,578.8 L446.5,580.4 L448.0,582.0 L449.5,583.6 L451.0,585.2 L452.5,586.7 L454.0,588.2 L455.5,589.6 L457.0,591.0 L458.5,592.3 L460.0,593.6 L461.5,594.9 L463.0,596.2 L464.5,597.5 L466.0,598.8 L467.5,600.1 L469.0,601.4 L470.5,602.8 L472.0,604.1 L473.5,605.6 L475.0,607.0 L476.5,608.6 L478.0,610.2 L479.5,611.8 L481.0,613.6 L482.5,615.4 L484.0,617.4 L485.5,619.4 L487.0,621.5 L488.5,623.6 L490.0,625.8 L491.5,627.8 L493.0,629.9 L494.5,631.8 L496.0,633.7 L497.5,635.4 L499.0,637.0 L500.5,638.5 L502.0,640.0 L503.5,641.4 L505.0,642.7 L506.5,644.0 L508.0,645.1 L509.5,646.2 L511.0,647.0 L512.5,647.7 L514.0,648.2 L515.5,648.5 L517.0,648.5 L518.5,648.2 L520.0,647.7 L521.5,646.9 L523.0,645.9 L524.5,644.8 L526.0,643.6 L527.5,642.3 L529.0,641.0 L530.5,639.7 L532.0,638.4 L533.5,637.0 L535.0,635.6 L536.5,634.1 L538.0,632.6 L539.5,631.1 L541.0,629.6 L542.5,628.2 L544.0,626.8 L545.5,625.4 L547.0,623.9 L548.5,622.5 L550.0,621.1 L551.5,619.7 L553.0,618.2 L554.5,616.8 L556.0,615.5 L557.5,614.1 L559.0,612.8 L560.5,611.5 L562.0,610.3 L563.5,609.1 L565.0,607.9 L566.5,606.9 L568.0,605.9 L569.5,604.9 L571.0,604.1 L572.5,603.4 L574.0,602.7 L575.5,602.1 L577.0,601.5 L578.5,601.0 L580.0,600.5 L581.5,600.1 L583.0,599.7 L584.5,599.3 L586.0,599.0 L587.5,598.7 L589.0,598.5 L590.5,598.3 L592.0,598.2 L593.5,598.0 L595.0,598.0 L596.5,597.9 L598.0,597.9 L599.5,597.9 L601.0,597.9 L602.5,598.0 L604.0,598.0 L605.5,598.1 L607.0,598.1 L608.5,598.2 L610.0,598.3 L611.5,598.3 L613.0,598.5 L614.5,598.7 L616.0,599.0 L617.5,599.5 L619.0,600.2 L620.5,601.1 L622.0,602.1 L623.5,603.2 L625.0,604.5 L626.5,605.8 L628.0,607.1 L629.5,608.5 L631.0,609.9 L632.5,611.3 L634.0,612.7 L635.5,614.1 L637.0,615.5 L638.5,617.0 L640.0,618.6 L641.5,620.3 L643.0,622.2 L644.5,624.2 L646.0,626.5 L647.5,629.0 L649.0,631.9 L650.5,635.0 L652.0,638.3 L653.5,641.7 L655.0,645.1 L656.5,648.5 L658.0,651.7 L659.5,654.7 L661.0,657.4 L662.5,660.0 L664.0,662.5 L665.5,664.8 L667.0,667.1 L668.5,669.1 L670.0,670.9 L671.5,672.5 L673.0,673.7 L674.5,674.5 L676.0,674.9 L677.5,674.7 L679.0,674.0 L680.5,672.8 L682.0,671.0 L683.5,668.9 L685.0,666.4 L686.5,663.6 L688.0,660.4 L689.5,656.9 L691.0,653.0 L692.5,648.7 L694.0,644.4 L695.5,640.2 L697.0,636.1 L698.5,632.4 L700.0,628.9 L701.5,625.6 L703.0,622.5 L704.5,619.7 L706.0,617.4 L707.5,615.8 L709.0,614.9 L710.5,614.6 L712.0,614.8 L713.5,615.3 L715.0,615.9 L716.5,616.5 L718.0,617.2 L719.5,617.8 L721.0,618.3 L722.5,618.8 L724.0,619.2 L725.5,619.6 L727.0,620.0 L728.5,620.4 L730.0,620.7 L731.5,620.9 L733.0,621.0 L734.5,621.0 L736.0,620.7 L737.5,620.2 L739.0,619.3 L740.5,618.2 L742.0,616.8 L743.5,615.3 L745.0,613.6 L746.5,611.7 L748.0,609.8 L749.5,607.8 L751.0,605.6 L752.5,603.4 L754.0,600.9 L755.5,598.3 L757.0,595.4 L758.5,592.5 L760.0,589.5 L761.5,586.5 L763.0,583.4 L764.5,580.5 L766.0,577.6 L767.5,574.9 L769.0,572.3 L770.5,569.8 L772.0,567.5 L773.5,565.3 L775.0,563.2 L776.5,561.1 L778.0,559.1 L779.5,557.1 L781.0,555.2 L782.5,553.4 L784.0,551.7 L785.5,550.0 L787.0,548.3 L788.5,546.7 L790.0,545.2 L791.5,543.8 L793.0,542.4 L794.5,541.0 L796.0,539.7 L797.5,538.5 L799.0,537.4 L800.5,536.3 L802.0,535.2 L803.5,534.2 L805.0,533.3 L806.5,532.4 L808.0,531.6 L809.5,530.8 L811.0,530.1 L812.5,529.5 L814.0,529.0 L815.5,528.6 L817.0,528.3 L818.5,528.0 L820.0,527.8 L821.5,527.5 L823.0,527.3 L824.5,527.1 L826.0,526.8 L827.5,526.4 L829.0,526.0 L830.5,525.4 L832.0,524.7 L833.5,523.9 L835.0,522.8 L836.5,521.7 L838.0,520.3 L839.5,518.8 L841.0,517.2 L842.5,515.4 L844.0,513.5 L845.5,511.3 L847.0,508.9 L848.5,506.2 L850.0,503.2 L851.5,500.1 L853.0,496.9 L854.5,494.0 L856.0,491.4 L857.5,489.2 L859.0,487.5 L860.5,486.2 L862.0,485.2 L863.5,484.3 L865.0,483.6 L866.5,483.0 L868.0,482.4 L869.5,481.9 L871.0,481.5 L872.5,481.2 L874.0,480.8 L875.5,480.6 L877.0,480.3 L878.5,480.1 L880.0,479.9 L881.5,479.7 L883.0,479.5 L884.5,479.3 L886.0,479.2 L887.5,479.1 L889.0,479.0 L890.5,478.9 L892.0,478.8 L893.5,478.8 L895.0,478.8 L896.5,478.8 L898.0,479.1 L899.5,479.7 L901.0,480.7 L902.5,482.0 L904.0,483.5 L905.5,485.2 L907.0,486.9 L908.5,488.5 L910.0,490.1 L911.5,491.6 L913.0,493.1 L914.5,494.7 L916.0,496.3 L917.5,497.9 L919.0,499.3 L920.5,500.6 L922.0,501.6 L923.5,502.3 L925.0,502.7 L926.5,502.9 L928.0,502.9 L929.5,502.9 L931.0,502.9 L932.5,502.8 L934.0,502.7 L935.5,502.6 L937.0,502.4 L938.5,502.3 L940.0,502.1 L941.5,501.9 L943.0,501.7 L944.5,501.4 L946.0,501.1 L947.5,500.8 L949.0,500.4 L950.5,499.9 L952.0,499.4 L953.5,498.9 L955.0,498.3 L956.5,497.7 L958.0,497.0 L959.5,496.3 L961.0,495.6 L962.5,494.8 L964.0,493.9 L965.5,493.0 L967.0,492.0 L968.5,491.0 L970.0,489.8 L971.5,488.7 L973.0,487.5 L974.5,486.3 L976.0,485.2 L977.5,484.1 L979.0,483.1 L980.5,482.1 L982.0,481.1 L983.5,480.1 L985.0,479.2 L986.5,478.3 L988.0,477.6 L989.5,477.0 L991.0,476.6 L992.5,476.4 L994.0,476.3 L995.5,476.2 L997.0,476.1 L998.5,476.0 L1000.0,476.0 L1001.5,475.9 L1003.0,475.9 L1004.5,475.8 L1006.0,475.8 L1007.5,475.8 L1009.0,475.8 L1010.5,475.8 L1012.0,475.8 L1013.5,475.9 L1015.0,475.9 L1016.5,476.0 L1018.0,476.0 L1019.5,476.1 L1021.0,476.2 L1022.5,476.3 L1024.0,476.5 L1025.5,476.8 L1027.0,477.2 L1028.5,477.8 L1030.0,478.5 L1031.5,479.3 L1033.0,480.2 L1034.5,481.2 L1036.0,482.2 L1037.5,483.1 L1039.0,484.1 L1040.5,485.0 L1042.0,485.8 L1043.5,486.5 L1045.0,487.2 L1046.5,487.8 L1048.0,488.4 L1049.5,488.9 L1051.0,489.4 L1052.5,489.9 L1054.0,490.4 L1055.5,490.8 L1057.0,491.2 L1058.5,491.5 L1060.0,491.8 L1061.5,492.0 L1063.0,492.2 L1064.5,492.4 L1066.0,492.6 L1067.5,492.7 L1069.0,492.9 L1070.5,493.0 L1072.0,493.1 L1073.5,493.2 L1075.0,493.3 L1076.5,493.4 L1078.0,493.5 L1079.5,493.5 L1081.0,493.6 L1082.5,493.6 L1084.0,493.7 L1085.5,493.7 L1087.0,493.7 L1088.5,493.7 L1090.0,493.7 L1091.5,493.7 L1093.0,493.7 L1094.5,493.7 L1096.0,493.8 L1097.5,493.8 L1099.0,493.8 L1100.5,493.8 L1102.0,493.8 L1103.5,493.8 L1105.0,493.8 L1106.5,493.8 L1108.0,493.8 L1109.5,493.8 L1111.0,493.8 L1112.5,493.8 L1114.0,493.8 L1115.5,493.8 L1117.0,493.8 L1118.5,493.7 L1120.0,493.7 L1121.5,493.6 L1123.0,493.4 L1124.5,493.2 L1126.0,493.0 L1127.5,492.7 L1129.0,492.4 L1130.5,492.0 L1132.0,491.6 L1133.5,491.1 L1135.0,490.6 L1136.5,490.1 L1138.0,489.5 L1139.5,488.9 L1141.0,488.2 L1142.5,487.4 L1144.0,486.6 L1145.5,485.6 L1147.0,484.6 L1148.5,483.5 L1150.0,482.3 L1151.5,481.0 L1153.0,479.7 L1154.5,478.4 L1156.0,477.1 L1157.5,475.9 L1159.0,474.6 L1160.5,473.3 L1162.0,471.9 L1163.5,470.4 L1165.0,469.0 L1166.5,467.6 L1168.0,466.3 L1169.5,465.2 L1171.0,464.3 L1172.5,463.6 L1174.0,463.0 L1175.5,462.7 L1177.0,462.4 L1178.5,462.1 L1180.0,461.9 L1181.5,461.8 L1183.0,461.6 L1184.5,461.5 L1186.0,461.4 L1187.5,461.2 L1189.0,461.1 L1190.5,461.0 L1192.0,460.9 L1193.5,460.7 L1195.0,460.6 L1196.5,460.5 L1198.0,460.5 L1199.5,460.4 L1201.0,460.3 L1202.5,460.3 L1204.0,460.2 L1205.5,460.1 L1207.0,460.0 L1208.5,459.9 L1210.0,459.8 L1211.5,459.7 L1213.0,459.5 L1214.5,459.2 L1216.0,458.9 L1217.5,458.5 L1219.0,458.0 L1220.5,457.5 L1222.0,456.9 L1223.5,456.2 L1225.0,455.5 L1226.5,454.8 L1228.0,454.0 L1229.5,453.2 L1231.0,452.5 L1232.5,451.7 L1234.0,450.9 L1235.5,450.1 L1237.0,449.3 L1238.5,448.5 L1240.0,447.8 L1241.5,447.0 L1243.0,446.1 L1244.5,445.3 L1246.0,444.4 L1247.5,443.6 L1249.0,442.7 L1250.5,441.8 L1252.0,440.9 L1253.5,440.1 L1255.0,439.2 L1256.5,438.4 L1258.0,437.7 L1259.5,437.0 L1261.0,436.3 L1262.5,435.7 L1264.0,435.0 L1265.5,434.4 L1267.0,433.8 L1268.5,433.2 L1270.0,432.7 L1271.5,432.2 L1273.0,431.9 L1274.5,431.7 L1276.0,431.6 L1277.5,431.7 L1279.0,431.9 L1280.5,432.4 L1282.0,433.0 L1283.5,433.8 L1285.0,434.6 L1286.5,435.4 L1288.0,436.2 L1289.5,436.9 L1291.0,437.6 L1292.5,438.3 L1294.0,439.0 L1295.5,439.7 L1297.0,440.3 L1298.5,440.9 L1300.0,441.4 L1301.5,441.7 L1303.0,441.9 L1304.5,442.0 L1306.0,441.9 L1307.5,441.7 L1309.0,441.4 L1310.5,441.1 L1312.0,440.7 L1313.5,440.2 L1315.0,439.8 L1316.5,439.3 L1318.0,438.7 L1319.5,438.1 L1321.0,437.4 L1322.5,436.7 L1324.0,435.9 L1325.5,435.1 L1327.0,434.2 L1328.5,433.3 L1330.0,432.4 L1331.5,431.5 L1333.0,430.5 L1334.5,429.5 L1336.0,428.5 L1337.5,427.5 L1339.0,426.5 L1340.5,425.5 L1342.0,424.5 L1343.5,423.5 L1345.0,422.5 L1346.5,421.4 L1348.0,420.3 L1349.5,419.2 L1351.0,418.1 L1352.5,417.1 L1354.0,416.1 L1355.5,415.2 L1357.0,414.3 L1358.5,413.5 L1360.0,412.6 L1361.5,411.8 L1363.0,411.1 L1364.5,410.5 L1366.0,410.0 L1367.5,409.8 L1369.0,409.6 L1370.5,409.7 L1372.0,409.8 L1373.5,410.1 L1375.0,410.4 L1376.5,410.7 L1378.0,411.1 L1379.5,411.6 L1381.0,412.0 L1382.5,412.4 L1384.0,412.8 L1385.5,413.3 L1387.0,413.7 L1388.5,414.2 L1390.0,414.7 L1391.5,415.3 L1393.0,415.8 L1394.5,416.3 L1396.0,416.7 L1397.5,417.1 L1399.0,417.3 L1400.5,417.4 L1402.0,417.4 L1403.5,417.1 L1405.0,416.7 L1406.5,416.1 L1408.0,415.3 L1409.5,414.5 L1411.0,413.7 L1412.5,412.9 L1414.0,412.1 L1415.5,411.3 L1417.0,410.5 L1418.5,409.6 L1420.0,408.8 L1421.5,407.9 L1423.0,407.1 L1424.5,406.5 L1426.0,406.0 L1427.5,405.7 L1429.0,405.6 L1430.5,405.6 L1432.0,405.6 L1433.5,405.7 L1435.0,405.8 L1436.5,405.9 L1438.0,406.1 L1439.5,406.2 L1441.0,406.3 L1442.5,406.5 L1444.0,406.6 L1445.5,406.7 L1447.0,406.8 L1448.5,406.9 L1450.0,407.0 L1451.5,407.1 L1453.0,407.2 L1454.5,407.3 L1456.0,407.4 L1457.5,407.5 L1459.0,407.6 L1460.5,407.6 L1462.0,407.7 L1463.5,407.7 L1465.0,407.7 L1466.5,407.6 L1468.0,407.6 L1469.5,407.5 L1471.0,407.4 L1472.5,407.2 L1474.0,407.0 L1475.5,406.8 L1477.0,406.5 L1478.5,406.2 L1480.0,405.9 L1481.5,405.6 L1483.0,405.2 L1484.5,404.9 L1486.0,404.5 L1487.5,404.2 L1489.0,403.7 L1490.5,403.2 L1492.0,402.7 L1493.5,402.0 L1495.0,401.3 L1496.5,400.4 L1498.0,399.4 L1499.5,398.2 L1501.0,396.9 L1502.5,395.3 L1504.0,393.7 L1505.5,391.9 L1507.0,390.2 L1508.5,388.4 L1510.0,386.8 L1511.5,385.2 L1513.0,383.6 L1514.5,382.1 L1516.0,380.5 L1517.5,379.0 L1519.0,377.5 L1520.5,376.2 L1522.0,374.9 L1523.5,373.8 L1525.0,372.8 L1526.5,372.1 L1528.0,371.4 L1529.5,370.9 L1531.0,370.4 L1532.5,370.1 L1534.0,369.7 L1535.5,369.4 L1537.0,369.1 L1538.5,368.9 L1540.0,368.7 L1541.5,368.5 L1543.0,368.3 L1544.5,368.1 L1546.0,367.9 L1547.5,367.7 L1549.0,367.4 L1550.5,367.2 L1552.0,366.9 L1553.5,366.6 L1555.0,366.3 L1556.5,366.0 L1558.0,365.8 L1559.5,365.5 L1561.0,365.2 L1562.5,364.9 L1564.0,364.7 L1565.5,364.4 L1567.0,364.1 L1568.5,363.8 L1570.0,363.5 L1571.5,363.2 L1573.0,362.8 L1574.5,362.5 L1576.0,362.1 L1577.5,361.8 L1579.0,361.4 L1580.5,360.9 L1582.0,360.5 L1583.5,360.0 L1585.0,359.6 L1586.5,359.1 L1588.0,358.6 L1589.5,358.1 L1591.0,357.6 L1592.5,357.1 L1594.0,356.6 L1595.5,356.0 L1597.0,355.5 L1598.5,354.9 L1600.0,354.3 L1601.5,353.7 L1603.0,353.1 L1604.5,352.4 L1606.0,351.8 L1607.5,351.1 L1609.0,350.3 L1610.5,349.6 L1612.0,348.8 L1613.5,348.0 L1615.0,347.1 L1616.5,346.2 L1618.0,345.2 L1619.5,344.2 L1621.0,343.1 L1622.5,342.0 L1624.0,340.8 L1625.5,339.6 L1627.0,338.4 L1628.5,337.1 L1630.0,335.9 L1631.5,334.8 L1633.0,333.7 L1634.5,332.7 L1636.0,331.7 L1637.5,330.8 L1639.0,330.1 L1640.5,329.4 L1642.0,328.7 L1643.5,328.1 L1645.0,327.6 L1646.5,327.1 L1648.0,326.7 L1649.5,326.4 L1651.0,326.1 L1652.5,326.0 L1654.0,326.0 L1655.5,326.1 L1657.0,326.3 L1658.5,326.7 L1660.0,327.0 L1661.5,327.5 L1663.0,328.0 L1664.5,328.5 L1666.0,329.0 L1667.5,329.5 L1669.0,330.0 L1670.5,330.4 L1672.0,330.8 L1673.5,331.2 L1675.0,331.6 L1676.5,332.0 L1678.0,332.4 L1679.5,332.8 L1681.0,333.2 L1682.5,333.4 L1684.0,333.6 L1685.5,333.7 L1687.0,333.5 L1688.5,333.1 L1690.0,332.3 L1691.5,331.2 L1693.0,330.0 L1694.5,328.7 L1696.0,327.4 L1697.5,326.1 L1699.0,324.8 L1700.5,323.4 L1702.0,322.0 L1703.5,320.6 L1705.0,319.3 L1706.5,318.2 L1708.0,317.3 L1709.5,316.7 L1711.0,316.4 L1712.5,316.3 L1714.0,316.3 L1715.5,316.3 L1717.0,316.4 L1718.5,316.4 L1720.0,316.5 L1721.5,316.7 L1723.0,316.8 L1724.5,317.0 L1726.0,317.2 L1727.5,317.4 L1729.0,317.8 L1730.5,318.2 L1732.0,318.6 L1733.5,319.0 L1735.0,319.5 L1736.5,320.0 L1738.0,320.4 L1739.5,320.8 L1741.0,321.1 L1742.5,321.4 L1744.0,321.5 L1745.5,321.5 L1747.0,321.3 L1748.5,320.9 L1750.0,320.2 L1751.5,319.3 L1753.0,318.3 L1754.5,317.2 L1756.0,316.0 L1757.5,314.8 L1759.0,313.6 L1760.5,312.5 L1762.0,311.4 L1763.5,310.4 L1765.0,309.3 L1766.5,308.3 L1768.0,307.2 L1769.5,306.1 L1771.0,305.1 L1772.5,304.0 L1774.0,303.0 L1775.5,302.0 L1777.0,301.0 L1778.5,300.1 L1780.0,299.2 L1781.5,298.3 L1783.0,297.4 L1784.5,296.5 L1786.0,295.7 L1787.5,294.9 L1789.0,294.1 L1790.5,293.4 L1792.0,292.7 L1793.5,292.0 L1795.0,291.4 L1796.5,290.8 L1798.0,290.3 L1799.5,289.8 L1801.0,289.4 L1802.5,289.0 L1804.0,288.7 L1805.5,288.4 L1807.0,288.1 L1808.5,287.9 L1810.0,287.9 L1811.5,287.9 L1813.0,288.3 L1814.5,288.9 L1816.0,289.9 L1817.5,291.3 L1819.0,293.0 L1820.5,294.8 L1822.0,296.9 L1823.5,299.2 L1825.0,301.7 L1826.5,304.4 L1828.0,307.0 L1829.5,309.7 L1831.0,312.2 L1832.5,314.6 L1834.0,316.9 L1835.5,319.0 L1837.0,320.8 L1838.5,322.4 L1840.0,323.6 L1841.5,324.6 L1843.0,325.2 L1844.5,325.5 L1846.0,325.6 L1847.5,325.5 L1849.0,325.4 L1850.5,325.3 L1852.0,325.1 L1853.5,325.0 L1855.0,324.8 L1856.5,324.7 L1858.0,324.6 L1859.5,324.4 L1861.0,324.3 L1862.5,324.1 L1864.0,324.0 L1865.5,323.9 L1867.0,323.8 L1868.5,323.8 L1870.0,323.8 L1871.5,323.9 L1873.0,324.2 L1874.5,324.6 L1876.0,325.2 L1877.5,325.9 L1879.0,326.6 L1880.5,327.5 L1882.0,328.3 L1883.5,329.2 L1885.0,330.0 L1886.5,330.8 L1888.0,331.6 L1889.5,332.5 L1891.0,333.4 L1892.5,334.3 L1894.0,335.3 L1895.5,336.2 L1897.0,337.0 L1898.5,337.8 L1900.0,338.4 L1901.5,338.9 L1903.0,339.1 L1904.5,339.0 L1906.0,338.6 L1907.5,337.8 L1909.0,336.7 L1910.5,335.4 L1912.0,333.9 L1913.5,332.4 L1915.0,330.9 L1916.5,329.5 L1918.0,328.1 L1919.5,326.7 L1921.0,325.2 L1922.5,323.6 L1924.0,322.0 L1925.5,320.5 L1927.0,319.0 L1928.5,317.7 L1930.0,316.5 L1931.5,315.5 L1933.0,314.8 L1934.5,314.3 L1936.0,314.1 L1937.5,314.0 L1939.0,314.0 L1940.5,314.0 L1942.0,314.0 L1943.5,314.0 L1945.0,314.0 L1946.5,314.0 L1948.0,314.0 L1949.5,314.0 L1951.0,314.0 L1952.5,314.0 L1954.0,314.0 L1955.5,314.0 L1957.0,314.0 L1958.5,314.0 L1960.0,314.0 L1961.5,314.0 L1963.0,313.9 L1964.5,313.9 L1966.0,313.7 L1967.5,313.6 L1969.0,313.3 L1970.5,313.1 L1972.0,312.8 L1973.5,312.5 L1975.0,312.1 L1976.5,311.8 L1978.0,311.4 L1979.5,311.0 L1981.0,310.6 L1982.5,310.3 L1984.0,309.9 L1985.5,309.6 L1987.0,309.2 L1988.5,309.0 L1990.0,308.7 L1991.5,308.5 L1993.0,308.3 L1994.5,308.2 L1996.0,308.2 L1997.5,308.3 L1999.0,308.5 L2000.5,308.8 L2002.0,309.2 L2003.5,309.8 L2005.0,310.4 L2006.5,311.0 L2008.0,311.7 L2009.5,312.4 L2011.0,313.1 L2012.5,313.9 L2014.0,314.7 L2015.5,315.6 L2017.0,316.6 L2018.5,317.5 L2020.0,318.4 L2021.5,319.3 L2023.0,320.0 L2024.5,320.5 L2026.0,320.8 L2027.5,321.0 L2029.0,321.1 L2030.5,321.0 L2032.0,321.0 L2033.5,321.0 L2035.0,320.9 L2036.5,320.8 L2038.0,320.7 L2039.5,320.6 L2041.0,320.5 L2042.5,320.3 L2044.0,320.2 L2045.5,320.0 L2047.0,319.8 L2048.5,319.6 L2050.0,319.4 L2051.5,319.2 L2053.0,318.9 L2054.5,318.6 L2056.0,318.3 L2057.5,318.0 L2059.0,317.6 L2060.5,317.2 L2062.0,316.9 L2063.5,316.5 L2065.0,316.1 L2066.5,315.6 L2068.0,315.2 L2069.5,314.8 L2071.0,314.4 L2072.5,314.0 L2074.0,313.5 L2075.5,313.1 L2077.0,312.7 L2078.5,312.3 L2080.0,311.8 L2081.5,311.4 L2083.0,310.9 L2084.5,310.5 L2086.0,310.0 L2087.5,309.6 L2089.0,309.2 L2090.5,308.8 L2092.0,308.4 L2093.5,308.1 L2095.0,307.7 L2096.5,307.5 L2098.0,307.2 L2099.5,307.0 L2101.0,306.7 L2102.5,306.5 L2104.0,306.3 L2105.5,306.2 L2107.0,306.0 L2108.5,305.9 L2110.0,305.8 L2111.5,305.7 L2113.0,305.7 L2114.5,305.6 L2116.0,305.6 L2117.5,305.5 L2119.0,305.5 L2120.5,305.5 L2122.0,305.5 L2123.5,305.4 L2125.0,305.4 L2126.5,305.4 L2128.0,305.4" fill="none" stroke="#3a4866" stroke-width="2.4" stroke-dasharray="12 4"/><path d="M142.0,681.0 L143.5,679.1 L145.0,677.3 L146.5,675.4 L148.0,673.7 L149.5,672.0 L151.0,670.4 L152.5,668.9 L154.0,667.5 L155.5,666.2 L157.0,665.1 L158.5,664.0 L160.0,663.1 L161.5,662.2 L163.0,661.5 L164.5,660.9 L166.0,660.5 L167.5,660.2 L169.0,660.2 L170.5,660.3 L172.0,660.6 L173.5,661.1 L175.0,661.8 L176.5,662.5 L178.0,663.4 L179.5,664.3 L181.0,665.2 L182.5,666.1 L184.0,667.0 L185.5,667.8 L187.0,668.5 L188.5,669.2 L190.0,669.8 L191.5,670.5 L193.0,671.1 L194.5,671.8 L196.0,672.3 L197.5,672.8 L199.0,673.1 L200.5,673.2 L202.0,673.1 L203.5,672.7 L205.0,671.8 L206.5,670.6 L208.0,669.2 L209.5,667.5 L211.0,665.7 L212.5,663.8 L214.0,661.9 L215.5,660.1 L217.0,658.4 L218.5,656.6 L220.0,654.7 L221.5,652.7 L223.0,650.7 L224.5,648.7 L226.0,646.9 L227.5,645.2 L229.0,643.9 L230.5,643.0 L232.0,642.4 L233.5,642.1 L235.0,642.0 L236.5,641.9 L238.0,641.8 L239.5,641.8 L241.0,641.7 L242.5,641.7 L244.0,641.7 L245.5,641.6 L247.0,641.6 L248.5,641.6 L250.0,641.5 L251.5,641.5 L253.0,641.5 L254.5,641.5 L256.0,641.5 L257.5,641.5 L259.0,641.5 L260.5,641.5 L262.0,641.5 L263.5,641.5 L265.0,641.5 L266.5,641.5 L268.0,641.5 L269.5,641.5 L271.0,641.5 L272.5,641.5 L274.0,641.5 L275.5,641.5 L277.0,641.5 L278.5,641.5 L280.0,641.5 L281.5,641.4 L283.0,641.3 L284.5,641.2 L286.0,641.0 L287.5,640.8 L289.0,640.5 L290.5,640.2 L292.0,639.9 L293.5,639.5 L295.0,639.1 L296.5,638.6 L298.0,638.1 L299.5,637.5 L301.0,636.8 L302.5,636.0 L304.0,635.1 L305.5,634.2 L307.0,633.3 L308.5,632.3 L310.0,631.4 L311.5,630.5 L313.0,629.6 L314.5,628.9 L316.0,628.1 L317.5,627.4 L319.0,626.6 L320.5,625.9 L322.0,625.2 L323.5,624.5 L325.0,623.8 L326.5,623.0 L328.0,622.1 L329.5,621.2 L331.0,620.3 L332.5,619.3 L334.0,618.2 L335.5,617.1 L337.0,615.9 L338.5,614.8 L340.0,613.7 L341.5,612.7 L343.0,611.6 L344.5,610.7 L346.0,609.7 L347.5,608.8 L349.0,607.8 L350.5,607.0 L352.0,606.2 L353.5,605.5 L355.0,604.9 L356.5,604.5 L358.0,604.2 L359.5,604.0 L361.0,604.0 L362.5,603.9 L364.0,603.9 L365.5,603.9 L367.0,603.9 L368.5,603.9 L370.0,603.9 L371.5,603.9 L373.0,603.9 L374.5,603.9 L376.0,603.9 L377.5,603.8 L379.0,603.8 L380.5,603.8 L382.0,603.8 L383.5,603.8 L385.0,603.8 L386.5,603.8 L388.0,603.8 L389.5,603.8 L391.0,603.7 L392.5,603.7 L394.0,603.6 L395.5,603.3 L397.0,602.9 L398.5,602.4 L400.0,601.8 L401.5,601.1 L403.0,600.5 L404.5,599.8 L406.0,599.2 L407.5,598.6 L409.0,598.1 L410.5,597.5 L412.0,597.0 L413.5,596.4 L415.0,595.9 L416.5,595.4 L418.0,594.9 L419.5,594.5 L421.0,594.2 L422.5,594.0 L424.0,593.8 L425.5,593.8 L427.0,594.0 L428.5,594.3 L430.0,594.7 L431.5,595.2 L433.0,595.8 L434.5,596.5 L436.0,597.1 L437.5,597.8 L439.0,598.5 L440.5,599.2 L442.0,599.9 L443.5,600.7 L445.0,601.5 L446.5,602.4 L448.0,603.3 L449.5,604.2 L451.0,605.1 L452.5,606.1 L454.0,607.0 L455.5,608.0 L457.0,609.0 L458.5,610.0 L460.0,611.1 L461.5,612.1 L463.0,613.1 L464.5,614.1 L466.0,615.2 L467.5,616.2 L469.0,617.3 L470.5,618.3 L472.0,619.4 L473.5,620.5 L475.0,621.6 L476.5,622.7 L478.0,623.8 L479.5,625.0 L481.0,626.1 L482.5,627.3 L484.0,628.5 L485.5,629.7 L487.0,631.0 L488.5,632.2 L490.0,633.5 L491.5,634.9 L493.0,636.3 L494.5,637.7 L496.0,639.1 L497.5,640.5 L499.0,641.8 L500.5,643.0 L502.0,644.2 L503.5,645.2 L505.0,646.2 L506.5,647.1 L508.0,648.0 L509.5,648.8 L511.0,649.6 L512.5,650.2 L514.0,650.6 L515.5,651.0 L517.0,651.1 L518.5,651.1 L520.0,650.9 L521.5,650.5 L523.0,650.0 L524.5,649.4 L526.0,648.7 L527.5,647.9 L529.0,647.1 L530.5,646.1 L532.0,645.0 L533.5,643.8 L535.0,642.5 L536.5,641.1 L538.0,639.7 L539.5,638.2 L541.0,636.7 L542.5,635.3 L544.0,633.8 L545.5,632.5 L547.0,631.1 L548.5,629.9 L550.0,628.7 L551.5,627.6 L553.0,626.4 L554.5,625.3 L556.0,624.3 L557.5,623.2 L559.0,622.1 L560.5,621.1 L562.0,620.1 L563.5,619.1 L565.0,618.2 L566.5,617.3 L568.0,616.4 L569.5,615.5 L571.0,614.7 L572.5,613.9 L574.0,613.1 L575.5,612.3 L577.0,611.6 L578.5,611.0 L580.0,610.3 L581.5,609.7 L583.0,609.1 L584.5,608.5 L586.0,608.0 L587.5,607.5 L589.0,607.0 L590.5,606.5 L592.0,606.1 L593.5,605.7 L595.0,605.4 L596.5,605.1 L598.0,604.8 L599.5,604.6 L601.0,604.4 L602.5,604.2 L604.0,604.1 L605.5,604.1 L607.0,604.0 L608.5,604.1 L610.0,604.1 L611.5,604.2 L613.0,604.3 L614.5,604.5 L616.0,604.7 L617.5,605.0 L619.0,605.5 L620.5,606.2 L622.0,607.0 L623.5,608.0 L625.0,609.1 L626.5,610.2 L628.0,611.4 L629.5,612.6 L631.0,613.8 L632.5,615.0 L634.0,616.2 L635.5,617.4 L637.0,618.6 L638.5,619.9 L640.0,621.2 L641.5,622.7 L643.0,624.2 L644.5,625.9 L646.0,627.7 L647.5,629.7 L649.0,631.9 L650.5,634.3 L652.0,636.9 L653.5,639.5 L655.0,642.1 L656.5,644.7 L658.0,647.1 L659.5,649.4 L661.0,651.5 L662.5,653.5 L664.0,655.5 L665.5,657.4 L667.0,659.2 L668.5,660.8 L670.0,662.2 L671.5,663.3 L673.0,664.2 L674.5,664.7 L676.0,664.7 L677.5,664.2 L679.0,663.2 L680.5,661.7 L682.0,659.7 L683.5,657.5 L685.0,655.0 L686.5,652.1 L688.0,648.9 L689.5,645.2 L691.0,641.3 L692.5,637.2 L694.0,633.2 L695.5,629.4 L697.0,625.9 L698.5,622.8 L700.0,620.1 L701.5,617.6 L703.0,615.4 L704.5,613.5 L706.0,612.0 L707.5,611.0 L709.0,610.4 L710.5,610.2 L712.0,610.2 L713.5,610.4 L715.0,610.6 L716.5,610.8 L718.0,611.0 L719.5,611.2 L721.0,611.4 L722.5,611.6 L724.0,611.8 L725.5,612.0 L727.0,612.2 L728.5,612.4 L730.0,612.5 L731.5,612.7 L733.0,612.8 L734.5,612.9 L736.0,612.9 L737.5,612.7 L739.0,612.2 L740.5,611.4 L742.0,610.2 L743.5,608.7 L745.0,606.9 L746.5,604.9 L748.0,602.7 L749.5,600.5 L751.0,598.3 L752.5,596.0 L754.0,593.7 L755.5,591.4 L757.0,588.9 L758.5,586.3 L760.0,583.6 L761.5,580.9 L763.0,578.0 L764.5,575.0 L766.0,571.8 L767.5,568.5 L769.0,564.9 L770.5,561.2 L772.0,557.3 L773.5,553.2 L775.0,548.8 L776.5,544.3 L778.0,539.4 L779.5,534.2 L781.0,528.8 L782.5,523.3 L784.0,517.7 L785.5,512.1 L787.0,506.5 L788.5,500.9 L790.0,495.5 L791.5,490.1 L793.0,484.9 L794.5,480.1 L796.0,475.9 L797.5,472.7 L799.0,470.3 L800.5,468.6 L802.0,467.3 L803.5,466.3 L805.0,465.5 L806.5,464.8 L808.0,464.2 L809.5,463.7 L811.0,463.3 L812.5,462.9 L814.0,462.7 L815.5,462.5 L817.0,462.3 L818.5,462.1 L820.0,461.8 L821.5,461.5 L823.0,461.2 L824.5,460.7 L826.0,460.2 L827.5,459.5 L829.0,458.9 L830.5,458.2 L832.0,457.5 L833.5,456.7 L835.0,455.8 L836.5,454.8 L838.0,453.6 L839.5,452.3 L841.0,450.8 L842.5,449.0 L844.0,447.1 L845.5,445.0 L847.0,442.8 L848.5,440.5 L850.0,438.3 L851.5,436.1 L853.0,434.1 L854.5,432.2 L856.0,430.6 L857.5,429.2 L859.0,427.9 L860.5,426.8 L862.0,425.9 L863.5,425.0 L865.0,424.3 L866.5,423.6 L868.0,423.1 L869.5,422.6 L871.0,422.2 L872.5,421.8 L874.0,421.5 L875.5,421.2 L877.0,420.9 L878.5,420.7 L880.0,420.5 L881.5,420.3 L883.0,420.1 L884.5,420.0 L886.0,419.9 L887.5,419.7 L889.0,419.7 L890.5,419.6 L892.0,419.6 L893.5,419.6 L895.0,419.7 L896.5,419.9 L898.0,420.3 L899.5,420.9 L901.0,421.6 L902.5,422.5 L904.0,423.4 L905.5,424.4 L907.0,425.4 L908.5,426.4 L910.0,427.4 L911.5,428.5 L913.0,429.6 L914.5,430.8 L916.0,432.1 L917.5,433.4 L919.0,434.6 L920.5,435.7 L922.0,436.5 L923.5,437.1 L925.0,437.5 L926.5,437.6 L928.0,437.6 L929.5,437.6 L931.0,437.5 L932.5,437.4 L934.0,437.2 L935.5,437.0 L937.0,436.9 L938.5,436.6 L940.0,436.4 L941.5,436.2 L943.0,435.9 L944.5,435.6 L946.0,435.3 L947.5,435.1 L949.0,434.8 L950.5,434.5 L952.0,434.1 L953.5,433.7 L955.0,433.3 L956.5,432.8 L958.0,432.3 L959.5,431.6 L961.0,430.9 L962.5,430.1 L964.0,429.1 L965.5,428.0 L967.0,426.9 L968.5,425.6 L970.0,424.3 L971.5,423.0 L973.0,421.7 L974.5,420.5 L976.0,419.3 L977.5,418.1 L979.0,417.0 L980.5,415.9 L982.0,414.8 L983.5,413.8 L985.0,412.8 L986.5,412.0 L988.0,411.3 L989.5,410.7 L991.0,410.3 L992.5,409.9 L994.0,409.7 L995.5,409.4 L997.0,409.2 L998.5,409.0 L1000.0,408.9 L1001.5,408.7 L1003.0,408.6 L1004.5,408.5 L1006.0,408.5 L1007.5,408.4 L1009.0,408.3 L1010.5,408.3 L1012.0,408.2 L1013.5,408.2 L1015.0,408.1 L1016.5,408.1 L1018.0,408.1 L1019.5,408.0 L1021.0,408.0 L1022.5,408.0 L1024.0,408.1 L1025.5,408.3 L1027.0,408.7 L1028.5,409.1 L1030.0,409.7 L1031.5,410.4 L1033.0,411.0 L1034.5,411.7 L1036.0,412.3 L1037.5,412.9 L1039.0,413.4 L1040.5,414.0 L1042.0,414.6 L1043.5,415.1 L1045.0,415.7 L1046.5,416.2 L1048.0,416.8 L1049.5,417.3 L1051.0,417.7 L1052.5,418.1 L1054.0,418.5 L1055.5,418.8 L1057.0,419.1 L1058.5,419.4 L1060.0,419.6 L1061.5,419.9 L1063.0,420.1 L1064.5,420.2 L1066.0,420.4 L1067.5,420.5 L1069.0,420.6 L1070.5,420.8 L1072.0,420.8 L1073.5,420.9 L1075.0,421.0 L1076.5,421.1 L1078.0,421.2 L1079.5,421.2 L1081.0,421.3 L1082.5,421.3 L1084.0,421.3 L1085.5,421.4 L1087.0,421.4 L1088.5,421.4 L1090.0,421.4 L1091.5,421.4 L1093.0,421.4 L1094.5,421.3 L1096.0,421.3 L1097.5,421.2 L1099.0,421.1 L1100.5,421.0 L1102.0,420.9 L1103.5,420.8 L1105.0,420.7 L1106.5,420.5 L1108.0,420.4 L1109.5,420.2 L1111.0,420.0 L1112.5,419.8 L1114.0,419.6 L1115.5,419.3 L1117.0,419.1 L1118.5,418.9 L1120.0,418.6 L1121.5,418.4 L1123.0,418.2 L1124.5,417.9 L1126.0,417.7 L1127.5,417.4 L1129.0,417.2 L1130.5,416.9 L1132.0,416.6 L1133.5,416.2 L1135.0,415.8 L1136.5,415.4 L1138.0,414.9 L1139.5,414.4 L1141.0,413.8 L1142.5,413.2 L1144.0,412.5 L1145.5,411.6 L1147.0,410.7 L1148.5,409.7 L1150.0,408.5 L1151.5,407.3 L1153.0,406.1 L1154.5,404.9 L1156.0,403.6 L1157.5,402.5 L1159.0,401.4 L1160.5,400.3 L1162.0,399.2 L1163.5,398.1 L1165.0,397.0 L1166.5,396.0 L1168.0,395.1 L1169.5,394.2 L1171.0,393.5 L1172.5,392.9 L1174.0,392.4 L1175.5,392.0 L1177.0,391.7 L1178.5,391.5 L1180.0,391.2 L1181.5,391.1 L1183.0,390.9 L1184.5,390.8 L1186.0,390.6 L1187.5,390.5 L1189.0,390.4 L1190.5,390.2 L1192.0,390.1 L1193.5,390.0 L1195.0,389.9 L1196.5,389.9 L1198.0,389.8 L1199.5,389.8 L1201.0,389.7 L1202.5,389.6 L1204.0,389.5 L1205.5,389.4 L1207.0,389.2 L1208.5,389.0 L1210.0,388.8 L1211.5,388.6 L1213.0,388.3 L1214.5,387.9 L1216.0,387.6 L1217.5,387.2 L1219.0,386.8 L1220.5,386.4 L1222.0,386.0 L1223.5,385.5 L1225.0,385.1 L1226.5,384.6 L1228.0,384.2 L1229.5,383.7 L1231.0,383.2 L1232.5,382.8 L1234.0,382.3 L1235.5,381.8 L1237.0,381.2 L1238.5,380.7 L1240.0,380.2 L1241.5,379.6 L1243.0,379.0 L1244.5,378.4 L1246.0,377.7 L1247.5,377.1 L1249.0,376.3 L1250.5,375.6 L1252.0,374.8 L1253.5,373.9 L1255.0,373.1 L1256.5,372.2 L1258.0,371.4 L1259.5,370.6 L1261.0,369.9 L1262.5,369.2 L1264.0,368.5 L1265.5,367.9 L1267.0,367.4 L1268.5,366.8 L1270.0,366.3 L1271.5,365.9 L1273.0,365.6 L1274.5,365.5 L1276.0,365.5 L1277.5,365.6 L1279.0,365.9 L1280.5,366.3 L1282.0,366.8 L1283.5,367.4 L1285.0,368.1 L1286.5,368.8 L1288.0,369.4 L1289.5,370.0 L1291.0,370.7 L1292.5,371.3 L1294.0,371.9 L1295.5,372.6 L1297.0,373.3 L1298.5,373.9 L1300.0,374.4 L1301.5,374.7 L1303.0,374.9 L1304.5,375.0 L1306.0,374.9 L1307.5,374.6 L1309.0,374.4 L1310.5,374.0 L1312.0,373.6 L1313.5,373.2 L1315.0,372.7 L1316.5,372.3 L1318.0,371.8 L1319.5,371.3 L1321.0,370.8 L1322.5,370.3 L1324.0,369.7 L1325.5,369.1 L1327.0,368.5 L1328.5,367.9 L1330.0,367.2 L1331.5,366.5 L1333.0,365.8 L1334.5,365.1 L1336.0,364.3 L1337.5,363.5 L1339.0,362.7 L1340.5,361.9 L1342.0,361.0 L1343.5,360.1 L1345.0,359.2 L1346.5,358.2 L1348.0,357.2 L1349.5,356.3 L1351.0,355.3 L1352.5,354.4 L1354.0,353.6 L1355.5,352.8 L1357.0,352.0 L1358.5,351.3 L1360.0,350.6 L1361.5,349.9 L1363.0,349.3 L1364.5,348.8 L1366.0,348.4 L1367.5,348.2 L1369.0,348.1 L1370.5,348.1 L1372.0,348.2 L1373.5,348.3 L1375.0,348.4 L1376.5,348.6 L1378.0,348.8 L1379.5,349.0 L1381.0,349.3 L1382.5,349.5 L1384.0,349.7 L1385.5,349.9 L1387.0,350.1 L1388.5,350.3 L1390.0,350.5 L1391.5,350.8 L1393.0,351.0 L1394.5,351.3 L1396.0,351.5 L1397.5,351.7 L1399.0,351.8 L1400.5,352.0 L1402.0,352.0 L1403.5,351.9 L1405.0,351.7 L1406.5,351.3 L1408.0,350.8 L1409.5,350.1 L1411.0,349.4 L1412.5,348.7 L1414.0,347.9 L1415.5,347.2 L1417.0,346.4 L1418.5,345.5 L1420.0,344.7 L1421.5,343.9 L1423.0,343.2 L1424.5,342.6 L1426.0,342.2 L1427.5,342.0 L1429.0,341.8 L1430.5,341.7 L1432.0,341.6 L1433.5,341.6 L1435.0,341.5 L1436.5,341.4 L1438.0,341.4 L1439.5,341.4 L1441.0,341.3 L1442.5,341.3 L1444.0,341.3 L1445.5,341.3 L1447.0,341.3 L1448.5,341.3 L1450.0,341.3 L1451.5,341.3 L1453.0,341.3 L1454.5,341.3 L1456.0,341.3 L1457.5,341.2 L1459.0,341.2 L1460.5,341.2 L1462.0,341.2 L1463.5,341.2 L1465.0,341.2 L1466.5,341.2 L1468.0,341.2 L1469.5,341.2 L1471.0,341.2 L1472.5,341.1 L1474.0,341.0 L1475.5,340.9 L1477.0,340.7 L1478.5,340.5 L1480.0,340.3 L1481.5,340.0 L1483.0,339.6 L1484.5,339.3 L1486.0,338.9 L1487.5,338.4 L1489.0,338.0 L1490.5,337.4 L1492.0,336.9 L1493.5,336.3 L1495.0,335.6 L1496.5,334.9 L1498.0,334.1 L1499.5,333.1 L1501.0,332.0 L1502.5,330.9 L1504.0,329.6 L1505.5,328.3 L1507.0,327.0 L1508.5,325.7 L1510.0,324.5 L1511.5,323.3 L1513.0,322.0 L1514.5,320.8 L1516.0,319.5 L1517.5,318.2 L1519.0,317.0 L1520.5,315.8 L1522.0,314.6 L1523.5,313.6 L1525.0,312.7 L1526.5,311.9 L1528.0,311.3 L1529.5,310.7 L1531.0,310.2 L1532.5,309.8 L1534.0,309.4 L1535.5,309.1 L1537.0,308.8 L1538.5,308.6 L1540.0,308.3 L1541.5,308.1 L1543.0,307.9 L1544.5,307.7 L1546.0,307.5 L1547.5,307.2 L1549.0,307.0 L1550.5,306.7 L1552.0,306.4 L1553.5,306.0 L1555.0,305.7 L1556.5,305.4 L1558.0,305.1 L1559.5,304.7 L1561.0,304.4 L1562.5,304.1 L1564.0,303.8 L1565.5,303.4 L1567.0,303.1 L1568.5,302.8 L1570.0,302.4 L1571.5,302.1 L1573.0,301.7 L1574.5,301.3 L1576.0,301.0 L1577.5,300.6 L1579.0,300.2 L1580.5,299.8 L1582.0,299.4 L1583.5,299.0 L1585.0,298.6 L1586.5,298.2 L1588.0,297.8 L1589.5,297.4 L1591.0,297.0 L1592.5,296.6 L1594.0,296.2 L1595.5,295.8 L1597.0,295.4 L1598.5,295.0 L1600.0,294.5 L1601.5,294.1 L1603.0,293.6 L1604.5,293.1 L1606.0,292.6 L1607.5,292.1 L1609.0,291.5 L1610.5,290.9 L1612.0,290.3 L1613.5,289.7 L1615.0,289.0 L1616.5,288.2 L1618.0,287.5 L1619.5,286.6 L1621.0,285.8 L1622.5,284.8 L1624.0,283.8 L1625.5,282.8 L1627.0,281.7 L1628.5,280.6 L1630.0,279.6 L1631.5,278.5 L1633.0,277.5 L1634.5,276.5 L1636.0,275.6 L1637.5,274.8 L1639.0,274.0 L1640.5,273.3 L1642.0,272.6 L1643.5,272.0 L1645.0,271.3 L1646.5,270.8 L1648.0,270.3 L1649.5,269.9 L1651.0,269.6 L1652.5,269.4 L1654.0,269.4 L1655.5,269.5 L1657.0,269.6 L1658.5,269.8 L1660.0,270.1 L1661.5,270.4 L1663.0,270.7 L1664.5,271.0 L1666.0,271.4 L1667.5,271.8 L1669.0,272.1 L1670.5,272.4 L1672.0,272.8 L1673.5,273.1 L1675.0,273.4 L1676.5,273.8 L1678.0,274.1 L1679.5,274.5 L1681.0,274.8 L1682.5,275.1 L1684.0,275.3 L1685.5,275.3 L1687.0,275.3 L1688.5,275.0 L1690.0,274.5 L1691.5,273.8 L1693.0,273.0 L1694.5,272.1 L1696.0,271.2 L1697.5,270.2 L1699.0,269.2 L1700.5,268.1 L1702.0,266.9 L1703.5,265.8 L1705.0,264.7 L1706.5,263.7 L1708.0,262.9 L1709.5,262.4 L1711.0,262.2 L1712.5,262.0 L1714.0,262.0 L1715.5,262.0 L1717.0,262.0 L1718.5,262.0 L1720.0,262.0 L1721.5,262.0 L1723.0,262.0 L1724.5,262.0 L1726.0,262.0 L1727.5,262.0 L1729.0,262.1 L1730.5,262.2 L1732.0,262.3 L1733.5,262.4 L1735.0,262.6 L1736.5,262.7 L1738.0,262.9 L1739.5,263.1 L1741.0,263.3 L1742.5,263.4 L1744.0,263.5 L1745.5,263.6 L1747.0,263.6 L1748.5,263.5 L1750.0,263.2 L1751.5,262.7 L1753.0,262.0 L1754.5,261.2 L1756.0,260.3 L1757.5,259.3 L1759.0,258.3 L1760.5,257.3 L1762.0,256.4 L1763.5,255.4 L1765.0,254.4 L1766.5,253.3 L1768.0,252.2 L1769.5,251.0 L1771.0,249.9 L1772.5,248.7 L1774.0,247.5 L1775.5,246.3 L1777.0,245.1 L1778.5,244.0 L1780.0,242.9 L1781.5,241.8 L1783.0,240.8 L1784.5,239.7 L1786.0,238.7 L1787.5,237.6 L1789.0,236.6 L1790.5,235.6 L1792.0,234.6 L1793.5,233.7 L1795.0,232.8 L1796.5,232.0 L1798.0,231.2 L1799.5,230.6 L1801.0,230.0 L1802.5,229.4 L1804.0,229.0 L1805.5,228.5 L1807.0,228.2 L1808.5,227.9 L1810.0,227.8 L1811.5,228.0 L1813.0,228.5 L1814.5,229.5 L1816.0,230.9 L1817.5,232.6 L1819.0,234.3 L1820.5,236.1 L1822.0,237.9 L1823.5,239.8 L1825.0,241.8 L1826.5,243.7 L1828.0,245.6 L1829.5,247.6 L1831.0,249.5 L1832.5,251.3 L1834.0,253.0 L1835.5,254.6 L1837.0,256.0 L1838.5,257.3 L1840.0,258.2 L1841.5,258.9 L1843.0,259.3 L1844.5,259.4 L1846.0,259.4 L1847.5,259.2 L1849.0,259.0 L1850.5,258.7 L1852.0,258.4 L1853.5,258.2 L1855.0,257.9 L1856.5,257.7 L1858.0,257.4 L1859.5,257.1 L1861.0,256.9 L1862.5,256.6 L1864.0,256.4 L1865.5,256.2 L1867.0,256.1 L1868.5,256.0 L1870.0,256.0 L1871.5,256.0 L1873.0,256.2 L1874.5,256.5 L1876.0,256.8 L1877.5,257.2 L1879.0,257.7 L1880.5,258.3 L1882.0,258.8 L1883.5,259.4 L1885.0,260.0 L1886.5,260.6 L1888.0,261.2 L1889.5,261.8 L1891.0,262.6 L1892.5,263.4 L1894.0,264.2 L1895.5,264.9 L1897.0,265.7 L1898.5,266.3 L1900.0,266.9 L1901.5,267.2 L1903.0,267.5 L1904.5,267.4 L1906.0,267.2 L1907.5,266.7 L1909.0,266.0 L1910.5,265.2 L1912.0,264.2 L1913.5,263.2 L1915.0,262.1 L1916.5,261.1 L1918.0,260.0 L1919.5,258.8 L1921.0,257.5 L1922.5,256.2 L1924.0,254.8 L1925.5,253.4 L1927.0,252.0 L1928.5,250.6 L1930.0,249.4 L1931.5,248.4 L1933.0,247.5 L1934.5,246.9 L1936.0,246.4 L1937.5,246.1 L1939.0,245.8 L1940.5,245.6 L1942.0,245.4 L1943.5,245.2 L1945.0,245.1 L1946.5,244.9 L1948.0,244.8 L1949.5,244.7 L1951.0,244.6 L1952.5,244.5 L1954.0,244.4 L1955.5,244.3 L1957.0,244.1 L1958.5,244.0 L1960.0,243.9 L1961.5,243.7 L1963.0,243.6 L1964.5,243.4 L1966.0,243.2 L1967.5,243.0 L1969.0,242.8 L1970.5,242.6 L1972.0,242.4 L1973.5,242.1 L1975.0,241.9 L1976.5,241.7 L1978.0,241.5 L1979.5,241.3 L1981.0,241.1 L1982.5,240.9 L1984.0,240.7 L1985.5,240.5 L1987.0,240.3 L1988.5,240.2 L1990.0,240.1 L1991.5,240.0 L1993.0,239.9 L1994.5,239.9 L1996.0,239.9 L1997.5,239.9 L1999.0,240.1 L2000.5,240.5 L2002.0,240.9 L2003.5,241.4 L2005.0,241.9 L2006.5,242.5 L2008.0,243.1 L2009.5,243.7 L2011.0,244.2 L2012.5,244.8 L2014.0,245.4 L2015.5,246.0 L2017.0,246.7 L2018.5,247.3 L2020.0,247.9 L2021.5,248.4 L2023.0,248.9 L2024.5,249.2 L2026.0,249.4 L2027.5,249.5 L2029.0,249.6 L2030.5,249.5 L2032.0,249.5 L2033.5,249.5 L2035.0,249.4 L2036.5,249.3 L2038.0,249.2 L2039.5,249.1 L2041.0,249.0 L2042.5,248.8 L2044.0,248.7 L2045.5,248.5 L2047.0,248.3 L2048.5,248.1 L2050.0,247.9 L2051.5,247.6 L2053.0,247.4 L2054.5,247.1 L2056.0,246.7 L2057.5,246.3 L2059.0,245.9 L2060.5,245.5 L2062.0,245.0 L2063.5,244.6 L2065.0,244.1 L2066.5,243.6 L2068.0,243.1 L2069.5,242.6 L2071.0,242.2 L2072.5,241.7 L2074.0,241.2 L2075.5,240.8 L2077.0,240.3 L2078.5,239.8 L2080.0,239.3 L2081.5,238.8 L2083.0,238.3 L2084.5,237.9 L2086.0,237.4 L2087.5,236.9 L2089.0,236.5 L2090.5,236.1 L2092.0,235.7 L2093.5,235.4 L2095.0,235.1 L2096.5,234.8 L2098.0,234.6 L2099.5,234.4 L2101.0,234.2 L2102.5,234.1 L2104.0,234.0 L2105.5,233.9 L2107.0,233.8 L2108.5,233.7 L2110.0,233.7 L2111.5,233.6 L2113.0,233.6 L2114.5,233.5 L2116.0,233.5 L2117.5,233.4 L2119.0,233.4 L2120.5,233.4 L2122.0,233.4 L2123.5,233.4 L2125.0,233.3 L2126.5,233.3 L2128.0,233.3" fill="none" stroke="#fff" stroke-opacity="0.7" stroke-width="6.5" stroke-linejoin="round"/><path d="M142.0,681.0 L143.5,679.1 L145.0,677.3 L146.5,675.4 L148.0,673.7 L149.5,672.0 L151.0,670.4 L152.5,668.9 L154.0,667.5 L155.5,666.2 L157.0,665.1 L158.5,664.0 L160.0,663.1 L161.5,662.2 L163.0,661.5 L164.5,660.9 L166.0,660.5 L167.5,660.2 L169.0,660.2 L170.5,660.3 L172.0,660.6 L173.5,661.1 L175.0,661.8 L176.5,662.5 L178.0,663.4 L179.5,664.3 L181.0,665.2 L182.5,666.1 L184.0,667.0 L185.5,667.8 L187.0,668.5 L188.5,669.2 L190.0,669.8 L191.5,670.5 L193.0,671.1 L194.5,671.8 L196.0,672.3 L197.5,672.8 L199.0,673.1 L200.5,673.2 L202.0,673.1 L203.5,672.7 L205.0,671.8 L206.5,670.6 L208.0,669.2 L209.5,667.5 L211.0,665.7 L212.5,663.8 L214.0,661.9 L215.5,660.1 L217.0,658.4 L218.5,656.6 L220.0,654.7 L221.5,652.7 L223.0,650.7 L224.5,648.7 L226.0,646.9 L227.5,645.2 L229.0,643.9 L230.5,643.0 L232.0,642.4 L233.5,642.1 L235.0,642.0 L236.5,641.9 L238.0,641.8 L239.5,641.8 L241.0,641.7 L242.5,641.7 L244.0,641.7 L245.5,641.6 L247.0,641.6 L248.5,641.6 L250.0,641.5 L251.5,641.5 L253.0,641.5 L254.5,641.5 L256.0,641.5 L257.5,641.5 L259.0,641.5 L260.5,641.5 L262.0,641.5 L263.5,641.5 L265.0,641.5 L266.5,641.5 L268.0,641.5 L269.5,641.5 L271.0,641.5 L272.5,641.5 L274.0,641.5 L275.5,641.5 L277.0,641.5 L278.5,641.5 L280.0,641.5 L281.5,641.4 L283.0,641.3 L284.5,641.2 L286.0,641.0 L287.5,640.8 L289.0,640.5 L290.5,640.2 L292.0,639.9 L293.5,639.5 L295.0,639.1 L296.5,638.6 L298.0,638.1 L299.5,637.5 L301.0,636.8 L302.5,636.0 L304.0,635.1 L305.5,634.2 L307.0,633.3 L308.5,632.3 L310.0,631.4 L311.5,630.5 L313.0,629.6 L314.5,628.9 L316.0,628.1 L317.5,627.4 L319.0,626.6 L320.5,625.9 L322.0,625.2 L323.5,624.5 L325.0,623.8 L326.5,623.0 L328.0,622.1 L329.5,621.2 L331.0,620.3 L332.5,619.3 L334.0,618.2 L335.5,617.1 L337.0,615.9 L338.5,614.8 L340.0,613.7 L341.5,612.7 L343.0,611.6 L344.5,610.7 L346.0,609.7 L347.5,608.8 L349.0,607.8 L350.5,607.0 L352.0,606.2 L353.5,605.5 L355.0,604.9 L356.5,604.5 L358.0,604.2 L359.5,604.0 L361.0,604.0 L362.5,603.9 L364.0,603.9 L365.5,603.9 L367.0,603.9 L368.5,603.9 L370.0,603.9 L371.5,603.9 L373.0,603.9 L374.5,603.9 L376.0,603.9 L377.5,603.8 L379.0,603.8 L380.5,603.8 L382.0,603.8 L383.5,603.8 L385.0,603.8 L386.5,603.8 L388.0,603.8 L389.5,603.8 L391.0,603.7 L392.5,603.7 L394.0,603.6 L395.5,603.3 L397.0,602.9 L398.5,602.4 L400.0,601.8 L401.5,601.1 L403.0,600.5 L404.5,599.8 L406.0,599.2 L407.5,598.6 L409.0,598.1 L410.5,597.5 L412.0,597.0 L413.5,596.4 L415.0,595.9 L416.5,595.4 L418.0,594.9 L419.5,594.5 L421.0,594.2 L422.5,594.0 L424.0,593.8 L425.5,593.8 L427.0,594.0 L428.5,594.3 L430.0,594.7 L431.5,595.2 L433.0,595.8 L434.5,596.5 L436.0,597.1 L437.5,597.8 L439.0,598.5 L440.5,599.2 L442.0,599.9 L443.5,600.7 L445.0,601.5 L446.5,602.4 L448.0,603.3 L449.5,604.2 L451.0,605.1 L452.5,606.1 L454.0,607.0 L455.5,608.0 L457.0,609.0 L458.5,610.0 L460.0,611.1 L461.5,612.1 L463.0,613.1 L464.5,614.1 L466.0,615.2 L467.5,616.2 L469.0,617.3 L470.5,618.3 L472.0,619.4 L473.5,620.5 L475.0,621.6 L476.5,622.7 L478.0,623.8 L479.5,625.0 L481.0,626.1 L482.5,627.3 L484.0,628.5 L485.5,629.7 L487.0,631.0 L488.5,632.2 L490.0,633.5 L491.5,634.9 L493.0,636.3 L494.5,637.7 L496.0,639.1 L497.5,640.5 L499.0,641.8 L500.5,643.0 L502.0,644.2 L503.5,645.2 L505.0,646.2 L506.5,647.1 L508.0,648.0 L509.5,648.8 L511.0,649.6 L512.5,650.2 L514.0,650.6 L515.5,651.0 L517.0,651.1 L518.5,651.1 L520.0,650.9 L521.5,650.5 L523.0,650.0 L524.5,649.4 L526.0,648.7 L527.5,647.9 L529.0,647.1 L530.5,646.1 L532.0,645.0 L533.5,643.8 L535.0,642.5 L536.5,641.1 L538.0,639.7 L539.5,638.2 L541.0,636.7 L542.5,635.3 L544.0,633.8 L545.5,632.5 L547.0,631.1 L548.5,629.9 L550.0,628.7 L551.5,627.6 L553.0,626.4 L554.5,625.3 L556.0,624.3 L557.5,623.2 L559.0,622.1 L560.5,621.1 L562.0,620.1 L563.5,619.1 L565.0,618.2 L566.5,617.3 L568.0,616.4 L569.5,615.5 L571.0,614.7 L572.5,613.9 L574.0,613.1 L575.5,612.3 L577.0,611.6 L578.5,611.0 L580.0,610.3 L581.5,609.7 L583.0,609.1 L584.5,608.5 L586.0,608.0 L587.5,607.5 L589.0,607.0 L590.5,606.5 L592.0,606.1 L593.5,605.7 L595.0,605.4 L596.5,605.1 L598.0,604.8 L599.5,604.6 L601.0,604.4 L602.5,604.2 L604.0,604.1 L605.5,604.1 L607.0,604.0 L608.5,604.1 L610.0,604.1 L611.5,604.2 L613.0,604.3 L614.5,604.5 L616.0,604.7 L617.5,605.0 L619.0,605.5 L620.5,606.2 L622.0,607.0 L623.5,608.0 L625.0,609.1 L626.5,610.2 L628.0,611.4 L629.5,612.6 L631.0,613.8 L632.5,615.0 L634.0,616.2 L635.5,617.4 L637.0,618.6 L638.5,619.9 L640.0,621.2 L641.5,622.7 L643.0,624.2 L644.5,625.9 L646.0,627.7 L647.5,629.7 L649.0,631.9 L650.5,634.3 L652.0,636.9 L653.5,639.5 L655.0,642.1 L656.5,644.7 L658.0,647.1 L659.5,649.4 L661.0,651.5 L662.5,653.5 L664.0,655.5 L665.5,657.4 L667.0,659.2 L668.5,660.8 L670.0,662.2 L671.5,663.3 L673.0,664.2 L674.5,664.7 L676.0,664.7 L677.5,664.2 L679.0,663.2 L680.5,661.7 L682.0,659.7 L683.5,657.5 L685.0,655.0 L686.5,652.1 L688.0,648.9 L689.5,645.2 L691.0,641.3 L692.5,637.2 L694.0,633.2 L695.5,629.4 L697.0,625.9 L698.5,622.8 L700.0,620.1 L701.5,617.6 L703.0,615.4 L704.5,613.5 L706.0,612.0 L707.5,611.0 L709.0,610.4 L710.5,610.2 L712.0,610.2 L713.5,610.4 L715.0,610.6 L716.5,610.8 L718.0,611.0 L719.5,611.2 L721.0,611.4 L722.5,611.6 L724.0,611.8 L725.5,612.0 L727.0,612.2 L728.5,612.4 L730.0,612.5 L731.5,612.7 L733.0,612.8 L734.5,612.9 L736.0,612.9 L737.5,612.7 L739.0,612.2 L740.5,611.4 L742.0,610.2 L743.5,608.7 L745.0,606.9 L746.5,604.9 L748.0,602.7 L749.5,600.5 L751.0,598.3 L752.5,596.0 L754.0,593.7 L755.5,591.4 L757.0,588.9 L758.5,586.3 L760.0,583.6 L761.5,580.9 L763.0,578.0 L764.5,575.0 L766.0,571.8 L767.5,568.5 L769.0,564.9 L770.5,561.2 L772.0,557.3 L773.5,553.2 L775.0,548.8 L776.5,544.3 L778.0,539.4 L779.5,534.2 L781.0,528.8 L782.5,523.3 L784.0,517.7 L785.5,512.1 L787.0,506.5 L788.5,500.9 L790.0,495.5 L791.5,490.1 L793.0,484.9 L794.5,480.1 L796.0,475.9 L797.5,472.7 L799.0,470.3 L800.5,468.6 L802.0,467.3 L803.5,466.3 L805.0,465.5 L806.5,464.8 L808.0,464.2 L809.5,463.7 L811.0,463.3 L812.5,462.9 L814.0,462.7 L815.5,462.5 L817.0,462.3 L818.5,462.1 L820.0,461.8 L821.5,461.5 L823.0,461.2 L824.5,460.7 L826.0,460.2 L827.5,459.5 L829.0,458.9 L830.5,458.2 L832.0,457.5 L833.5,456.7 L835.0,455.8 L836.5,454.8 L838.0,453.6 L839.5,452.3 L841.0,450.8 L842.5,449.0 L844.0,447.1 L845.5,445.0 L847.0,442.8 L848.5,440.5 L850.0,438.3 L851.5,436.1 L853.0,434.1 L854.5,432.2 L856.0,430.6 L857.5,429.2 L859.0,427.9 L860.5,426.8 L862.0,425.9 L863.5,425.0 L865.0,424.3 L866.5,423.6 L868.0,423.1 L869.5,422.6 L871.0,422.2 L872.5,421.8 L874.0,421.5 L875.5,421.2 L877.0,420.9 L878.5,420.7 L880.0,420.5 L881.5,420.3 L883.0,420.1 L884.5,420.0 L886.0,419.9 L887.5,419.7 L889.0,419.7 L890.5,419.6 L892.0,419.6 L893.5,419.6 L895.0,419.7 L896.5,419.9 L898.0,420.3 L899.5,420.9 L901.0,421.6 L902.5,422.5 L904.0,423.4 L905.5,424.4 L907.0,425.4 L908.5,426.4 L910.0,427.4 L911.5,428.5 L913.0,429.6 L914.5,430.8 L916.0,432.1 L917.5,433.4 L919.0,434.6 L920.5,435.7 L922.0,436.5 L923.5,437.1 L925.0,437.5 L926.5,437.6 L928.0,437.6 L929.5,437.6 L931.0,437.5 L932.5,437.4 L934.0,437.2 L935.5,437.0 L937.0,436.9 L938.5,436.6 L940.0,436.4 L941.5,436.2 L943.0,435.9 L944.5,435.6 L946.0,435.3 L947.5,435.1 L949.0,434.8 L950.5,434.5 L952.0,434.1 L953.5,433.7 L955.0,433.3 L956.5,432.8 L958.0,432.3 L959.5,431.6 L961.0,430.9 L962.5,430.1 L964.0,429.1 L965.5,428.0 L967.0,426.9 L968.5,425.6 L970.0,424.3 L971.5,423.0 L973.0,421.7 L974.5,420.5 L976.0,419.3 L977.5,418.1 L979.0,417.0 L980.5,415.9 L982.0,414.8 L983.5,413.8 L985.0,412.8 L986.5,412.0 L988.0,411.3 L989.5,410.7 L991.0,410.3 L992.5,409.9 L994.0,409.7 L995.5,409.4 L997.0,409.2 L998.5,409.0 L1000.0,408.9 L1001.5,408.7 L1003.0,408.6 L1004.5,408.5 L1006.0,408.5 L1007.5,408.4 L1009.0,408.3 L1010.5,408.3 L1012.0,408.2 L1013.5,408.2 L1015.0,408.1 L1016.5,408.1 L1018.0,408.1 L1019.5,408.0 L1021.0,408.0 L1022.5,408.0 L1024.0,408.1 L1025.5,408.3 L1027.0,408.7 L1028.5,409.1 L1030.0,409.7 L1031.5,410.4 L1033.0,411.0 L1034.5,411.7 L1036.0,412.3 L1037.5,412.9 L1039.0,413.4 L1040.5,414.0 L1042.0,414.6 L1043.5,415.1 L1045.0,415.7 L1046.5,416.2 L1048.0,416.8 L1049.5,417.3 L1051.0,417.7 L1052.5,418.1 L1054.0,418.5 L1055.5,418.8 L1057.0,419.1 L1058.5,419.4 L1060.0,419.6 L1061.5,419.9 L1063.0,420.1 L1064.5,420.2 L1066.0,420.4 L1067.5,420.5 L1069.0,420.6 L1070.5,420.8 L1072.0,420.8 L1073.5,420.9 L1075.0,421.0 L1076.5,421.1 L1078.0,421.2 L1079.5,421.2 L1081.0,421.3 L1082.5,421.3 L1084.0,421.3 L1085.5,421.4 L1087.0,421.4 L1088.5,421.4 L1090.0,421.4 L1091.5,421.4 L1093.0,421.4 L1094.5,421.3 L1096.0,421.3 L1097.5,421.2 L1099.0,421.1 L1100.5,421.0 L1102.0,420.9 L1103.5,420.8 L1105.0,420.7 L1106.5,420.5 L1108.0,420.4 L1109.5,420.2 L1111.0,420.0 L1112.5,419.8 L1114.0,419.6 L1115.5,419.3 L1117.0,419.1 L1118.5,418.9 L1120.0,418.6 L1121.5,418.4 L1123.0,418.2 L1124.5,417.9 L1126.0,417.7 L1127.5,417.4 L1129.0,417.2 L1130.5,416.9 L1132.0,416.6 L1133.5,416.2 L1135.0,415.8 L1136.5,415.4 L1138.0,414.9 L1139.5,414.4 L1141.0,413.8 L1142.5,413.2 L1144.0,412.5 L1145.5,411.6 L1147.0,410.7 L1148.5,409.7 L1150.0,408.5 L1151.5,407.3 L1153.0,406.1 L1154.5,404.9 L1156.0,403.6 L1157.5,402.5 L1159.0,401.4 L1160.5,400.3 L1162.0,399.2 L1163.5,398.1 L1165.0,397.0 L1166.5,396.0 L1168.0,395.1 L1169.5,394.2 L1171.0,393.5 L1172.5,392.9 L1174.0,392.4 L1175.5,392.0 L1177.0,391.7 L1178.5,391.5 L1180.0,391.2 L1181.5,391.1 L1183.0,390.9 L1184.5,390.8 L1186.0,390.6 L1187.5,390.5 L1189.0,390.4 L1190.5,390.2 L1192.0,390.1 L1193.5,390.0 L1195.0,389.9 L1196.5,389.9 L1198.0,389.8 L1199.5,389.8 L1201.0,389.7 L1202.5,389.6 L1204.0,389.5 L1205.5,389.4 L1207.0,389.2 L1208.5,389.0 L1210.0,388.8 L1211.5,388.6 L1213.0,388.3 L1214.5,387.9 L1216.0,387.6 L1217.5,387.2 L1219.0,386.8 L1220.5,386.4 L1222.0,386.0 L1223.5,385.5 L1225.0,385.1 L1226.5,384.6 L1228.0,384.2 L1229.5,383.7 L1231.0,383.2 L1232.5,382.8 L1234.0,382.3 L1235.5,381.8 L1237.0,381.2 L1238.5,380.7 L1240.0,380.2 L1241.5,379.6 L1243.0,379.0 L1244.5,378.4 L1246.0,377.7 L1247.5,377.1 L1249.0,376.3 L1250.5,375.6 L1252.0,374.8 L1253.5,373.9 L1255.0,373.1 L1256.5,372.2 L1258.0,371.4 L1259.5,370.6 L1261.0,369.9 L1262.5,369.2 L1264.0,368.5 L1265.5,367.9 L1267.0,367.4 L1268.5,366.8 L1270.0,366.3 L1271.5,365.9 L1273.0,365.6 L1274.5,365.5 L1276.0,365.5 L1277.5,365.6 L1279.0,365.9 L1280.5,366.3 L1282.0,366.8 L1283.5,367.4 L1285.0,368.1 L1286.5,368.8 L1288.0,369.4 L1289.5,370.0 L1291.0,370.7 L1292.5,371.3 L1294.0,371.9 L1295.5,372.6 L1297.0,373.3 L1298.5,373.9 L1300.0,374.4 L1301.5,374.7 L1303.0,374.9 L1304.5,375.0 L1306.0,374.9 L1307.5,374.6 L1309.0,374.4 L1310.5,374.0 L1312.0,373.6 L1313.5,373.2 L1315.0,372.7 L1316.5,372.3 L1318.0,371.8 L1319.5,371.3 L1321.0,370.8 L1322.5,370.3 L1324.0,369.7 L1325.5,369.1 L1327.0,368.5 L1328.5,367.9 L1330.0,367.2 L1331.5,366.5 L1333.0,365.8 L1334.5,365.1 L1336.0,364.3 L1337.5,363.5 L1339.0,362.7 L1340.5,361.9 L1342.0,361.0 L1343.5,360.1 L1345.0,359.2 L1346.5,358.2 L1348.0,357.2 L1349.5,356.3 L1351.0,355.3 L1352.5,354.4 L1354.0,353.6 L1355.5,352.8 L1357.0,352.0 L1358.5,351.3 L1360.0,350.6 L1361.5,349.9 L1363.0,349.3 L1364.5,348.8 L1366.0,348.4 L1367.5,348.2 L1369.0,348.1 L1370.5,348.1 L1372.0,348.2 L1373.5,348.3 L1375.0,348.4 L1376.5,348.6 L1378.0,348.8 L1379.5,349.0 L1381.0,349.3 L1382.5,349.5 L1384.0,349.7 L1385.5,349.9 L1387.0,350.1 L1388.5,350.3 L1390.0,350.5 L1391.5,350.8 L1393.0,351.0 L1394.5,351.3 L1396.0,351.5 L1397.5,351.7 L1399.0,351.8 L1400.5,352.0 L1402.0,352.0 L1403.5,351.9 L1405.0,351.7 L1406.5,351.3 L1408.0,350.8 L1409.5,350.1 L1411.0,349.4 L1412.5,348.7 L1414.0,347.9 L1415.5,347.2 L1417.0,346.4 L1418.5,345.5 L1420.0,344.7 L1421.5,343.9 L1423.0,343.2 L1424.5,342.6 L1426.0,342.2 L1427.5,342.0 L1429.0,341.8 L1430.5,341.7 L1432.0,341.6 L1433.5,341.6 L1435.0,341.5 L1436.5,341.4 L1438.0,341.4 L1439.5,341.4 L1441.0,341.3 L1442.5,341.3 L1444.0,341.3 L1445.5,341.3 L1447.0,341.3 L1448.5,341.3 L1450.0,341.3 L1451.5,341.3 L1453.0,341.3 L1454.5,341.3 L1456.0,341.3 L1457.5,341.2 L1459.0,341.2 L1460.5,341.2 L1462.0,341.2 L1463.5,341.2 L1465.0,341.2 L1466.5,341.2 L1468.0,341.2 L1469.5,341.2 L1471.0,341.2 L1472.5,341.1 L1474.0,341.0 L1475.5,340.9 L1477.0,340.7 L1478.5,340.5 L1480.0,340.3 L1481.5,340.0 L1483.0,339.6 L1484.5,339.3 L1486.0,338.9 L1487.5,338.4 L1489.0,338.0 L1490.5,337.4 L1492.0,336.9 L1493.5,336.3 L1495.0,335.6 L1496.5,334.9 L1498.0,334.1 L1499.5,333.1 L1501.0,332.0 L1502.5,330.9 L1504.0,329.6 L1505.5,328.3 L1507.0,327.0 L1508.5,325.7 L1510.0,324.5 L1511.5,323.3 L1513.0,322.0 L1514.5,320.8 L1516.0,319.5 L1517.5,318.2 L1519.0,317.0 L1520.5,315.8 L1522.0,314.6 L1523.5,313.6 L1525.0,312.7 L1526.5,311.9 L1528.0,311.3 L1529.5,310.7 L1531.0,310.2 L1532.5,309.8 L1534.0,309.4 L1535.5,309.1 L1537.0,308.8 L1538.5,308.6 L1540.0,308.3 L1541.5,308.1 L1543.0,307.9 L1544.5,307.7 L1546.0,307.5 L1547.5,307.2 L1549.0,307.0 L1550.5,306.7 L1552.0,306.4 L1553.5,306.0 L1555.0,305.7 L1556.5,305.4 L1558.0,305.1 L1559.5,304.7 L1561.0,304.4 L1562.5,304.1 L1564.0,303.8 L1565.5,303.4 L1567.0,303.1 L1568.5,302.8 L1570.0,302.4 L1571.5,302.1 L1573.0,301.7 L1574.5,301.3 L1576.0,301.0 L1577.5,300.6 L1579.0,300.2 L1580.5,299.8 L1582.0,299.4 L1583.5,299.0 L1585.0,298.6 L1586.5,298.2 L1588.0,297.8 L1589.5,297.4 L1591.0,297.0 L1592.5,296.6 L1594.0,296.2 L1595.5,295.8 L1597.0,295.4 L1598.5,295.0 L1600.0,294.5 L1601.5,294.1 L1603.0,293.6 L1604.5,293.1 L1606.0,292.6 L1607.5,292.1 L1609.0,291.5 L1610.5,290.9 L1612.0,290.3 L1613.5,289.7 L1615.0,289.0 L1616.5,288.2 L1618.0,287.5 L1619.5,286.6 L1621.0,285.8 L1622.5,284.8 L1624.0,283.8 L1625.5,282.8 L1627.0,281.7 L1628.5,280.6 L1630.0,279.6 L1631.5,278.5 L1633.0,277.5 L1634.5,276.5 L1636.0,275.6 L1637.5,274.8 L1639.0,274.0 L1640.5,273.3 L1642.0,272.6 L1643.5,272.0 L1645.0,271.3 L1646.5,270.8 L1648.0,270.3 L1649.5,269.9 L1651.0,269.6 L1652.5,269.4 L1654.0,269.4 L1655.5,269.5 L1657.0,269.6 L1658.5,269.8 L1660.0,270.1 L1661.5,270.4 L1663.0,270.7 L1664.5,271.0 L1666.0,271.4 L1667.5,271.8 L1669.0,272.1 L1670.5,272.4 L1672.0,272.8 L1673.5,273.1 L1675.0,273.4 L1676.5,273.8 L1678.0,274.1 L1679.5,274.5 L1681.0,274.8 L1682.5,275.1 L1684.0,275.3 L1685.5,275.3 L1687.0,275.3 L1688.5,275.0 L1690.0,274.5 L1691.5,273.8 L1693.0,273.0 L1694.5,272.1 L1696.0,271.2 L1697.5,270.2 L1699.0,269.2 L1700.5,268.1 L1702.0,266.9 L1703.5,265.8 L1705.0,264.7 L1706.5,263.7 L1708.0,262.9 L1709.5,262.4 L1711.0,262.2 L1712.5,262.0 L1714.0,262.0 L1715.5,262.0 L1717.0,262.0 L1718.5,262.0 L1720.0,262.0 L1721.5,262.0 L1723.0,262.0 L1724.5,262.0 L1726.0,262.0 L1727.5,262.0 L1729.0,262.1 L1730.5,262.2 L1732.0,262.3 L1733.5,262.4 L1735.0,262.6 L1736.5,262.7 L1738.0,262.9 L1739.5,263.1 L1741.0,263.3 L1742.5,263.4 L1744.0,263.5 L1745.5,263.6 L1747.0,263.6 L1748.5,263.5 L1750.0,263.2 L1751.5,262.7 L1753.0,262.0 L1754.5,261.2 L1756.0,260.3 L1757.5,259.3 L1759.0,258.3 L1760.5,257.3 L1762.0,256.4 L1763.5,255.4 L1765.0,254.4 L1766.5,253.3 L1768.0,252.2 L1769.5,251.0 L1771.0,249.9 L1772.5,248.7 L1774.0,247.5 L1775.5,246.3 L1777.0,245.1 L1778.5,244.0 L1780.0,242.9 L1781.5,241.8 L1783.0,240.8 L1784.5,239.7 L1786.0,238.7 L1787.5,237.6 L1789.0,236.6 L1790.5,235.6 L1792.0,234.6 L1793.5,233.7 L1795.0,232.8 L1796.5,232.0 L1798.0,231.2 L1799.5,230.6 L1801.0,230.0 L1802.5,229.4 L1804.0,229.0 L1805.5,228.5 L1807.0,228.2 L1808.5,227.9 L1810.0,227.8 L1811.5,228.0 L1813.0,228.5 L1814.5,229.5 L1816.0,230.9 L1817.5,232.6 L1819.0,234.3 L1820.5,236.1 L1822.0,237.9 L1823.5,239.8 L1825.0,241.8 L1826.5,243.7 L1828.0,245.6 L1829.5,247.6 L1831.0,249.5 L1832.5,251.3 L1834.0,253.0 L1835.5,254.6 L1837.0,256.0 L1838.5,257.3 L1840.0,258.2 L1841.5,258.9 L1843.0,259.3 L1844.5,259.4 L1846.0,259.4 L1847.5,259.2 L1849.0,259.0 L1850.5,258.7 L1852.0,258.4 L1853.5,258.2 L1855.0,257.9 L1856.5,257.7 L1858.0,257.4 L1859.5,257.1 L1861.0,256.9 L1862.5,256.6 L1864.0,256.4 L1865.5,256.2 L1867.0,256.1 L1868.5,256.0 L1870.0,256.0 L1871.5,256.0 L1873.0,256.2 L1874.5,256.5 L1876.0,256.8 L1877.5,257.2 L1879.0,257.7 L1880.5,258.3 L1882.0,258.8 L1883.5,259.4 L1885.0,260.0 L1886.5,260.6 L1888.0,261.2 L1889.5,261.8 L1891.0,262.6 L1892.5,263.4 L1894.0,264.2 L1895.5,264.9 L1897.0,265.7 L1898.5,266.3 L1900.0,266.9 L1901.5,267.2 L1903.0,267.5 L1904.5,267.4 L1906.0,267.2 L1907.5,266.7 L1909.0,266.0 L1910.5,265.2 L1912.0,264.2 L1913.5,263.2 L1915.0,262.1 L1916.5,261.1 L1918.0,260.0 L1919.5,258.8 L1921.0,257.5 L1922.5,256.2 L1924.0,254.8 L1925.5,253.4 L1927.0,252.0 L1928.5,250.6 L1930.0,249.4 L1931.5,248.4 L1933.0,247.5 L1934.5,246.9 L1936.0,246.4 L1937.5,246.1 L1939.0,245.8 L1940.5,245.6 L1942.0,245.4 L1943.5,245.2 L1945.0,245.1 L1946.5,244.9 L1948.0,244.8 L1949.5,244.7 L1951.0,244.6 L1952.5,244.5 L1954.0,244.4 L1955.5,244.3 L1957.0,244.1 L1958.5,244.0 L1960.0,243.9 L1961.5,243.7 L1963.0,243.6 L1964.5,243.4 L1966.0,243.2 L1967.5,243.0 L1969.0,242.8 L1970.5,242.6 L1972.0,242.4 L1973.5,242.1 L1975.0,241.9 L1976.5,241.7 L1978.0,241.5 L1979.5,241.3 L1981.0,241.1 L1982.5,240.9 L1984.0,240.7 L1985.5,240.5 L1987.0,240.3 L1988.5,240.2 L1990.0,240.1 L1991.5,240.0 L1993.0,239.9 L1994.5,239.9 L1996.0,239.9 L1997.5,239.9 L1999.0,240.1 L2000.5,240.5 L2002.0,240.9 L2003.5,241.4 L2005.0,241.9 L2006.5,242.5 L2008.0,243.1 L2009.5,243.7 L2011.0,244.2 L2012.5,244.8 L2014.0,245.4 L2015.5,246.0 L2017.0,246.7 L2018.5,247.3 L2020.0,247.9 L2021.5,248.4 L2023.0,248.9 L2024.5,249.2 L2026.0,249.4 L2027.5,249.5 L2029.0,249.6 L2030.5,249.5 L2032.0,249.5 L2033.5,249.5 L2035.0,249.4 L2036.5,249.3 L2038.0,249.2 L2039.5,249.1 L2041.0,249.0 L2042.5,248.8 L2044.0,248.7 L2045.5,248.5 L2047.0,248.3 L2048.5,248.1 L2050.0,247.9 L2051.5,247.6 L2053.0,247.4 L2054.5,247.1 L2056.0,246.7 L2057.5,246.3 L2059.0,245.9 L2060.5,245.5 L2062.0,245.0 L2063.5,244.6 L2065.0,244.1 L2066.5,243.6 L2068.0,243.1 L2069.5,242.6 L2071.0,242.2 L2072.5,241.7 L2074.0,241.2 L2075.5,240.8 L2077.0,240.3 L2078.5,239.8 L2080.0,239.3 L2081.5,238.8 L2083.0,238.3 L2084.5,237.9 L2086.0,237.4 L2087.5,236.9 L2089.0,236.5 L2090.5,236.1 L2092.0,235.7 L2093.5,235.4 L2095.0,235.1 L2096.5,234.8 L2098.0,234.6 L2099.5,234.4 L2101.0,234.2 L2102.5,234.1 L2104.0,234.0 L2105.5,233.9 L2107.0,233.8 L2108.5,233.7 L2110.0,233.7 L2111.5,233.6 L2113.0,233.6 L2114.5,233.5 L2116.0,233.5 L2117.5,233.4 L2119.0,233.4 L2120.5,233.4 L2122.0,233.4 L2123.5,233.4 L2125.0,233.3 L2126.5,233.3 L2128.0,233.3" fill="none" stroke="#ea003b" stroke-width="4.1" stroke-linejoin="round"/><rect x="2132" y="162.2" width="70" height="27.5" rx="6" fill="#0e93b8"/><text transform="translate(2166.3,183.5) scale(0.965,1)" text-anchor="middle" font-family="'Liberation Sans', Arial, sans-serif" font-size="20" fill="#fff" stroke="#fff" stroke-width="0.3">14.3%</text><rect x="2132" y="218.2" width="70" height="27.5" rx="6" fill="#e9003c"/><text transform="translate(2166.3,239.5) scale(0.965,1)" text-anchor="middle" font-family="'Liberation Sans', Arial, sans-serif" font-size="20" fill="#fff" stroke="#fff" stroke-width="0.3">12.7%</text><rect x="2132" y="290.1" width="70" height="27.5" rx="6" fill="#475569"/><text transform="translate(2166.3,311.4) scale(0.965,1)" text-anchor="middle" font-family="'Liberation Sans', Arial, sans-serif" font-size="20" fill="#fff" stroke="#fff" stroke-width="0.3">10.7%</text><circle cx="661" cy="786" r="8" fill="#e9003c"/><text transform="translate(680.5,794.2) scale(0.97,1)" font-family="'Liberation Sans', Arial, sans-serif" font-size="24.7" fill="#1a1a1a" stroke="#1a1a1a" stroke-width="0.3">Rate of Return</text><circle cx="879" cy="786" r="8" fill="#475569"/><text transform="translate(899.2,794.2) scale(0.994,1)" font-family="'Liberation Sans', Arial, sans-serif" font-size="24.7" fill="#1a1a1a" stroke="#1a1a1a" stroke-width="0.3">Position prices (start of period)</text><circle cx="1277" cy="786" r="8" fill="#0e93b8"/><text transform="translate(1295.2,794.2) scale(0.991,1)" font-family="'Liberation Sans', Arial, sans-serif" font-size="24.7" fill="#1a1a1a" stroke="#1a1a1a" stroke-width="0.3">Position prices (end of period)</text><circle cx="102" cy="115.6" r="23" fill="#e7e7e7" stroke="#a9a9a9" stroke-width="1.6"/><rect x="90.8" y="112.1" width="5.1" height="14.7" rx="1.3" fill="#1a1a1a"/><rect x="99.2" y="104.8" width="5.1" height="22" rx="1.3" fill="#1a1a1a"/><rect x="108.1" y="118.7" width="5" height="8.1" rx="1.3" fill="#1a1a1a"/><rect x="143" y="91" width="150" height="49.5" rx="24.75" fill="#c2dcfb" stroke="#4598f3" stroke-width="1.8"/><text transform="translate(159.0,126.2) scale(0.94,1)" font-family="'Liberation Sans', Arial, sans-serif" font-size="29.5" fill="#161616" stroke="#161616" stroke-width="0.3">Return %</text><text transform="translate(328.0,126.2) scale(0.958,1)" font-family="'Liberation Sans', Arial, sans-serif" font-size="29.5" fill="#161616" stroke="#161616" stroke-width="0.3">Compare Returns</text><text transform="translate(601.0,126.2) scale(0.961,1)" font-family="'Liberation Sans', Arial, sans-serif" font-size="29.5" fill="#161616" stroke="#161616" stroke-width="0.3">Compare Prices</text><text transform="translate(855.8,126.2) scale(0.936,1)" font-family="'Liberation Sans', Arial, sans-serif" font-size="29.5" fill="#161616" stroke="#161616" stroke-width="0.3">X-Ray</text><text transform="translate(983.6,126.2) scale(0.983,1)" font-family="'Liberation Sans', Arial, sans-serif" font-size="29.5" fill="#161616" stroke="#161616" stroke-width="0.3">Heatmap</text><text transform="translate(1153.0,126.2) scale(0.97,1)" font-family="'Liberation Sans', Arial, sans-serif" font-size="29.5" fill="#161616" stroke="#161616" stroke-width="0.3">Variation</text><g fill="none" stroke="#111" stroke-width="2.2" stroke-linecap="round" stroke-linejoin="round"><path d="M1985 102.4 L2014 131.4"/><path d="M1994.85 103.4 A10.2 10.2 0 0 1 2008.86 117.96"/><path d="M1989.6 109.4 C1988.4 113.4 1988.9 117.6 1992.2 121.4 L1998.6 128 Q2000.2 129.3 2001.6 128 L2005.4 124.2"/><path d="M2000.4 110.6 L2001.8 112"/></g><g stroke="#7e7e7e" stroke-width="2.5" stroke-linecap="round" fill="none"><line x1="2046.2" y1="111" x2="2067.9" y2="111"/><line x1="2043.6" y1="120.9" x2="2065.9" y2="120.9"/><line x1="2054.3" y1="104.3" x2="2048.3" y2="127.6"/><line x1="2063.5" y1="104.3" x2="2057.6" y2="127.6"/></g><g fill="none" stroke="#111" stroke-width="2.7" stroke-linecap="round" stroke-linejoin="round"><path d="M2118.4 102.9 h3.4 a3.2 3.2 0 0 1 3.2 3.2 v3.6"/><path d="M2099.1 121.8 v3.6 a3.2 3.2 0 0 0 3.2 3.2 h3.9"/></g><g fill="#111"><circle cx="2099.4" cy="103.1" r="1.45"/><circle cx="2105.6" cy="103.1" r="1.45"/><circle cx="2112" cy="103.1" r="1.45"/><circle cx="2099.2" cy="109.4" r="1.45"/><circle cx="2099.2" cy="116" r="1.45"/><circle cx="2125" cy="115.9" r="1.45"/><circle cx="2125" cy="122.5" r="1.45"/><circle cx="2112" cy="128.6" r="1.45"/><circle cx="2118.4" cy="128.6" r="1.45"/><circle cx="2124.7" cy="128.6" r="1.45"/></g><g stroke="#111" stroke-width="3" stroke-linecap="butt"><line x1="2158.5" y1="106.6" x2="2177.5" y2="125.4"/><line x1="2177.5" y1="106.6" x2="2158.5" y2="125.4"/></g></svg>
</body></html>
